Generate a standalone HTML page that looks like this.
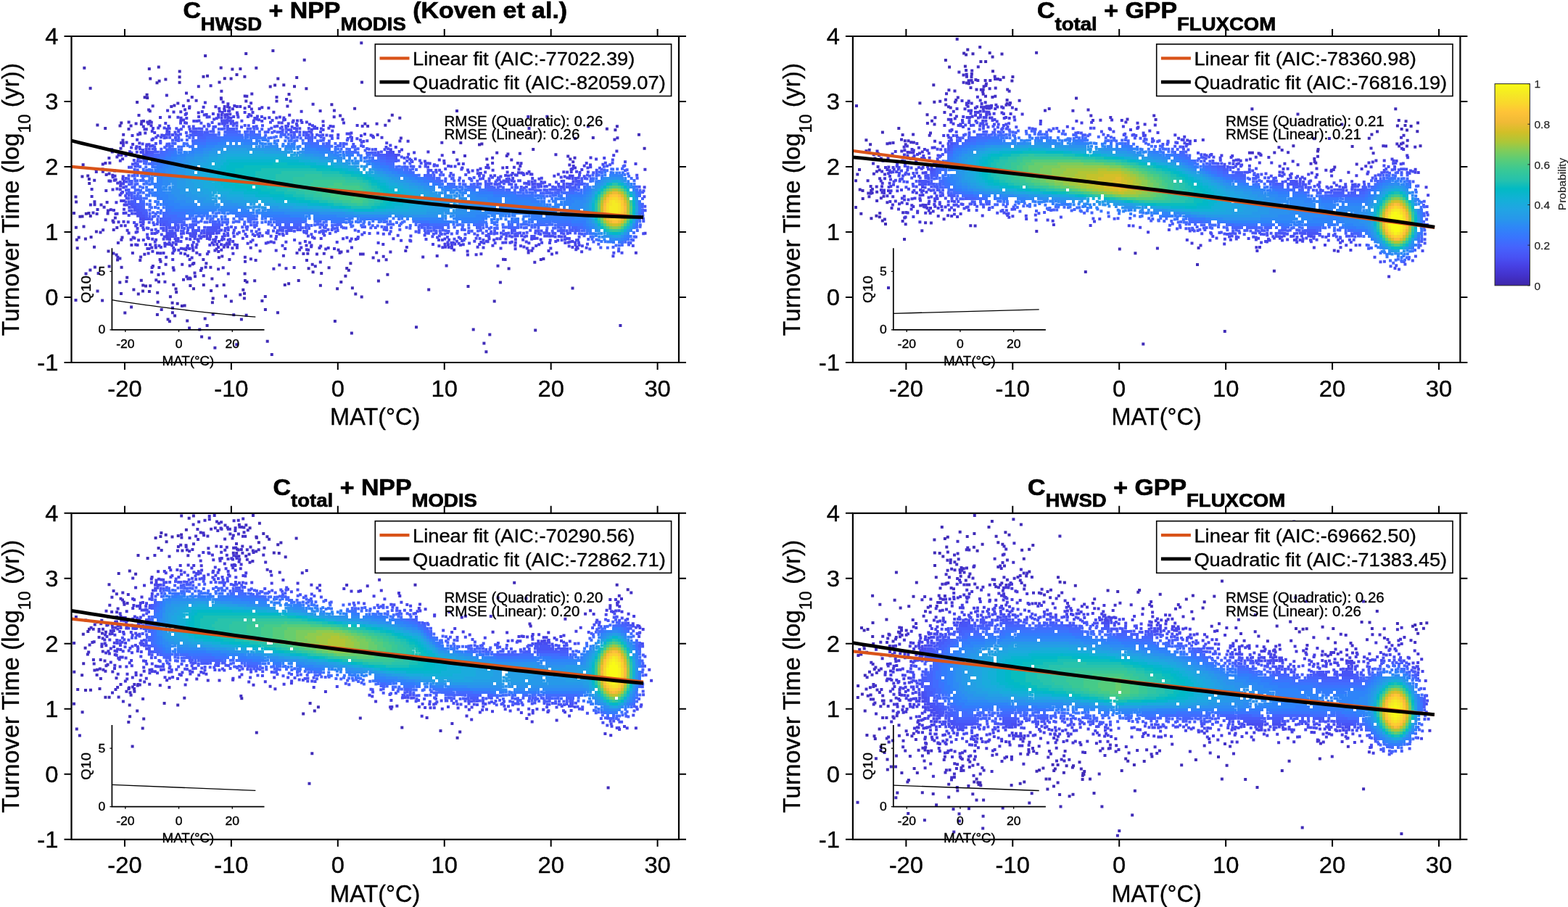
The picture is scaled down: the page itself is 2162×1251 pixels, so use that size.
<!DOCTYPE html>
<html><head><meta charset="utf-8"><title>Turnover time vs MAT</title><style>
*{margin:0;padding:0}
html,body{width:2162px;height:1251px;background:#fff;overflow:hidden}
svg{display:block}
text{font-family:'Liberation Sans', Arial, Helvetica, sans-serif;fill:#000;stroke:#000;stroke-width:0.35px}
.tk{font-size:31.5px}
.al{font-size:33px}
.als{font-size:23px}
.ti{font-size:32px;font-weight:bold;stroke-width:0.7px}
.ts{font-size:26px}
.lg{font-size:25.8px}
.rm{font-size:19.3px}
.itk{font-size:16px}
.il{font-size:18.8px}
.cbt{font-size:15.5px;fill:#262626;stroke:#262626;stroke-width:0.25px}
.cbl{font-size:15.5px;fill:#262626;stroke:#262626;stroke-width:0.2px}
</style></head><body>
<svg width="2162" height="1251" viewBox="0 0 2162 1251">
<g stroke-width="4" fill="none" shape-rendering="crispEdges"><path stroke="#4745e9" d="M288 326h4M232 330h4"/>
<path stroke="#484df0" d="M200 210h4M536 210h8M544 214h4M192 302h8M232 322h8M284 322h12M232 326h8"/>
<path stroke="#4854f6" d="M268 182h4M240 190h4M204 210h8M532 210h4M196 214h8M532 214h12M196 218h4M544 218h4M796 250h4M780 258h4M180 282h4M184 286h4M184 290h8M188 294h8M192 298h8M200 302h4M224 310h4M232 314h4M288 314h16M264 318h12M284 318h16M704 318h4"/>
<path stroke="#475cfa" d="M312 178h12M272 182h4M268 186h12M424 190h8M204 214h8M520 214h12M200 218h8M532 218h12M544 222h4M668 254h8M796 254h8M784 258h4M184 274h4M180 278h8M184 282h8M188 286h8M192 290h8M196 294h8M200 298h4M220 302h4M220 306h12M228 310h8M240 310h4M264 310h8M292 310h12M264 314h4M272 314h4M384 314h28M792 318h4"/>
<path stroke="#4564fd" d="M312 182h16M344 182h8M280 186h16M272 190h12M424 194h8M212 214h8M516 214h4M208 218h8M524 218h8M200 222h4M532 222h12M584 242h12M596 246h4M668 258h12M796 258h4M784 262h8M752 266h8M764 266h8M188 274h8M884 274h4M192 278h4M192 282h8M196 286h4M884 290h4M884 294h4M224 298h4M224 302h12M232 306h20M292 306h4M380 310h8M392 310h8M404 310h12M580 310h12M588 314h4M600 314h12M656 314h4M700 314h16M788 314h8M796 318h4"/>
<path stroke="#416cfe" d="M312 186h20M344 186h16M284 190h20M268 194h16M428 198h12M448 202h4M232 206h8M480 206h4M224 210h8M484 210h8M220 214h8M216 218h4M512 218h4M520 218h4M208 222h8M524 222h8M204 226h8M532 226h12M564 238h4M588 246h8M600 250h4M616 254h12M644 258h16M804 258h4M672 262h20M708 266h4M732 266h4M776 266h16M880 266h4M880 270h4M196 278h4M224 294h8M228 298h16M236 302h24M344 302h8M880 302h4M380 306h40M592 310h28M652 310h12M700 310h8M712 310h4M736 310h16M768 310h20M796 314h8"/>
<path stroke="#3a74fe" d="M304 190h32M344 190h16M284 194h20M268 198h16M420 198h8M428 202h20M452 206h4M232 210h8M476 210h8M228 214h8M220 218h8M216 222h8M512 222h12M212 226h8M524 226h8M536 230h8M544 234h8M556 238h8M568 242h8M580 246h8M592 250h8M604 254h8M620 258h8M652 262h4M660 262h12M804 262h4M876 262h4M680 266h28M792 266h4M712 270h24M780 270h4M880 278h4M880 282h4M228 290h8M232 294h24M880 294h4M244 298h12M260 298h4M324 298h28M880 298h4M376 302h40M456 306h16M572 306h20M660 306h8M704 306h12M732 306h4M740 306h20M764 306h24M788 310h16M876 310h4M804 314h4M808 318h4M812 322h4M864 330h4M856 334h4"/>
<path stroke="#327cfc" d="M304 194h8M316 194h32M352 194h4M284 198h16M272 202h12M420 202h8M264 206h4M436 206h16M240 210h4M456 210h4M236 214h8M480 214h8M228 218h8M224 222h8M508 222h4M220 226h8M516 226h8M216 230h8M524 230h12M216 234h4M536 234h8M216 238h4M548 238h8M212 242h4M560 242h8M208 246h4M572 246h8M584 250h8M212 254h4M596 254h8M212 258h4M612 258h8M872 258h4M208 262h4M640 262h12M808 262h4M212 266h4M660 266h20M804 266h4M876 266h4M216 270h4M680 270h32M784 270h20M216 274h8M704 274h32M780 274h8M224 278h4M732 278h12M224 282h8M228 286h12M880 286h4M236 290h32M880 290h4M256 294h32M320 294h24M748 294h16M360 298h40M732 298h16M752 298h20M416 302h4M432 302h44M496 302h36M560 302h4M664 302h4M732 302h60M592 306h28M628 306h4M636 306h24M788 306h20M876 306h4M804 310h4M808 314h4M812 318h4M864 326h4M860 330h4M844 334h4M852 334h4"/>
<path stroke="#2e84f9" d="M300 198h12M336 198h20M284 202h12M268 206h12M420 206h16M260 210h8M440 210h16M252 214h4M460 214h4M236 218h8M480 218h4M232 222h8M228 226h8M512 226h4M224 230h8M516 230h8M220 234h8M528 234h8M220 238h8M540 238h8M216 242h8M552 242h8M840 242h12M216 246h8M564 246h8M828 246h4M216 250h8M576 250h8M824 250h4M216 254h8M588 254h4M216 258h4M604 258h4M216 262h8M616 262h8M812 262h4M872 262h4M216 266h12M640 266h4M648 266h12M808 266h4M220 270h12M656 270h24M804 270h4M876 270h4M224 274h8M672 274h20M696 274h8M788 274h16M228 278h12M680 278h12M696 278h36M780 278h12M232 282h16M684 282h64M780 282h8M240 286h32M688 286h68M776 286h4M268 290h28M304 290h24M332 290h8M684 290h100M360 294h32M672 294h32M712 294h36M764 294h4M772 294h16M400 298h20M432 298h32M656 298h16M772 298h28M568 302h44M628 302h36M792 302h16M808 310h4M812 314h4M872 314h4M868 318h4M860 326h4M856 330h4"/>
<path stroke="#2d8bf4" d="M316 198h4M324 198h4M332 198h4M296 202h12M372 202h12M280 206h12M268 210h12M420 210h20M256 214h12M444 214h4M452 214h8M244 218h12M464 218h8M240 222h12M236 226h8M232 230h8M228 234h8M520 234h8M228 238h8M532 238h8M224 242h12M544 242h8M224 246h12M556 246h8M832 246h4M856 246h4M224 250h8M568 250h8M224 254h8M580 254h8M820 254h4M592 258h8M868 258h4M228 266h8M612 266h4M812 266h4M232 270h8M644 270h12M808 270h4M232 274h12M648 274h24M804 274h4M240 278h16M656 278h24M792 278h16M248 282h24M660 282h24M788 282h16M272 286h28M304 286h32M660 286h24M784 286h20M368 290h8M656 290h8M668 290h16M784 290h16M392 294h48M644 294h28M788 294h16M464 298h76M544 298h12M628 298h28M800 298h8M808 302h4M876 302h4M808 306h4M812 310h4M872 310h4M816 314h4M820 318h4M864 322h4M840 330h16"/>
<path stroke="#2b92ee" d="M308 202h40M292 206h12M380 206h8M392 206h4M280 210h8M416 210h4M268 214h12M432 214h12M256 218h12M452 218h12M252 222h8M476 222h4M244 226h12M240 230h12M236 234h12M516 234h4M236 238h8M528 238h4M236 242h8M536 242h8M236 246h8M548 246h4M836 246h20M232 250h12M560 250h8M828 250h4M240 254h4M572 254h8M824 254h4M864 254h4M240 258h4M584 258h8M820 258h4M236 262h12M592 262h8M816 262h4M236 266h12M240 270h16M612 270h8M812 270h4M244 274h20M636 274h8M808 274h4M876 274h4M256 278h12M272 278h8M632 278h24M808 278h4M276 282h20M308 282h20M632 282h28M804 282h4M336 286h4M632 286h28M804 286h4M376 290h24M628 290h16M648 290h8M804 290h4M440 294h36M628 294h16M804 294h4M556 298h48M808 298h4M876 298h4M812 306h4M816 310h4M836 326h4M856 326h4"/>
<path stroke="#2699e9" d="M304 206h4M312 206h4M340 206h40M288 210h12M396 210h4M280 214h8M420 214h12M268 218h12M440 218h12M260 222h12M464 222h8M256 226h8M252 230h8M248 234h8M244 238h12M520 238h8M244 242h12M532 242h4M244 246h12M540 246h8M244 250h12M552 250h8M832 250h4M244 254h12M564 254h8M828 254h4M244 258h12M576 258h8M824 258h4M248 262h8M584 262h8M820 262h4M248 266h16M592 266h4M816 266h4M872 266h4M256 270h16M600 270h8M264 274h20M608 274h16M812 274h4M280 278h16M304 278h16M608 278h16M876 278h4M328 282h12M612 282h8M808 282h4M876 282h4M372 286h12M608 286h16M808 286h4M400 290h32M604 290h16M808 290h4M476 294h12M536 294h4M588 294h24M808 294h4M876 294h4M812 302h4M820 314h4M868 314h4M864 318h4M860 322h4M840 326h4"/>
<path stroke="#249fe5" d="M316 206h24M304 210h8M364 210h32M288 214h12M412 214h8M280 218h8M428 218h12M272 222h12M452 222h8M264 226h12M472 226h8M260 230h12M488 230h4M256 234h12M256 238h12M516 238h4M256 242h8M524 242h8M256 246h8M536 246h4M256 250h8M544 250h8M836 250h4M856 250h4M256 254h12M556 254h8M256 258h12M564 258h12M260 262h12M576 262h8M264 266h16M584 266h8M272 270h16M588 270h12M816 270h4M284 274h8M304 274h8M596 274h12M320 278h20M596 278h12M812 278h4M364 282h8M596 282h16M384 286h20M596 286h12M876 286h4M432 290h24M588 290h16M876 290h4M488 294h48M540 294h48M812 294h4M812 298h4M816 306h4M872 306h4M820 310h4M844 326h4M852 326h4"/>
<path stroke="#1fa5e2" d="M312 210h32M348 210h16M300 214h8M392 214h4M400 214h4M288 218h12M416 218h12M284 222h8M440 222h12M276 226h12M464 226h8M276 230h4M480 230h8M268 234h12M272 238h4M264 242h12M520 242h4M264 246h12M528 246h8M264 250h12M536 250h8M840 250h4M268 254h12M548 254h8M832 254h4M860 254h4M268 258h12M556 258h8M864 258h4M276 262h12M564 262h12M280 266h12M572 266h12M288 270h4M304 270h8M584 270h4M872 270h4M312 274h24M584 274h12M340 278h16M584 278h12M372 282h16M584 282h12M812 282h4M404 286h20M580 286h16M812 286h4M456 290h16M564 290h24M812 290h4M816 302h4M824 314h4M848 326h4"/>
<path stroke="#1aabdd" d="M308 214h84M300 218h12M400 218h16M292 222h12M428 222h12M288 226h4M456 226h8M280 230h12M472 230h8M280 234h8M488 234h8M276 238h12M276 242h12M512 242h8M276 246h12M524 246h4M276 250h12M532 250h4M852 250h4M280 254h12M536 254h12M280 258h16M548 258h8M828 258h4M288 262h12M556 262h8M824 262h4M300 266h16M560 266h12M820 266h4M312 270h24M568 270h12M336 274h20M572 274h12M816 274h4M360 278h20M572 278h12M388 282h20M572 282h12M424 286h20M564 286h16M472 290h8M532 290h32M872 302h4M868 310h4M836 322h4M856 322h4"/>
<path stroke="#13b0d7" d="M312 218h88M304 222h8M412 222h16M296 226h12M436 226h16M292 230h12M460 230h12M288 234h12M480 234h8M288 238h12M496 238h4M288 242h12M508 242h4M288 246h12M516 246h8M288 250h4M296 250h4M524 250h8M844 250h8M292 254h12M532 254h4M296 258h12M536 258h12M300 262h20M548 262h8M316 266h20M552 266h8M868 266h4M336 270h16M556 270h12M356 274h20M556 274h16M872 274h4M380 278h12M396 278h4M560 278h12M816 278h4M408 282h16M556 282h16M444 286h12M544 286h20M480 290h8M516 290h16M816 294h4M816 298h4M820 306h4M864 314h4M860 318h4"/>
<path stroke="#07b5cf" d="M312 222h68M384 222h28M308 226h8M420 226h16M304 230h8M448 230h12M300 234h12M472 234h8M300 238h8M488 238h8M300 242h8M500 242h8M300 246h12M512 246h4M300 250h12M520 250h4M304 254h12M524 254h8M836 254h4M856 254h4M308 258h16M532 258h4M320 262h20M536 262h8M336 266h20M540 266h12M352 270h20M544 270h12M820 270h4M376 274h16M544 274h12M400 278h12M544 278h16M872 278h4M424 282h16M540 282h16M816 282h4M456 286h12M532 286h12M816 286h4M488 290h28M816 290h4M872 298h4M824 310h4M832 318h4M840 322h4M852 322h4"/>
<path stroke="#01b9c7" d="M316 226h60M396 226h24M312 230h24M428 230h20M312 234h12M456 234h16M308 238h16M476 238h12M308 242h16M496 242h4M312 246h16M504 246h8M312 250h20M512 250h8M316 254h20M520 254h4M324 258h24M524 258h8M832 258h4M860 258h4M340 262h20M528 262h8M864 262h4M356 266h16M532 266h8M824 266h4M372 270h20M536 270h8M392 274h16M536 274h8M412 278h16M536 278h8M440 282h12M532 282h8M872 282h4M468 286h8M520 286h12M872 290h4M872 294h4M820 302h4M868 306h4M828 314h4M844 322h8"/>
<path stroke="#09bdbe" d="M376 226h20M336 230h92M324 234h36M436 234h20M324 238h28M468 238h8M324 242h28M484 242h12M328 246h24M500 246h4M332 250h24M508 250h4M336 254h24M512 254h8M840 254h4M852 254h4M352 258h16M520 258h4M360 262h20M524 262h4M828 262h4M372 266h20M528 266h4M392 270h12M528 270h8M868 270h4M408 274h12M528 274h8M820 274h4M428 278h12M528 278h8M452 282h8M524 282h8M476 286h8M512 286h8M872 286h4"/>
<path stroke="#1bc0b4" d="M360 234h76M352 238h36M444 238h24M352 242h28M472 242h12M352 246h28M492 246h8M356 250h24M500 250h8M360 254h24M508 254h4M368 258h20M512 258h8M380 262h16M516 262h8M392 266h16M520 266h8M404 270h16M520 270h8M420 274h12M524 274h4M440 278h12M524 278h4M820 278h4M460 282h12M516 282h8M484 286h28M820 298h4M824 306h4M864 310h4M860 314h4M836 318h4M856 318h4"/>
<path stroke="#28c3ab" d="M388 238h56M380 242h40M444 242h28M380 246h24M476 246h16M380 250h24M496 250h4M384 254h20M504 254h4M844 254h8M388 258h20M508 258h4M836 258h4M856 258h4M396 262h16M512 262h4M408 266h12M516 266h4M864 266h4M420 270h12M516 270h4M824 270h4M432 274h12M516 274h8M452 278h8M516 278h8M472 282h8M508 282h8M820 282h4M820 286h4M820 290h4M820 294h4M868 302h4M828 310h4M832 314h4"/>
<path stroke="#31c5a1" d="M420 242h24M404 246h72M404 250h28M476 250h20M404 254h24M496 254h8M408 258h20M500 258h8M412 262h16M504 262h8M860 262h4M420 266h16M508 266h8M828 266h4M432 270h12M508 270h8M444 274h12M508 274h8M460 278h12M508 278h8M480 282h12M500 282h8M840 318h4M852 318h4"/>
<path stroke="#39c895" d="M432 250h44M428 254h32M472 254h24M428 258h24M496 258h4M428 262h20M500 262h4M832 262h4M436 266h16M500 266h8M444 270h12M504 270h4M456 274h12M504 274h4M824 274h4M472 278h12M500 278h8M868 278h4M492 282h8M868 298h4M824 302h4M864 306h4M844 318h8"/>
<path stroke="#45cb89" d="M460 254h12M452 258h44M840 258h4M852 258h4M448 262h52M452 266h48M456 270h28M496 270h8M864 270h4M468 274h20M496 274h8M484 278h16M868 282h4M868 294h4M824 298h4M860 310h4M836 314h4M856 314h4"/>
<path stroke="#55cc7b" d="M844 258h8M484 270h12M828 270h4M488 274h8M824 278h4M868 286h4M868 290h4M828 306h4M832 310h4"/>
<path stroke="#67cd6d" d="M836 262h4M856 262h4M832 266h4M860 266h4M824 282h4M824 286h4M824 290h4M824 294h4M864 302h4"/>
<path stroke="#7acc5e" d="M864 274h4M828 302h4M840 314h4M852 314h4"/>
<path stroke="#8ecb4f" d="M840 262h4M852 262h4M828 274h4M864 298h4M860 306h4M856 310h4M844 314h8"/>
<path stroke="#a1c840" d="M860 270h4M864 278h4M828 298h4M832 306h4M836 310h4"/>
<path stroke="#b3c534" d="M844 262h8M836 266h4M856 266h4M832 270h4M828 278h4M864 282h4M864 286h4M864 290h4M864 294h4"/>
<path stroke="#c4c22b" d="M860 274h4M828 282h4M828 294h4M860 302h4M840 310h4M852 310h4"/>
<path stroke="#d4bf28" d="M840 266h4M852 266h4M832 274h4M828 286h4M828 290h4M832 302h4M836 306h4M856 306h4M844 310h8"/>
<path stroke="#e2bc2b" d="M836 270h4M856 270h4M860 278h4M860 298h4"/>
<path stroke="#efba35" d="M844 266h8M832 278h4M860 282h4M860 294h4M832 298h4M856 302h4M840 306h4M852 306h4"/>
<path stroke="#fabb3d" d="M852 270h4M856 274h4M832 282h4M860 286h4M860 290h4M832 294h4M836 302h4"/>
<path stroke="#fec13a" d="M840 270h4M836 274h4M832 286h4M832 290h4M856 298h4M844 306h8"/>
<path stroke="#fec934" d="M844 270h8M852 274h4M836 278h4M856 278h4M856 282h4M856 294h4M836 298h4M840 302h4M852 302h4"/>
<path stroke="#fbd12f" d="M840 274h4M856 286h4M856 290h4M836 294h4M852 298h4M844 302h8"/>
<path stroke="#f8da2b" d="M844 274h8M852 278h4M836 282h4M836 286h4M836 290h4M852 294h4M840 298h4"/>
<path stroke="#f5e327" d="M840 278h4M848 278h4M840 282h4M852 282h4M852 286h4M852 290h4M840 294h4M844 298h8"/>
<path stroke="#f5eb23" d="M844 278h4M844 282h8M840 286h12M840 290h12M844 294h8"/></g>
<g stroke-width="4" fill="none"><path stroke="#402cb8" d="M496.3 59.2h4M374.4 70.0h4M337.2 74.0h4M281.1 77.1h4M417.7 82.7h4M571.3 85.6h4M114.3 93.7h4M203.8 94.9h4M216.8 92.6h4M302.7 93.6h4M318.4 95.6h4M329.4 95.1h4M351.3 93.8h4M245.7 98.4h4M324.5 103.1h4M827.4 100.4h4M245.6 106.2h4M278.5 105.7h4M284.0 104.8h4M335.4 105.7h4M407.2 107.1h4M205.2 108.5h4M217.6 111.7h4M226.4 109.5h4M307.8 108.3h4M316.6 108.5h4M381.3 108.6h4M214.5 114.2h4M245.6 113.8h4M300.5 113.4h4M497.0 113.6h4M370.7 119.6h4M377.1 117.4h4M389.3 117.2h4M404.0 119.2h4M122.6 121.8h4M420.4 122.3h4M200.6 130.8h4M396.5 130.0h4M197.6 134.2h4M201.2 134.9h4M187.1 141.0h4M455.4 144.3h4M487.1 149.7h4M628.0 152.9h4M538.8 158.7h4M549.3 162.7h4M726.3 161.1h4M752.3 160.7h4M534.5 166.4h4M165.3 169.4h4M132.4 172.4h4M163.5 173.5h4M808.9 174.2h4M848.9 174.3h4M143.2 177.0h4M727.5 177.1h4M834.9 177.8h4M846.4 179.3h4M879.0 185.7h4M790.9 190.9h4M815.8 189.9h4M633.3 197.1h4M659.0 199.5h4M662.4 198.6h4M733.2 206.1h4M886.6 204.7h4M112.6 227.3h4M111.4 243.4h4M119.2 242.4h4M120.9 246.9h4M121.2 253.1h4M102.5 271.5h4M103.1 278.6h4M100.0 294.0h4M116.8 294.7h4M120.5 293.9h4M108.4 298.8h4M111.5 298.6h4M122.8 298.0h4M102.9 313.8h4M113.5 312.4h4M130.9 319.6h4M106.7 327.4h4M123.6 327.1h4M103.9 330.8h4M115.9 329.5h4M104.7 342.2h4M128.0 340.8h4M147.5 346.5h4M160.1 358.6h4M481.4 363.3h4M148.6 367.5h4M128.9 368.4h4M165.6 368.8h4M423.6 370.3h4M451.6 369.3h4M476.2 369.9h4M699.6 370.6h4M122.4 372.4h4M429.6 375.2h4M478.9 372.8h4M116.5 377.6h4M133.6 377.0h4M335.6 377.6h4M441.2 376.9h4M532.4 378.7h4M173.2 382.7h4M474.4 380.7h4M192.8 386.7h4M290.4 384.4h4M336.0 387.1h4M349.2 387.3h4M409.7 387.0h4M519.9 387.6h4M163.3 389.5h4M172.4 388.3h4M217.0 388.7h4M338.5 388.9h4M396.1 391.2h4M468.3 389.0h4M687.9 389.4h4M195.2 393.4h4M199.1 394.6h4M205.2 394.2h4M237.3 392.7h4M260.4 393.9h4M278.8 393.1h4M297.2 394.2h4M306.7 393.0h4M390.8 393.0h4M439.9 393.8h4M643.5 395.1h4M182.4 399.6h4M240.5 398.6h4M265.0 398.3h4M333.3 399.7h4M463.1 398.2h4M483.9 397.3h4M589.2 399.5h4M787.5 397.6h4M132.5 401.4h4M195.0 401.5h4M203.9 402.1h4M215.2 403.7h4M241.2 403.0h4M289.1 400.9h4M165.0 404.9h4M188.8 405.4h4M329.3 406.4h4M335.0 404.7h4M488.3 405.4h4M232.9 409.2h4M291.7 411.4h4M309.1 408.5h4M334.9 411.6h4M363.8 409.0h4M496.7 409.4h4M102.5 414.1h4M139.1 414.5h4M316.9 415.4h4M359.4 415.0h4M679.7 415.5h4M215.6 416.8h4M235.6 417.7h4M242.7 418.7h4M290.9 417.2h4M531.4 416.8h4M179.1 423.4h4M248.9 422.1h4M252.6 421.4h4M220.7 427.1h4M236.0 424.7h4M363.9 426.9h4M170.3 431.6h4M235.9 431.3h4M381.0 431.3h4M214.9 434.0h4M239.1 435.4h4M291.7 433.6h4M320.3 434.2h4M337.6 434.7h4M280.7 439.5h4M229.6 440.5h4M231.9 443.2h4M256.2 442.5h4M330.9 440.5h4M459.9 442.9h4M283.6 449.1h4M572.0 451.2h4M853.4 449.0h4M259.1 452.4h4M273.3 454.5h4M650.7 454.5h4M736.2 455.4h4M482.9 459.6h4M673.3 461.5h4M276.1 464.5h4M286.7 466.2h4M366.7 470.7h4M324.3 475.2h4M665.4 473.6h4M294.4 479.7h4M668.4 485.3h4M372.8 489.0h4"/>
<path stroke="#4331c7" d="M271.8 119.2h4M288.6 118.3h4M303.4 125.8h4M227.9 131.5h4M255.0 128.5h4M345.3 129.5h4M262.8 134.0h4M302.9 135.2h4M335.7 132.4h4M338.3 132.7h4M379.5 134.0h4M257.6 138.7h4M268.6 138.8h4M303.0 136.6h4M337.3 139.5h4M379.5 139.4h4M393.1 137.0h4M398.6 139.5h4M243.3 142.5h4M429.6 143.7h4M208.7 146.2h4M234.3 147.0h4M238.4 145.5h4M394.4 146.5h4M203.1 151.4h4M204.8 153.2h4M439.6 153.0h4M458.9 152.6h4M189.5 158.9h4M467.1 159.6h4M458.7 161.2h4M193.3 167.5h4M196.0 167.0h4M204.7 167.3h4M470.6 164.7h4M175.6 168.6h4M185.6 170.6h4M192.9 171.2h4M501.3 170.8h4M517.6 170.7h4M178.6 173.5h4M505.1 173.9h4M529.3 172.8h4M175.5 177.9h4M168.2 185.7h4M550.9 190.4h4M849.4 190.3h4M167.4 193.4h4M845.4 192.5h4M165.1 197.1h4M167.8 197.2h4M607.3 196.8h4M152.0 206.2h4M164.5 204.7h4M152.8 209.5h4M623.5 210.1h4M683.2 210.8h4M714.9 211.7h4M161.4 214.1h4M639.0 214.9h4M696.8 214.9h4M698.4 212.5h4M764.4 213.3h4M781.2 215.5h4M148.4 217.9h4M159.4 216.5h4M669.3 219.5h4M677.1 217.8h4M784.3 219.5h4M790.5 217.8h4M703.3 220.6h4M788.2 223.3h4M139.8 226.5h4M143.4 225.0h4M149.4 224.8h4M130.3 233.2h4M139.5 233.6h4M130.8 237.1h4M139.9 236.7h4M148.6 239.6h4M144.6 241.1h4M153.3 241.8h4M128.2 248.8h4M148.4 249.6h4M124.6 261.0h4M144.3 263.1h4M124.6 271.1h4M128.4 278.3h4M145.6 279.1h4M122.9 282.6h4M128.5 282.3h4M137.5 282.6h4M141.6 285.7h4M132.5 288.9h4M146.9 290.6h4M150.9 289.2h4M126.5 293.6h4M131.6 295.0h4M146.6 294.5h4M143.6 303.3h4M156.9 300.6h4M153.6 304.4h4M154.6 306.4h4M159.3 314.1h4M140.1 317.3h4M154.7 316.9h4M136.5 320.6h4M166.5 327.4h4M165.4 330.7h4M160.9 335.0h4M179.4 338.0h4M464.5 344.7h4M468.5 347.4h4M477.4 346.4h4M536.4 347.6h4M557.3 345.9h4M154.4 349.5h4M158.6 351.5h4M180.9 349.0h4M197.3 350.7h4M407.5 348.9h4M416.4 350.1h4M422.3 349.7h4M435.0 350.5h4M444.8 349.7h4M466.5 348.8h4M495.0 350.5h4M498.7 350.4h4M517.2 348.6h4M160.4 354.8h4M192.1 354.5h4M299.9 355.3h4M304.3 353.6h4M335.9 354.7h4M388.9 352.7h4M455.4 354.7h4M512.6 355.6h4M526.7 353.8h4M581.2 354.5h4M600.7 352.9h4M163.4 356.6h4M191.2 359.0h4M218.6 358.1h4M278.4 358.0h4M314.4 357.9h4M343.9 357.3h4M350.6 358.9h4M421.0 358.9h4M520.1 359.4h4M530.6 358.3h4M692.0 357.7h4M694.6 357.9h4M743.8 358.1h4M747.4 356.9h4M219.5 360.8h4M265.3 363.1h4M282.4 363.3h4M336.0 360.8h4M439.8 361.4h4M735.3 361.7h4M208.9 367.0h4M226.6 364.7h4M249.2 364.8h4M259.7 366.4h4M263.8 364.3h4M383.3 365.5h4M428.7 364.7h4M432.8 367.2h4M613.6 366.4h4M684.5 366.7h4M207.6 369.1h4M217.4 369.0h4M236.8 369.2h4M276.1 370.3h4M281.6 368.4h4M288.4 368.7h4M299.1 371.3h4M305.7 369.2h4M375.4 370.8h4M392.5 370.2h4M403.6 368.9h4M207.2 375.3h4M237.7 372.6h4M274.9 373.1h4M216.5 379.1h4M223.0 377.6h4M266.5 376.5h4M312.8 377.6h4M255.4 381.6h4M259.6 383.5h4M267.0 381.3h4M278.7 380.3h4M213.3 386.2h4M251.0 385.7h4M257.2 384.6h4M260.6 384.6h4M225.4 388.8h4"/>
<path stroke="#4537d5" d="M280.9 141.5h4M305.6 140.8h4M312.4 143.3h4M344.1 142.3h4M250.9 146.0h4M259.4 147.2h4M278.6 147.7h4M295.4 147.3h4M307.7 147.0h4M312.1 147.3h4M321.3 146.0h4M324.8 147.1h4M329.3 147.0h4M341.6 146.9h4M253.1 151.3h4M259.1 148.9h4M300.2 149.7h4M307.2 150.6h4M314.3 148.5h4M318.9 150.2h4M335.6 149.3h4M344.9 150.4h4M355.7 150.0h4M359.3 148.3h4M368.4 149.1h4M229.1 152.4h4M237.5 154.5h4M247.3 154.3h4M271.7 155.4h4M375.4 154.8h4M413.6 153.7h4M397.2 158.7h4M219.0 162.1h4M231.8 161.3h4M443.5 167.6h4M201.4 168.4h4M202.8 170.7h4M206.8 168.7h4M472.0 169.5h4M195.8 174.4h4M206.5 173.2h4M490.6 172.9h4M497.7 173.9h4M197.5 178.3h4M199.8 178.3h4M190.9 183.6h4M198.3 183.5h4M180.5 187.0h4M188.3 185.4h4M191.2 184.7h4M511.8 187.7h4M518.6 186.1h4M524.5 189.8h4M549.4 194.4h4M560.6 194.7h4M172.5 196.6h4M181.1 198.9h4M167.9 200.8h4M167.8 211.4h4M588.4 209.4h4M848.4 208.4h4M165.4 214.0h4M171.6 214.4h4M607.7 214.2h4M167.1 219.2h4M812.5 217.5h4M163.8 221.8h4M628.3 220.6h4M670.4 227.7h4M677.1 225.1h4M711.9 225.0h4M716.5 225.3h4M783.3 227.4h4M691.3 231.6h4M697.0 231.1h4M706.9 230.7h4M715.3 228.9h4M788.7 228.9h4M791.0 231.4h4M156.0 235.4h4M887.4 233.8h4M156.5 242.8h4M153.6 244.3h4M157.6 247.7h4M150.4 249.7h4M155.8 248.8h4M160.2 252.5h4M153.5 261.6h4M158.4 279.3h4M155.0 289.9h4M157.5 294.9h4M159.5 294.8h4M161.5 306.2h4M168.5 305.8h4M165.2 311.3h4M170.7 311.3h4M173.6 317.8h4M175.6 321.6h4M181.6 327.4h4M178.7 330.6h4M183.4 328.5h4M189.1 331.3h4M185.2 337.6h4M187.5 337.9h4M199.0 337.2h4M205.0 337.6h4M420.5 338.6h4M427.5 338.4h4M440.2 339.5h4M526.3 336.9h4M201.4 343.1h4M203.4 343.1h4M207.4 341.6h4M212.9 341.4h4M296.6 343.6h4M299.0 341.0h4M306.8 340.7h4M312.1 340.5h4M318.4 342.2h4M324.9 341.8h4M343.7 341.7h4M391.2 342.9h4M413.3 341.6h4M427.1 340.3h4M438.5 342.0h4M447.2 343.5h4M450.7 342.1h4M459.0 343.0h4M483.0 341.6h4M558.9 341.0h4M208.4 346.7h4M254.3 344.6h4M264.4 345.6h4M285.6 347.3h4M294.4 345.6h4M299.2 346.9h4M303.3 344.8h4M356.6 346.3h4M378.7 345.5h4M411.1 344.6h4M420.9 344.3h4M423.1 344.7h4M624.0 344.7h4M642.6 346.5h4M726.7 345.9h4M731.2 345.7h4M754.5 346.0h4M202.6 349.5h4M215.1 348.9h4M219.2 349.3h4M223.5 349.0h4M236.2 349.2h4M247.3 349.3h4M253.0 350.2h4M269.3 348.7h4M273.6 351.3h4M283.9 350.3h4M319.4 349.8h4M642.9 351.4h4M654.6 351.3h4M661.4 350.3h4M726.6 348.4h4M759.0 350.6h4M765.5 348.8h4M874.9 348.8h4M227.1 354.7h4M257.0 352.7h4M262.6 355.4h4M236.2 357.9h4M259.6 358.0h4"/>
<path stroke="#463ee1" d="M276.8 154.1h4M300.7 153.5h4M304.6 155.0h4M308.0 152.8h4M312.9 153.3h4M314.4 152.8h4M324.9 155.6h4M335.6 154.9h4M346.5 154.9h4M253.7 157.9h4M255.1 156.6h4M279.7 158.4h4M282.7 157.9h4M291.9 157.0h4M299.1 158.3h4M303.7 158.4h4M308.3 158.2h4M311.2 158.0h4M315.3 157.5h4M325.6 158.3h4M341.5 157.9h4M344.3 159.6h4M243.4 161.8h4M247.6 162.7h4M255.3 163.1h4M272.1 161.1h4M363.2 163.3h4M369.3 162.3h4M379.3 162.6h4M383.9 161.6h4M389.4 162.5h4M247.3 166.8h4M251.1 165.4h4M390.9 165.1h4M402.6 166.4h4M408.0 166.5h4M413.2 166.2h4M226.3 169.9h4M414.4 168.9h4M420.9 168.4h4M425.0 171.4h4M218.3 173.5h4M443.8 173.2h4M453.5 173.9h4M457.6 174.5h4M209.0 177.1h4M216.3 176.5h4M451.4 176.7h4M207.8 181.0h4M211.2 183.1h4M482.4 183.4h4M496.0 187.3h4M501.0 185.0h4M509.6 186.6h4M513.0 189.5h4M187.1 192.7h4M190.3 197.5h4M531.2 197.3h4M179.1 203.4h4M186.4 202.3h4M543.8 203.1h4M185.7 204.8h4M552.0 206.4h4M177.1 209.2h4M179.4 210.9h4M569.1 210.5h4M844.2 214.3h4M820.1 219.4h4M603.8 220.5h4M610.3 221.9h4M610.6 225.3h4M630.5 225.9h4M636.8 225.9h4M806.7 225.0h4M812.0 227.5h4M874.5 226.1h4M635.4 231.6h4M668.4 230.9h4M671.7 231.5h4M803.7 228.8h4M660.5 232.7h4M677.6 234.8h4M713.5 233.5h4M785.5 233.6h4M787.1 233.0h4M800.3 234.0h4M697.6 237.6h4M704.8 239.1h4M713.0 238.3h4M717.1 238.4h4M719.3 239.2h4M724.8 239.2h4M727.5 237.1h4M775.3 237.2h4M780.1 237.5h4M785.7 237.0h4M167.7 243.4h4M729.7 240.3h4M731.4 240.4h4M762.3 242.7h4M767.8 240.6h4M167.4 246.8h4M163.9 251.3h4M164.6 253.4h4M164.1 256.4h4M159.4 260.6h4M163.8 261.3h4M165.3 266.4h4M163.6 269.0h4M165.2 276.9h4M168.8 277.0h4M169.5 282.5h4M169.0 288.7h4M168.6 294.1h4M171.5 293.8h4M174.7 306.3h4M185.2 311.6h4M187.5 315.1h4M187.4 319.5h4M185.6 320.5h4M887.5 321.8h4M201.4 327.5h4M195.8 331.1h4M202.8 328.9h4M208.2 329.7h4M213.1 330.8h4M332.9 328.7h4M431.5 328.6h4M440.7 329.0h4M471.1 329.2h4M482.7 329.4h4M488.7 330.1h4M491.3 329.0h4M540.4 329.2h4M551.1 331.7h4M211.8 333.5h4M225.3 335.6h4M290.6 335.0h4M294.8 332.9h4M300.0 333.0h4M311.2 335.4h4M314.5 332.8h4M319.2 332.9h4M339.6 335.7h4M343.9 333.6h4M364.8 335.4h4M367.6 334.5h4M371.7 333.4h4M375.8 334.5h4M392.4 333.8h4M411.6 335.5h4M418.9 333.0h4M425.1 334.5h4M462.7 333.9h4M480.9 332.4h4M519.6 335.1h4M564.3 332.4h4M212.4 338.3h4M217.5 339.0h4M225.5 339.6h4M228.9 336.7h4M232.3 337.0h4M235.2 338.5h4M240.8 337.1h4M256.9 338.7h4M263.2 338.2h4M269.5 337.2h4M287.3 337.9h4M292.6 337.4h4M297.3 336.9h4M303.0 337.3h4M307.5 338.3h4M310.5 336.8h4M314.4 336.8h4M321.7 337.6h4M325.0 338.1h4M351.3 338.1h4M387.5 338.8h4M595.0 337.1h4M603.4 339.2h4M611.5 336.8h4M616.0 337.7h4M620.9 338.6h4M625.2 336.7h4M632.9 337.9h4M636.8 337.3h4M659.2 337.1h4M677.4 338.7h4M708.3 338.5h4M716.0 339.2h4M737.2 338.9h4M741.2 337.3h4M219.9 341.1h4M237.2 342.0h4M247.8 342.8h4M251.5 343.2h4M255.8 341.9h4M259.2 343.1h4M263.6 341.9h4M268.5 341.3h4M608.3 341.3h4M612.1 340.7h4M616.8 341.0h4M621.0 341.9h4M656.6 340.8h4M664.5 341.6h4M688.5 342.5h4M708.6 343.2h4M720.4 340.5h4M724.8 342.5h4M732.8 342.5h4M757.3 342.5h4M787.4 340.9h4M793.2 340.7h4M794.6 342.5h4M237.6 346.3h4M238.9 344.6h4M244.3 344.9h4M792.2 344.3h4M800.1 347.3h4"/>
<path stroke="#4745e9" d="M283.6 161.5h4M286.6 161.2h4M296.7 163.2h4M299.1 161.8h4M303.5 162.4h4M308.5 161.7h4M312.7 162.1h4M316.4 162.8h4M320.2 161.1h4M326.4 161.6h4M339.9 161.0h4M349.3 163.0h4M352.9 160.6h4M358.9 161.0h4M265.3 167.0h4M269.4 166.9h4M272.5 166.4h4M293.1 164.4h4M347.9 166.8h4M352.3 164.6h4M355.1 165.3h4M359.2 166.9h4M373.6 166.0h4M389.1 165.5h4M247.1 169.7h4M253.0 169.3h4M255.0 169.8h4M382.5 169.2h4M386.7 169.5h4M395.7 170.5h4M401.6 168.4h4M406.9 171.1h4M230.4 174.1h4M407.7 173.4h4M429.0 173.2h4M432.0 175.1h4M224.6 176.6h4M228.5 177.9h4M231.7 177.3h4M427.9 178.7h4M431.4 177.1h4M435.1 177.0h4M440.9 177.6h4M443.6 178.9h4M228.4 181.7h4M456.3 180.4h4M215.7 187.3h4M221.2 186.6h4M464.2 185.9h4M476.6 184.5h4M480.4 184.6h4M209.0 191.4h4M213.3 189.6h4M483.0 189.9h4M490.4 191.2h4M207.5 192.9h4M499.3 194.9h4M504.3 194.2h4M194.6 198.4h4M200.4 199.4h4M203.5 199.3h4M190.5 203.1h4M200.0 201.7h4M530.5 203.1h4M536.3 200.4h4M191.0 205.2h4M536.8 206.2h4M186.8 209.7h4M548.7 209.0h4M561.2 212.7h4M570.7 219.3h4M831.2 218.0h4M584.0 222.6h4M860.0 223.3h4M590.7 225.4h4M596.9 227.2h4M616.2 229.1h4M620.0 229.4h4M625.5 229.4h4M808.4 231.6h4M812.3 230.3h4M634.4 233.6h4M643.0 234.5h4M649.6 235.6h4M656.7 234.7h4M644.3 237.5h4M656.8 239.3h4M660.8 238.9h4M667.1 237.6h4M793.0 236.7h4M797.5 238.0h4M674.7 242.4h4M680.1 242.2h4M688.4 243.5h4M695.1 242.0h4M699.0 242.6h4M703.2 241.6h4M708.6 241.2h4M710.7 241.7h4M720.2 240.9h4M776.6 243.6h4M783.9 242.4h4M787.6 242.8h4M705.1 245.9h4M732.2 246.0h4M741.4 246.8h4M744.8 245.7h4M771.7 244.6h4M780.3 245.2h4M783.3 245.7h4M169.0 249.7h4M749.1 251.4h4M168.1 253.6h4M168.2 258.4h4M886.6 258.2h4M167.1 265.1h4M172.7 282.5h4M175.7 297.0h4M183.1 307.1h4M186.5 309.7h4M192.6 311.1h4M195.3 309.2h4M195.2 313.7h4M200.7 314.6h4M196.1 316.7h4M207.2 317.3h4M201.1 323.5h4M207.5 321.9h4M211.7 322.0h4M214.4 320.7h4M224.8 326.5h4M228.0 325.7h4M279.3 326.1h4M283.5 325.6h4M296.2 326.9h4M304.8 326.8h4M307.8 324.9h4M312.3 324.8h4M320.7 325.9h4M338.3 326.0h4M349.1 325.1h4M355.1 326.1h4M359.7 325.3h4M371.6 325.7h4M379.1 325.9h4M388.7 324.4h4M422.9 325.5h4M429.0 327.2h4M445.3 324.6h4M476.4 327.7h4M491.8 327.1h4M546.7 324.7h4M564.4 325.6h4M223.6 329.7h4M228.4 329.6h4M239.5 329.3h4M243.6 329.1h4M255.3 329.2h4M260.2 329.9h4M266.5 329.1h4M270.7 330.3h4M274.8 328.5h4M283.8 329.1h4M287.2 330.0h4M292.2 330.8h4M295.2 330.2h4M303.9 330.7h4M306.8 329.7h4M312.6 331.0h4M315.1 330.3h4M346.5 331.2h4M378.3 329.6h4M404.1 330.9h4M563.3 331.5h4M585.5 330.0h4M603.0 330.9h4M607.9 330.9h4M611.4 329.6h4M617.1 330.7h4M672.5 329.3h4M679.1 330.9h4M683.3 329.3h4M687.6 329.3h4M695.5 329.6h4M708.9 330.2h4M719.1 330.7h4M731.1 329.8h4M734.7 329.1h4M738.6 328.8h4M743.6 330.5h4M756.7 331.2h4M767.2 331.4h4M231.5 334.6h4M236.7 334.7h4M240.9 332.7h4M243.3 332.8h4M247.5 332.9h4M264.8 334.3h4M271.6 332.8h4M615.4 334.5h4M620.4 334.9h4M623.2 334.8h4M627.9 332.8h4M630.7 335.7h4M635.2 332.3h4M645.1 335.4h4M652.3 332.8h4M661.3 334.0h4M665.3 335.2h4M668.9 332.7h4M670.6 333.3h4M680.7 335.2h4M691.3 334.8h4M695.4 334.5h4M701.4 334.7h4M703.8 333.8h4M708.8 334.7h4M723.7 333.5h4M727.4 335.2h4M745.1 334.8h4M756.0 334.9h4M764.3 333.0h4M777.3 335.0h4M781.6 334.4h4M783.6 333.6h4M787.3 333.1h4M791.2 334.6h4M782.7 339.6h4M791.4 337.7h4M796.6 338.0h4M800.9 339.3h4M806.6 341.7h4M843.4 353.2h4"/>
<path stroke="#484df0" d="M304.1 166.6h4M307.9 166.3h4M311.7 166.1h4M315.0 166.6h4M318.9 167.3h4M331.4 166.7h4M275.4 169.8h4M285.2 171.6h4M290.6 169.0h4M300.2 171.0h4M304.5 170.6h4M307.9 170.2h4M311.5 169.5h4M316.5 170.6h4M320.7 170.6h4M324.5 169.6h4M347.7 168.9h4M371.0 168.8h4M250.9 174.4h4M258.8 174.7h4M264.7 174.5h4M279.5 174.3h4M285.5 173.8h4M376.8 174.4h4M380.3 173.9h4M386.8 175.3h4M392.2 173.9h4M394.8 173.9h4M400.6 175.1h4M241.4 177.2h4M244.4 179.4h4M247.9 178.3h4M259.7 178.0h4M399.3 179.3h4M404.0 176.9h4M407.0 177.7h4M411.3 177.2h4M423.8 177.1h4M231.2 181.9h4M239.5 182.4h4M244.1 181.6h4M424.3 181.4h4M427.4 182.6h4M440.1 182.0h4M224.2 186.9h4M227.7 185.6h4M231.6 185.8h4M236.0 186.0h4M443.1 186.3h4M448.4 186.5h4M453.6 187.2h4M455.6 187.2h4M220.1 189.2h4M224.7 190.2h4M227.7 189.7h4M464.0 190.3h4M477.7 191.0h4M481.5 188.7h4M219.2 194.7h4M482.9 193.9h4M494.9 193.3h4M212.9 198.1h4M496.6 196.5h4M204.7 201.6h4M208.7 201.1h4M195.0 206.9h4M199.5 205.9h4M203.7 205.7h4M528.5 206.3h4M533.1 205.3h4M192.4 210.1h4M195.6 210.0h4M547.8 213.8h4M188.5 218.5h4M555.6 217.9h4M560.1 217.0h4M563.0 219.4h4M182.8 220.9h4M566.4 222.9h4M576.9 221.4h4M842.8 220.4h4M180.9 226.4h4M578.7 225.1h4M584.9 226.2h4M587.4 225.3h4M829.4 226.8h4M832.8 224.7h4M176.0 230.7h4M588.0 230.6h4M596.6 228.7h4M601.0 228.6h4M599.2 234.7h4M604.1 234.8h4M612.2 232.9h4M619.7 239.1h4M808.9 237.2h4M640.2 241.1h4M659.0 242.4h4M664.8 242.3h4M797.0 241.4h4M803.7 243.3h4M876.2 241.7h4M171.7 246.0h4M664.0 246.3h4M672.6 246.4h4M677.0 244.7h4M685.0 245.3h4M686.6 247.5h4M696.6 246.9h4M699.9 247.0h4M787.6 246.1h4M791.9 246.0h4M795.8 245.5h4M172.0 250.5h4M688.9 251.2h4M692.5 249.5h4M696.3 250.6h4M699.3 250.6h4M703.8 249.3h4M706.9 250.2h4M713.2 249.2h4M714.9 249.3h4M726.9 250.5h4M731.5 250.4h4M735.7 249.6h4M744.4 250.7h4M765.0 251.3h4M772.6 250.0h4M775.2 249.7h4M788.4 250.2h4M721.2 252.8h4M724.8 252.9h4M727.5 254.2h4M732.3 254.3h4M735.6 253.8h4M739.8 254.2h4M743.2 254.4h4M746.6 252.6h4M756.0 254.7h4M768.1 254.1h4M775.4 254.1h4M171.2 270.1h4M886.4 271.2h4M172.6 273.6h4M171.5 278.6h4M176.3 286.1h4M176.4 290.4h4M180.0 294.5h4M184.2 294.4h4M188.1 297.8h4M191.7 306.2h4M195.7 306.0h4M202.4 314.9h4M212.7 316.6h4M215.9 319.0h4M223.3 317.7h4M227.6 318.1h4M303.3 317.6h4M308.2 318.6h4M312.7 317.1h4M320.8 317.5h4M333.7 318.8h4M220.8 323.4h4M228.5 322.0h4M239.5 321.5h4M248.0 322.6h4M251.1 321.8h4M256.2 321.1h4M260.2 322.3h4M264.3 321.9h4M267.9 321.9h4M275.6 321.8h4M279.8 321.4h4M296.6 321.7h4M299.7 321.2h4M307.1 322.9h4M312.0 321.8h4M319.9 321.5h4M325.3 322.5h4M327.8 320.7h4M336.4 323.1h4M346.7 323.2h4M353.3 323.3h4M356.2 321.8h4M365.5 321.1h4M367.6 321.8h4M379.9 321.0h4M383.3 322.7h4M387.8 322.6h4M393.4 322.1h4M417.6 320.5h4M420.8 321.6h4M427.4 323.3h4M438.5 320.5h4M443.9 321.9h4M452.9 322.0h4M497.3 323.6h4M500.4 321.0h4M507.5 322.0h4M519.0 321.5h4M526.8 322.8h4M535.1 322.5h4M885.2 322.2h4M240.2 325.6h4M248.4 326.9h4M260.7 325.5h4M263.6 326.0h4M267.3 325.7h4M272.7 325.4h4M276.0 326.5h4M583.6 324.4h4M594.4 326.2h4M601.1 327.4h4M603.8 325.6h4M614.9 326.9h4M630.8 327.4h4M656.5 324.4h4M668.6 325.1h4M672.2 326.6h4M689.3 326.4h4M696.3 325.4h4M700.7 325.5h4M703.9 326.6h4M708.2 325.6h4M711.6 325.2h4M717.1 325.2h4M721.3 326.6h4M724.1 325.4h4M731.2 325.9h4M734.6 326.1h4M749.2 325.5h4M752.1 325.5h4M756.2 325.8h4M760.0 325.5h4M763.6 326.5h4M768.6 325.9h4M772.4 326.5h4M776.8 326.3h4M624.5 329.7h4M633.1 328.9h4M637.7 331.2h4M639.3 328.8h4M654.6 328.7h4M659.6 329.1h4M664.4 331.1h4M772.6 331.2h4M777.0 330.6h4M780.0 328.9h4M782.9 328.9h4M793.0 331.2h4M795.0 331.1h4M796.0 334.7h4M808.0 336.8h4M870.8 338.9h4M811.3 343.6h4M844.3 348.8h4M855.5 348.8h4"/>
<path stroke="#4854f6" d="M286.5 173.0h4M292.5 174.9h4M295.0 174.8h4M307.5 173.5h4M311.9 174.0h4M319.7 173.3h4M324.5 173.6h4M331.0 175.2h4M335.7 173.1h4M340.8 173.3h4M347.6 174.9h4M351.7 174.3h4M360.0 173.3h4M264.6 177.7h4M268.3 177.8h4M272.4 177.5h4M276.3 177.7h4M283.2 178.6h4M368.7 178.6h4M372.3 176.8h4M384.7 176.9h4M387.7 179.2h4M392.5 177.8h4M395.9 179.0h4M254.9 182.9h4M260.7 181.3h4M264.3 181.9h4M399.4 182.3h4M403.5 182.8h4M407.0 181.4h4M411.4 182.2h4M417.0 182.4h4M420.7 182.7h4M240.4 185.8h4M243.7 186.6h4M246.9 185.3h4M420.6 186.5h4M423.7 186.3h4M428.3 186.1h4M435.0 186.1h4M439.0 186.9h4M232.2 189.7h4M444.5 190.8h4M455.9 191.0h4M476.8 193.2h4M219.3 197.3h4M485.3 199.1h4M211.2 202.6h4M496.2 201.0h4M498.9 202.0h4M208.5 205.6h4M212.0 206.0h4M506.8 205.7h4M511.6 206.3h4M515.9 206.0h4M519.7 210.3h4M523.9 209.6h4M191.8 217.7h4M551.8 216.6h4M187.8 222.2h4M191.9 222.4h4M559.2 222.1h4M565.0 221.1h4M184.4 225.3h4M187.8 226.6h4M839.1 227.2h4M842.5 224.8h4M179.2 230.7h4M184.5 229.6h4M576.9 229.7h4M584.6 229.6h4M825.0 231.7h4M859.3 228.5h4M588.5 234.7h4M592.3 234.9h4M820.7 234.7h4M599.6 237.6h4M606.5 237.7h4M816.2 238.3h4M175.6 242.2h4M618.4 242.8h4M623.1 241.6h4M808.0 241.6h4M175.3 246.5h4M632.0 245.6h4M645.3 246.1h4M647.1 246.9h4M651.6 245.1h4M660.1 246.8h4M800.3 246.3h4M804.9 245.9h4M876.6 245.7h4M656.3 249.7h4M667.7 250.2h4M672.5 249.7h4M681.5 250.8h4M683.4 248.8h4M792.3 250.1h4M675.5 253.6h4M680.5 254.1h4M683.5 254.3h4M686.8 253.5h4M692.9 253.2h4M700.3 254.0h4M703.4 254.2h4M709.1 254.9h4M779.9 253.7h4M783.9 254.0h4M787.7 253.8h4M792.1 254.3h4M172.0 257.5h4M716.8 257.9h4M721.0 259.3h4M723.9 257.7h4M732.4 258.3h4M735.7 257.9h4M740.2 257.7h4M744.2 257.3h4M749.0 257.3h4M751.8 257.0h4M760.1 257.8h4M764.0 258.4h4M768.6 257.4h4M771.8 257.9h4M775.6 257.9h4M172.0 262.2h4M885.5 263.2h4M173.0 266.7h4M175.8 269.5h4M175.5 273.7h4M175.9 278.3h4M176.1 281.6h4M180.2 285.8h4M887.3 284.8h4M179.7 290.4h4M887.6 290.2h4M203.6 302.1h4M203.7 306.7h4M209.4 307.2h4M210.5 310.1h4M214.9 309.1h4M219.9 310.0h4M220.3 314.7h4M223.5 314.5h4M227.8 313.9h4M236.1 314.3h4M239.6 314.1h4M244.0 313.7h4M280.1 313.8h4M284.3 314.1h4M308.8 314.9h4M312.6 314.1h4M317.0 313.1h4M322.7 314.1h4M332.2 313.2h4M337.6 313.2h4M339.2 312.8h4M349.2 313.3h4M232.2 318.4h4M235.7 318.4h4M240.6 317.4h4M243.2 317.7h4M248.1 318.5h4M250.6 319.0h4M257.0 317.0h4M276.6 318.6h4M279.7 318.1h4M300.2 318.2h4M338.5 316.5h4M344.9 318.7h4M351.5 319.4h4M355.1 316.6h4M367.8 318.3h4M375.0 318.4h4M380.7 318.2h4M384.0 317.8h4M387.9 318.1h4M392.6 318.4h4M395.9 318.0h4M399.7 318.1h4M403.9 318.7h4M408.4 317.1h4M412.1 316.9h4M417.0 319.0h4M421.1 318.2h4M432.9 319.3h4M440.8 319.3h4M443.2 318.3h4M446.9 318.8h4M450.5 316.8h4M455.7 317.0h4M460.8 319.6h4M463.6 317.9h4M487.7 317.5h4M492.3 319.1h4M527.7 316.5h4M531.3 317.1h4M536.7 319.3h4M549.3 316.8h4M571.5 319.4h4M575.9 317.3h4M675.2 319.4h4M680.1 318.5h4M692.2 318.5h4M707.8 318.0h4M729.2 317.8h4M736.7 318.5h4M740.3 318.3h4M744.5 318.4h4M751.8 317.8h4M575.7 320.6h4M584.8 321.4h4M588.9 321.7h4M595.8 322.8h4M599.4 321.6h4M605.2 321.5h4M606.8 323.1h4M611.4 322.7h4M615.4 321.2h4M620.8 322.6h4M628.3 321.8h4M639.5 323.3h4M644.3 321.0h4M652.3 322.6h4M663.6 321.6h4M671.6 323.1h4M674.9 322.1h4M679.3 322.4h4M683.3 321.8h4M689.0 321.4h4M692.3 323.0h4M696.1 322.1h4M699.4 321.6h4M704.0 321.5h4M708.2 322.2h4M711.9 321.7h4M715.2 321.2h4M720.0 321.8h4M724.6 320.8h4M736.3 321.4h4M740.9 322.2h4M743.3 323.0h4M748.2 321.3h4M751.8 321.6h4M755.3 322.2h4M760.4 321.4h4M763.4 322.1h4M772.1 321.5h4M775.4 322.2h4M780.6 321.9h4M784.0 321.2h4M796.6 326.7h4M851.0 346.2h4"/>
<path stroke="#475cfa" d="M292.1 178.3h4M299.8 178.0h4M303.9 178.1h4M307.6 177.4h4M324.2 177.8h4M339.6 177.8h4M343.4 177.7h4M348.4 177.8h4M352.7 177.5h4M359.2 178.2h4M276.0 182.1h4M280.2 182.4h4M284.2 182.2h4M288.4 181.6h4M292.4 181.7h4M363.7 182.2h4M367.6 182.1h4M373.3 182.7h4M376.4 181.3h4M380.7 182.3h4M384.7 182.0h4M387.5 182.9h4M392.7 181.9h4M255.9 187.4h4M260.5 186.3h4M264.3 185.9h4M399.7 186.4h4M404.0 186.0h4M411.3 186.3h4M416.7 186.3h4M244.3 190.0h4M420.0 190.2h4M432.4 189.7h4M440.7 189.2h4M236.0 193.5h4M240.4 193.6h4M244.3 193.9h4M443.8 193.6h4M451.9 194.4h4M228.5 198.7h4M231.5 198.4h4M467.5 197.9h4M471.9 198.1h4M475.7 198.5h4M225.2 203.2h4M227.8 201.6h4M483.9 202.7h4M487.4 202.2h4M220.3 205.7h4M501.6 207.4h4M504.0 204.9h4M211.9 209.8h4M215.8 209.8h4M507.6 210.9h4M511.6 210.8h4M515.7 210.4h4M196.3 221.7h4M547.5 221.4h4M555.7 225.2h4M563.3 225.3h4M188.2 229.3h4M564.7 229.6h4M568.3 229.7h4M830.8 229.8h4M835.1 229.1h4M857.6 229.6h4M183.5 234.1h4M187.7 234.5h4M827.4 233.7h4M860.0 235.2h4M862.6 234.3h4M184.2 238.0h4M588.4 237.9h4M595.3 238.1h4M820.6 237.9h4M180.5 242.4h4M183.5 242.1h4M596.3 241.9h4M604.9 241.4h4M609.2 241.2h4M811.1 242.7h4M612.4 246.6h4M621.0 246.4h4M622.7 245.7h4M807.4 246.6h4M176.3 249.9h4M179.7 250.1h4M624.1 249.4h4M631.0 248.7h4M637.0 249.8h4M648.4 249.3h4M800.2 249.9h4M176.1 254.3h4M179.6 253.7h4M656.4 254.1h4M660.4 253.7h4M180.4 258.2h4M684.6 258.2h4M688.1 257.2h4M691.9 258.5h4M703.9 258.4h4M708.8 258.7h4M711.3 258.5h4M787.8 258.4h4M791.5 258.0h4M879.6 257.8h4M175.5 262.1h4M728.4 261.6h4M732.2 261.6h4M736.0 262.3h4M739.5 262.4h4M743.5 262.6h4M748.4 262.1h4M752.0 262.2h4M756.3 261.8h4M760.0 261.6h4M764.0 261.7h4M767.7 261.9h4M771.7 262.1h4M776.1 261.7h4M176.0 266.0h4M179.7 266.2h4M884.1 265.2h4M179.7 269.6h4M179.9 273.6h4M204.3 298.2h4M208.9 298.8h4M207.1 302.6h4M215.4 302.4h4M885.1 301.7h4M215.7 306.3h4M885.3 305.0h4M243.7 310.2h4M248.5 310.2h4M251.9 309.9h4M255.3 310.7h4M260.3 310.3h4M304.1 310.2h4M311.1 309.6h4M335.0 309.6h4M344.1 310.3h4M348.5 310.5h4M351.7 311.1h4M248.8 314.0h4M252.2 314.9h4M257.1 314.7h4M260.2 313.5h4M376.8 314.1h4M412.3 313.9h4M415.5 314.2h4M419.8 314.1h4M424.1 315.1h4M439.4 313.7h4M444.9 313.5h4M446.7 313.9h4M456.5 313.2h4M459.2 315.2h4M463.0 314.3h4M468.8 312.8h4M471.4 314.3h4M475.1 314.5h4M482.6 312.6h4M497.5 313.1h4M500.9 313.1h4M509.3 314.2h4M515.8 313.9h4M524.5 312.7h4M528.9 313.6h4M531.0 313.5h4M537.3 314.1h4M558.6 313.8h4M563.4 314.7h4M575.6 313.6h4M579.9 313.7h4M880.5 312.8h4M583.8 318.1h4M588.1 318.3h4M592.2 318.4h4M596.4 317.7h4M599.5 318.4h4M604.6 318.3h4M608.7 317.6h4M612.6 318.2h4M616.5 318.9h4M628.7 319.1h4M635.0 316.8h4M638.7 317.0h4M644.4 319.0h4M648.6 318.7h4M657.0 318.6h4M660.8 317.7h4M668.8 318.7h4M759.7 318.7h4M767.7 318.2h4M771.6 318.0h4M775.5 318.0h4M779.7 318.2h4M784.2 317.4h4M787.8 318.1h4M791.2 321.4h4M796.7 322.3h4M800.7 322.7h4M803.5 325.2h4M874.9 326.7h4M809.2 329.9h4M871.1 331.2h4M816.4 333.5h4M867.4 334.9h4M823.3 336.7h4M865.0 337.6h4M826.3 341.4h4"/>
<path stroke="#4564fd" d="M299.8 182.7h4M308.4 182.1h4M328.1 181.8h4M336.1 181.9h4M339.7 181.7h4M355.9 181.8h4M295.7 186.2h4M364.2 186.5h4M385.6 185.3h4M387.9 185.8h4M390.8 186.0h4M395.6 185.6h4M259.4 189.8h4M264.4 190.1h4M400.3 190.0h4M403.8 189.7h4M408.1 189.4h4M412.6 190.4h4M248.5 193.3h4M255.9 192.9h4M264.0 194.2h4M435.9 194.4h4M440.1 194.0h4M236.1 197.5h4M239.5 197.9h4M443.9 198.3h4M448.4 197.9h4M451.7 197.9h4M460.4 198.0h4M232.0 201.9h4M235.8 201.8h4M463.9 201.3h4M467.2 201.1h4M471.7 202.1h4M228.1 206.2h4M487.7 206.2h4M491.7 205.2h4M220.1 210.0h4M504.1 210.9h4M512.5 213.8h4M196.9 225.2h4M199.7 225.8h4M191.2 230.1h4M556.1 229.9h4M559.7 230.4h4M563.9 234.3h4M567.2 233.2h4M572.0 233.9h4M831.1 234.6h4M856.0 232.7h4M188.6 237.6h4M192.7 238.2h4M824.5 237.3h4M863.8 239.6h4M187.6 241.9h4M815.4 241.6h4M820.5 242.1h4M183.8 246.3h4M600.4 245.9h4M603.6 246.1h4M812.7 246.5h4M184.5 249.7h4M187.1 249.2h4M607.5 249.7h4M612.2 250.1h4M184.4 254.3h4M187.4 253.8h4M631.9 253.8h4M636.8 254.3h4M639.5 254.5h4M647.7 254.4h4M651.8 253.9h4M803.9 253.7h4M183.5 258.2h4M679.7 258.4h4M184.7 262.3h4M188.3 261.9h4M696.3 262.0h4M700.3 262.0h4M707.8 262.5h4M715.9 262.0h4M719.2 262.0h4M723.6 262.6h4M791.9 261.8h4M795.7 262.2h4M880.4 262.5h4M183.5 265.9h4M188.5 266.5h4M744.0 266.5h4M747.9 266.3h4M759.8 266.2h4M183.6 270.5h4M187.8 270.1h4M883.9 281.7h4M883.6 285.8h4M199.7 290.3h4M204.3 289.8h4M204.6 294.6h4M209.1 293.2h4M212.9 294.9h4M211.4 298.3h4M216.3 298.6h4M884.4 297.6h4M251.8 306.3h4M264.3 305.8h4M267.9 305.7h4M271.5 306.4h4M275.5 305.0h4M280.5 306.5h4M283.3 306.6h4M287.8 306.1h4M295.8 306.1h4M300.0 306.2h4M304.6 306.6h4M308.6 306.6h4M312.1 306.4h4M319.8 306.5h4M323.5 305.4h4M327.5 305.8h4M335.4 306.2h4M340.6 305.6h4M343.6 306.0h4M348.2 306.6h4M352.4 306.9h4M368.5 309.3h4M372.9 310.4h4M420.4 310.0h4M423.2 310.9h4M427.4 310.9h4M432.1 310.2h4M436.1 309.6h4M440.2 309.7h4M443.3 310.2h4M448.0 310.5h4M456.1 310.4h4M460.2 310.2h4M463.7 309.9h4M467.5 309.7h4M481.6 308.9h4M507.2 309.2h4M511.8 311.3h4M518.7 311.4h4M532.6 309.5h4M536.5 309.2h4M540.2 309.6h4M549.0 311.3h4M550.8 308.7h4M563.8 311.0h4M571.6 310.0h4M576.4 310.4h4M880.8 310.3h4M583.7 314.3h4M591.8 314.3h4M596.1 314.0h4M616.3 314.0h4M624.6 313.5h4M635.8 313.3h4M644.4 314.4h4M659.9 314.1h4M664.3 314.3h4M669.1 312.7h4M672.8 315.3h4M675.2 313.8h4M680.1 314.8h4M683.7 315.0h4M691.9 313.4h4M695.9 313.6h4M716.4 313.4h4M720.8 314.2h4M723.8 313.9h4M731.3 313.5h4M735.6 313.5h4M740.4 313.9h4M752.4 314.4h4M761.1 314.7h4M763.5 314.4h4M767.8 313.8h4M771.8 314.2h4M776.2 313.8h4M783.6 313.9h4M800.3 318.2h4M876.8 317.9h4M804.7 322.6h4M872.6 326.6h4M814.5 329.7h4M868.5 330.5h4M864.6 334.4h4M835.8 341.7h4M843.5 341.0h4M851.2 343.2h4"/>
<path stroke="#416cfe" d="M299.9 185.8h4M308.1 186.3h4M331.7 186.4h4M336.5 186.0h4M339.9 186.1h4M368.3 190.5h4M371.8 190.1h4M376.1 189.5h4M378.9 188.4h4M385.3 188.4h4M392.5 189.3h4M395.6 190.5h4M404.2 194.4h4M407.4 193.8h4M415.6 193.7h4M251.7 197.9h4M255.8 198.2h4M264.4 198.1h4M244.2 202.6h4M248.3 202.7h4M451.9 202.1h4M455.4 201.8h4M460.7 202.9h4M468.5 205.4h4M476.3 205.8h4M491.5 210.6h4M504.7 214.0h4M507.8 213.6h4M199.3 230.5h4M544.4 230.3h4M548.4 229.8h4M552.5 230.5h4M195.7 233.6h4M200.2 234.9h4M556.3 234.1h4M559.7 234.0h4M835.1 235.2h4M841.3 233.3h4M843.1 233.5h4M849.2 233.3h4M196.2 237.2h4M200.4 238.7h4M567.8 238.0h4M827.9 237.9h4M193.1 242.6h4M196.7 242.9h4M575.7 241.8h4M823.8 241.5h4M865.1 243.1h4M195.1 245.5h4M815.9 246.2h4M868.6 246.1h4M191.8 248.9h4M195.8 248.9h4M604.0 250.1h4M812.3 249.9h4M872.5 249.0h4M196.4 253.7h4M807.9 254.2h4M191.1 257.5h4M195.1 258.8h4M659.5 258.3h4M875.9 257.7h4M192.0 262.7h4M692.0 261.9h4M799.7 262.3h4M191.4 265.4h4M195.8 265.8h4M712.2 265.7h4M715.7 265.8h4M719.8 266.3h4M724.1 265.7h4M728.3 265.8h4M736.2 265.7h4M772.3 265.8h4M191.8 270.5h4M747.7 270.3h4M752.1 270.4h4M756.5 270.2h4M760.6 269.8h4M764.1 269.5h4M196.2 273.7h4M199.9 273.4h4M200.6 281.7h4M204.9 281.8h4M204.5 285.1h4M207.0 286.3h4M212.0 286.1h4M220.1 290.4h4M215.4 293.1h4M219.6 294.1h4M259.9 301.6h4M264.3 301.8h4M268.0 301.9h4M276.8 301.3h4M283.8 301.4h4M288.3 302.2h4M291.5 301.8h4M299.0 302.9h4M304.0 302.4h4M308.4 302.2h4M311.9 302.7h4M320.4 301.7h4M328.5 301.8h4M331.9 302.3h4M340.3 301.9h4M351.6 302.3h4M359.4 306.8h4M364.3 306.1h4M369.0 306.3h4M371.1 306.3h4M375.9 306.3h4M419.2 305.7h4M432.5 305.6h4M436.0 305.9h4M439.6 305.5h4M444.4 306.5h4M447.8 305.7h4M527.8 306.0h4M531.2 305.7h4M536.1 305.6h4M545.0 307.1h4M552.7 306.8h4M555.5 305.5h4M568.4 305.6h4M880.2 305.6h4M484.3 311.5h4M496.2 310.7h4M499.4 308.7h4M623.5 309.5h4M628.5 310.2h4M632.3 309.7h4M636.4 310.3h4M644.2 310.2h4M663.8 310.1h4M668.7 309.2h4M679.9 309.3h4M683.4 310.7h4M691.5 309.7h4M716.4 309.8h4M720.0 309.5h4M723.6 309.4h4M727.5 310.2h4M731.8 310.4h4M751.8 310.2h4M755.8 309.8h4M759.5 309.7h4M763.9 310.5h4M875.9 313.7h4M803.7 318.0h4M807.8 322.0h4M871.9 321.1h4M812.6 326.4h4M820.4 330.5h4M860.1 333.8h4M847.4 338.5h4M851.7 338.4h4M855.8 338.1h4"/>
<path stroke="#3a74fe" d="M336.3 190.1h4M339.7 189.8h4M359.9 190.6h4M363.3 189.4h4M376.9 194.6h4M381.1 194.0h4M391.3 194.3h4M396.6 194.5h4M399.8 194.0h4M415.9 197.8h4M251.6 201.1h4M256.8 200.7h4M259.9 202.2h4M263.9 201.9h4M239.8 206.0h4M244.5 206.4h4M248.0 206.5h4M460.4 206.5h4M464.0 205.6h4M471.5 210.1h4M491.9 213.8h4M495.8 214.7h4M500.7 218.1h4M503.5 217.4h4M507.8 217.8h4M208.3 230.1h4M212.1 230.3h4M203.7 234.1h4M207.6 234.5h4M552.0 234.0h4M204.1 237.3h4M832.2 237.5h4M840.6 238.1h4M852.3 238.6h4M856.9 238.2h4M199.8 242.5h4M203.5 242.4h4M828.2 242.2h4M859.3 241.1h4M204.3 246.2h4M820.3 246.2h4M199.5 250.3h4M203.7 249.7h4M815.5 249.6h4M200.2 253.3h4M204.3 254.2h4M872.5 253.7h4M200.1 258.3h4M627.6 258.0h4M631.9 258.0h4M635.6 258.3h4M640.2 257.8h4M808.1 257.9h4M200.1 262.4h4M203.7 262.1h4M204.3 265.7h4M795.7 266.4h4M799.7 266.0h4M200.1 269.3h4M203.3 269.7h4M736.1 269.9h4M740.0 269.8h4M744.0 270.3h4M768.4 270.1h4M772.1 269.9h4M748.4 273.8h4M759.2 274.0h4M204.8 277.1h4M212.3 278.0h4M215.3 282.1h4M216.2 286.9h4M223.8 286.3h4M291.7 293.5h4M296.1 294.2h4M300.1 293.4h4M263.8 297.7h4M268.4 298.5h4M272.2 297.8h4M275.9 298.3h4M279.7 297.5h4M284.0 298.1h4M288.1 298.3h4M292.7 298.3h4M296.2 298.6h4M303.6 298.9h4M308.4 298.5h4M352.1 297.9h4M359.7 301.7h4M364.1 301.6h4M371.9 302.2h4M540.5 301.3h4M548.1 302.0h4M471.6 306.1h4M475.5 306.7h4M479.7 305.9h4M483.4 306.2h4M489.0 305.7h4M492.1 306.3h4M495.5 305.6h4M500.3 305.7h4M507.3 307.0h4M512.3 304.9h4M520.7 305.9h4M523.7 305.5h4M668.0 306.6h4M676.3 307.0h4M680.2 306.7h4M683.3 306.3h4M699.6 306.1h4M720.5 306.3h4M723.5 305.7h4M727.8 306.2h4M760.1 305.8h4M815.8 326.4h4M867.6 326.1h4M823.7 331.3h4M827.4 332.9h4M832.7 333.3h4"/>
<path stroke="#327cfc" d="M312.0 193.7h4M355.7 194.2h4M360.4 193.0h4M364.2 193.0h4M367.7 194.5h4M379.5 198.4h4M388.5 198.9h4M395.9 198.4h4M400.3 198.5h4M403.7 198.0h4M411.4 202.0h4M244.3 210.3h4M247.7 210.2h4M460.2 209.9h4M463.6 210.4h4M467.2 209.2h4M476.3 214.1h4M495.7 217.7h4M504.4 222.2h4M212.3 234.3h4M207.9 237.4h4M212.1 238.1h4M843.4 238.5h4M848.3 238.4h4M207.8 241.7h4M832.3 241.6h4M855.3 242.0h4M207.8 250.1h4M820.2 250.3h4M208.0 253.5h4M607.8 258.3h4M811.7 258.3h4M631.8 262.5h4M635.7 261.7h4M208.0 266.2h4M208.5 269.5h4M212.1 269.8h4M735.9 274.3h4M740.0 273.6h4M744.2 273.8h4M764.1 274.0h4M767.9 274.3h4M771.7 274.1h4M775.7 274.0h4M216.1 278.4h4M744.2 278.0h4M748.1 278.1h4M755.2 277.4h4M760.6 277.8h4M764.2 277.9h4M219.8 282.1h4M752.2 282.6h4M756.4 282.6h4M304.4 293.4h4M307.6 294.1h4M312.2 294.4h4M316.2 293.7h4M343.7 294.0h4M347.5 293.8h4M352.2 293.8h4M695.5 298.1h4M700.0 297.9h4M704.4 297.6h4M707.5 297.7h4M720.4 298.4h4M723.6 298.3h4M727.7 297.9h4M419.4 302.1h4M424.6 301.3h4M476.0 302.2h4M480.0 302.0h4M483.7 301.6h4M491.8 302.0h4M531.5 301.6h4M552.2 301.6h4M668.1 301.6h4M675.9 302.9h4M679.7 301.9h4M684.2 302.7h4M688.7 301.4h4M695.5 302.5h4M704.1 302.1h4M708.3 302.2h4M712.1 302.0h4M719.4 302.5h4M728.1 302.4h4M619.6 306.1h4M623.7 306.2h4M816.0 322.3h4M819.8 324.9h4M836.5 333.6h4M840.0 333.6h4"/>
<path stroke="#2e84f9" d="M356.8 197.7h4M359.8 198.1h4M363.9 198.4h4M368.3 198.8h4M371.5 198.5h4M376.6 197.5h4M388.0 201.6h4M392.4 202.1h4M396.3 202.1h4M400.3 201.9h4M403.5 201.5h4M408.3 202.5h4M415.9 205.8h4M252.4 210.0h4M255.7 210.3h4M244.0 214.3h4M248.0 213.9h4M463.9 214.3h4M467.7 213.8h4M472.0 214.1h4M487.8 218.4h4M495.9 221.2h4M500.8 222.4h4M507.8 226.0h4M852.0 242.2h4M860.2 246.0h4M864.2 250.2h4M868.2 254.1h4M219.8 258.1h4M612.1 262.1h4M624.1 262.4h4M628.1 261.8h4M636.1 265.9h4M772.1 278.4h4M776.4 278.3h4M748.1 282.0h4M764.1 282.1h4M768.1 282.5h4M772.1 282.0h4M776.3 282.1h4M755.8 286.2h4M760.2 285.8h4M763.8 285.8h4M767.8 285.6h4M295.7 289.8h4M300.1 289.6h4M340.0 290.2h4M355.9 293.7h4M704.4 294.0h4M708.1 293.9h4M420.2 298.2h4M424.3 297.8h4M671.8 298.5h4M676.4 297.5h4M679.9 298.0h4M687.9 297.8h4M691.6 297.5h4M612.3 301.8h4M624.1 301.5h4M819.8 322.6h4M824.2 326.8h4M831.4 330.2h4"/>
<path stroke="#2d8bf4" d="M355.7 202.1h4M360.3 202.0h4M364.5 202.6h4M368.0 202.5h4M399.3 205.7h4M403.6 205.0h4M408.9 205.6h4M472.3 217.9h4M483.7 221.9h4M488.4 222.4h4M491.7 222.6h4M504.6 226.2h4M512.3 229.9h4M231.7 253.8h4M223.8 258.2h4M227.5 257.6h4M232.0 258.6h4M816.2 257.8h4M223.7 261.8h4M227.7 261.7h4M232.0 261.7h4M608.2 261.7h4M619.8 265.8h4M623.5 265.5h4M628.0 266.4h4M632.5 265.8h4M631.4 269.9h4M635.8 269.7h4M299.7 285.7h4M347.5 289.7h4M352.2 290.4h4M355.5 289.8h4M360.4 290.3h4M363.8 289.7h4M619.9 298.4h4M623.7 297.5h4M823.7 322.3h4M828.5 326.8h4"/>
<path stroke="#2b92ee" d="M351.7 202.3h4M395.9 205.7h4M408.9 210.8h4M412.3 209.7h4M479.6 221.7h4M487.6 225.8h4M491.5 225.3h4M503.4 229.6h4M859.9 249.8h4M236.3 253.7h4M236.4 258.1h4M603.9 266.2h4M607.7 265.9h4M620.0 270.2h4M624.4 269.7h4M627.3 270.5h4M624.3 274.2h4M632.2 273.7h4M296.2 282.3h4M299.7 282.3h4M339.9 286.1h4M343.9 286.2h4M348.1 285.8h4M351.8 285.6h4M355.6 285.5h4M612.3 293.8h4M616.2 294.0h4M620.3 294.4h4M624.1 293.8h4M608.2 298.0h4M612.3 297.9h4M827.3 321.9h4M832.0 326.1h4"/>
<path stroke="#2699e9" d="M400.1 209.5h4M404.5 210.9h4M479.7 225.8h4M484.5 225.5h4M496.5 229.4h4M500.7 230.1h4M508.4 234.1h4M512.5 233.8h4M595.8 266.3h4M599.6 266.0h4M296.0 277.9h4M624.2 277.7h4M628.3 277.9h4M344.2 281.8h4M624.4 281.7h4M627.7 282.5h4M359.6 286.2h4M363.6 286.4h4M624.4 285.6h4M628.4 285.7h4M623.8 290.2h4M823.8 318.1h4"/>
<path stroke="#249fe5" d="M407.5 213.9h4M491.4 229.4h4M291.8 273.6h4M295.6 274.2h4M300.2 273.6h4M348.3 281.8h4M356.0 282.4h4M831.7 321.8h4"/>
<path stroke="#1fa5e2" d="M403.7 213.8h4M500.2 233.8h4M507.8 238.1h4M511.8 237.7h4M292.4 266.0h4M291.8 269.6h4M296.3 270.5h4"/>
<path stroke="#1aabdd" d="M503.8 238.2h4M295.7 265.8h4"/>
<path stroke="#13b0d7" d="M292.0 249.9h4"/></g>
<g stroke-width="4" fill="none" shape-rendering="crispEdges"><path stroke="#484df0" d="M1266 250h4"/>
<path stroke="#4854f6" d="M1310 198h4M1306 202h4M1306 206h4M1686 230h4M1286 234h4M1270 250h8M1782 250h4M1270 254h8M1778 254h12M1802 322h12"/>
<path stroke="#475cfa" d="M1318 194h8M1314 198h4M1310 202h4M1290 230h4M1678 230h8M1686 234h8M1286 238h4M1706 238h8M1286 242h4M1710 242h8M1758 254h12M1774 254h4M1782 258h8M1874 262h8M1842 266h8M1862 266h8M1330 274h4M1798 318h16"/>
<path stroke="#4564fd" d="M1346 186h8M1334 190h12M1330 194h8M1318 198h4M1310 206h4M1306 210h4M1626 210h4M1294 230h4M1670 230h8M1290 234h4M1678 234h8M1290 238h4M1686 238h8M1290 242h4M1698 242h12M1710 246h8M1754 254h4M1766 258h4M1774 258h4M1790 262h8M1882 262h4M1874 266h8M1834 270h40M1334 274h12M1350 278h4M1358 278h4M1698 314h16M1718 314h16M1746 314h8M1814 318h4M1866 322h8"/>
<path stroke="#416cfe" d="M1346 190h20M1338 194h8M1326 198h8M1314 202h8M1310 210h4M1618 210h4M1306 214h4M1626 214h8M1634 218h8M1298 230h4M1662 230h8M1294 234h8M1670 234h8M1294 238h4M1678 238h8M1686 242h12M1698 246h12M1902 250h4M1302 258h4M1754 258h12M1890 258h4M1310 262h4M1774 262h12M1886 262h4M1314 266h8M1798 266h4M1882 266h4M1326 270h16M1826 270h8M1874 270h8M1346 274h12M1362 278h4M1642 306h16M1690 310h12M1758 314h4M1802 314h20M1858 318h8M1874 322h4"/>
<path stroke="#3a74fe" d="M1366 190h12M1434 190h12M1346 194h16M1490 194h4M1334 198h12M1530 198h4M1322 202h8M1314 206h4M1310 214h4M1618 214h8M1306 218h4M1626 218h8M1306 222h4M1638 222h8M1658 230h4M1302 234h4M1662 234h8M1670 238h8M1678 242h8M1302 246h4M1690 246h8M1302 250h4M1706 250h12M1906 250h4M1302 254h8M1898 254h4M1942 254h4M1306 258h4M1894 258h4M1314 262h4M1758 262h16M1890 262h4M1322 266h8M1782 266h16M1886 266h4M1342 270h8M1882 270h4M1358 274h4M1370 274h4M1822 274h24M1854 274h28M1958 290h4M1638 302h8M1658 306h12M1702 310h32M1738 310h20M1762 310h8M1866 318h12M1954 330h4"/>
<path stroke="#327cfc" d="M1362 194h20M1482 194h8M1346 198h12M1330 202h8M1546 202h12M1318 206h8M1314 210h4M1590 210h8M1610 214h8M1310 218h4M1618 218h8M1630 222h8M1306 226h4M1638 226h8M1646 230h4M1658 234h4M1666 238h4M1674 242h4M1306 246h4M1686 246h4M1306 250h4M1910 250h8M1310 254h4M1714 254h8M1902 254h4M1938 254h4M1314 258h4M1730 258h8M1898 258h4M1942 258h4M1318 262h8M1754 262h4M1894 262h4M1330 266h12M1762 266h16M1354 270h8M1782 270h20M1886 270h4M1382 274h8M1818 274h4M1882 274h4M1822 278h16M1854 278h28M1470 282h4M1958 294h4M1602 298h16M1958 298h4M1646 302h16M1958 302h4M1678 306h12M1958 306h4M1770 310h4M1798 310h28M1830 310h12M1854 314h16M1878 318h8M1882 322h4M1886 326h4M1954 326h4M1890 330h4M1950 338h4M1946 342h4"/>
<path stroke="#2e84f9" d="M1430 194h8M1442 194h8M1358 198h24M1482 198h16M1338 202h8M1526 202h8M1538 202h4M1326 206h8M1554 206h8M1318 210h8M1586 210h4M1314 214h8M1598 214h4M1314 218h4M1610 218h4M1310 222h4M1622 222h8M1310 226h4M1634 226h4M1310 230h4M1642 230h4M1654 234h4M1662 238h4M1310 242h4M1670 242h4M1310 246h4M1682 246h4M1310 250h8M1690 250h8M1314 254h4M1706 254h8M1906 254h8M1318 258h8M1722 258h8M1902 258h4M1938 258h4M1326 262h8M1738 262h4M1898 262h4M1342 266h8M1750 266h12M1894 266h4M1362 270h4M1370 270h4M1378 270h4M1762 270h16M1890 270h4M1402 274h12M1778 274h24M1886 274h4M1798 278h8M1814 278h8M1882 278h4M1818 282h20M1858 282h20M1882 282h4M1826 286h12M1846 286h8M1830 290h8M1590 294h8M1602 294h8M1834 294h4M1634 298h8M1830 298h12M1662 302h8M1810 302h36M1690 306h64M1758 306h24M1790 306h8M1802 306h36M1842 306h12M1854 310h12M1870 314h12M1886 322h4M1954 322h4"/>
<path stroke="#2d8bf4" d="M1382 198h16M1402 198h12M1446 198h16M1478 198h4M1346 202h12M1334 206h8M1538 206h16M1326 210h8M1322 214h4M1586 214h12M1318 218h4M1602 218h8M1314 222h8M1618 222h4M1314 226h4M1630 226h4M1314 230h4M1638 230h4M1314 234h4M1646 234h4M1658 238h4M1314 242h4M1666 242h4M1314 246h8M1674 246h8M1318 250h4M1686 250h4M1318 254h8M1694 254h4M1914 254h8M1326 258h8M1710 258h12M1906 258h4M1334 262h8M1726 262h12M1902 262h4M1350 266h8M1738 266h4M1382 270h16M1750 270h12M1894 270h4M1414 274h12M1430 274h8M1758 274h16M1890 274h4M1462 278h8M1762 278h4M1778 278h20M1886 278h4M1778 282h36M1778 286h36M1818 286h8M1854 286h20M1782 290h48M1842 290h32M1954 290h4M1610 294h4M1618 294h8M1778 294h56M1838 294h20M1870 294h4M1954 294h4M1642 298h8M1762 298h24M1790 298h40M1842 298h28M1670 302h16M1738 302h48M1794 302h16M1846 302h24M1854 306h20M1866 310h16M1882 314h4M1886 318h4M1890 326h4M1894 330h4M1950 330h4M1946 338h4M1942 342h4"/>
<path stroke="#2b92ee" d="M1414 198h8M1426 198h20M1358 202h8M1474 202h24M1342 206h8M1522 206h16M1334 210h4M1554 210h12M1326 214h4M1582 214h4M1322 218h4M1590 218h12M1322 222h4M1614 222h4M1318 226h4M1626 226h4M1318 230h4M1634 230h4M1318 234h4M1642 234h4M1318 238h4M1654 238h4M1318 242h8M1662 242h4M1322 246h4M1670 246h4M1322 250h4M1678 250h8M1326 254h8M1686 254h8M1922 254h4M1334 258h4M1702 258h8M1910 258h4M1934 258h4M1342 262h8M1714 262h12M1938 262h4M1358 266h12M1726 266h12M1398 270h20M1734 270h12M1438 274h8M1450 274h12M1742 274h16M1478 278h4M1750 278h12M1890 278h4M1750 282h16M1886 282h4M1950 282h4M1550 286h12M1750 286h28M1590 290h16M1750 290h32M1626 294h8M1750 294h28M1874 294h12M1650 298h12M1738 298h24M1870 298h16M1954 298h4M1686 302h52M1870 302h16M1874 306h12M1882 310h4M1886 314h4M1890 322h4M1898 334h4M1946 334h4M1902 338h4M1906 342h4M1914 346h4"/>
<path stroke="#2699e9" d="M1366 202h28M1438 202h12M1454 202h20M1350 206h8M1514 206h8M1338 210h4M1538 210h16M1330 214h8M1562 214h12M1326 218h8M1582 218h8M1326 222h4M1602 222h8M1322 226h8M1326 230h4M1630 230h4M1322 234h8M1638 234h4M1322 238h8M1326 242h4M1658 242h4M1326 246h4M1666 246h4M1326 250h8M1674 250h4M1334 254h4M1682 254h4M1338 258h8M1690 258h12M1914 258h8M1930 258h4M1350 262h8M1702 262h12M1906 262h4M1934 262h4M1370 266h16M1714 266h12M1902 266h4M1418 270h16M1722 270h12M1898 270h4M1462 274h16M1730 274h12M1894 274h4M1734 278h16M1734 282h16M1890 282h4M1562 286h4M1578 286h4M1734 286h16M1606 290h4M1734 290h16M1634 294h8M1726 294h24M1886 294h4M1662 298h76M1886 298h4M1886 302h4M1954 302h4M1886 306h4M1954 306h4M1886 310h4M1954 310h4M1890 318h4M1894 326h4M1950 326h4M1898 330h4M1942 338h4M1910 342h4M1938 342h4M1918 346h4"/>
<path stroke="#249fe5" d="M1398 202h20M1422 202h16M1358 206h4M1474 206h24M1346 210h4M1518 210h16M1338 214h4M1550 214h12M1334 218h4M1574 218h8M1330 222h4M1594 222h8M1330 226h4M1614 226h8M1330 230h4M1626 230h4M1330 234h4M1634 234h4M1330 238h4M1642 238h8M1330 242h4M1654 242h4M1330 246h8M1662 246h4M1334 250h4M1670 250h4M1338 254h8M1678 254h4M1346 258h8M1686 258h4M1922 258h8M1358 262h8M1690 262h12M1910 262h4M1386 266h12M1702 266h12M1906 266h4M1938 266h4M1434 270h16M1710 270h12M1902 270h4M1478 274h16M1714 274h16M1898 274h4M1718 278h16M1542 282h20M1718 282h16M1586 286h4M1718 286h16M1610 290h8M1714 290h20M1642 294h12M1698 294h28M1890 314h4M1894 322h4M1902 334h4M1906 338h4"/>
<path stroke="#1fa5e2" d="M1418 202h4M1362 206h20M1462 206h12M1350 210h8M1510 210h8M1342 214h8M1538 214h12M1338 218h4M1562 218h8M1334 222h8M1586 222h8M1334 226h4M1606 226h8M1334 230h4M1622 230h4M1334 234h4M1630 234h4M1334 238h4M1638 238h4M1334 242h8M1646 242h8M1338 246h4M1658 246h4M1338 250h8M1666 250h4M1346 254h4M1670 254h8M1354 258h4M1678 258h8M1366 262h12M1686 262h4M1914 262h4M1930 262h4M1398 266h16M1690 266h12M1450 270h12M1694 270h16M1698 274h16M1526 278h12M1702 278h16M1898 278h4M1946 278h4M1562 282h4M1698 282h20M1894 282h4M1590 286h4M1698 286h20M1618 290h12M1690 290h12M1706 290h8M1950 290h4M1654 294h44M1890 294h4M1890 298h4M1890 302h4M1890 306h4M1890 310h4M1950 322h4M1898 326h4M1946 330h4M1922 346h8"/>
<path stroke="#1aabdd" d="M1382 206h20M1442 206h20M1358 210h8M1490 210h8M1350 214h4M1526 214h12M1342 218h8M1558 218h4M1342 222h4M1578 222h8M1338 226h8M1598 226h8M1338 230h4M1618 230h4M1338 234h8M1626 234h4M1338 238h8M1634 238h4M1342 242h4M1642 242h4M1342 246h4M1650 246h8M1346 250h4M1658 250h8M1350 254h8M1666 254h4M1358 258h8M1674 258h4M1378 262h4M1386 262h4M1678 262h8M1918 262h4M1414 266h12M1682 266h8M1910 266h4M1462 270h12M1686 270h8M1906 270h4M1690 274h8M1902 274h4M1538 278h8M1686 278h12M1566 282h4M1686 282h12M1594 286h8M1682 286h16M1894 286h4M1630 290h12M1674 290h16M1894 290h4M1894 318h4M1902 330h4M1914 342h4M1934 342h4"/>
<path stroke="#13b0d7" d="M1402 206h16M1422 206h20M1366 210h12M1478 210h12M1354 214h8M1518 214h8M1350 218h4M1550 218h8M1346 222h4M1574 222h4M1346 226h4M1594 226h4M1342 230h8M1610 230h8M1346 234h4M1622 234h4M1346 238h4M1630 238h4M1346 242h4M1638 242h4M1346 246h8M1646 246h4M1350 250h8M1654 250h4M1358 254h4M1658 254h8M1366 258h12M1666 258h8M1390 262h12M1670 262h8M1922 262h8M1426 266h12M1674 266h8M1934 266h4M1474 270h8M1674 270h12M1938 270h4M1678 274h8M1546 278h4M1678 278h8M1570 282h8M1674 282h12M1898 282h4M1946 282h4M1602 286h12M1670 286h12M1642 290h32M1894 294h4M1950 294h4M1894 314h4M1950 318h4M1906 334h4M1942 334h4M1910 338h4"/>
<path stroke="#07b5cf" d="M1418 206h4M1378 210h16M1466 210h12M1362 214h4M1506 214h12M1354 218h8M1542 218h8M1350 222h8M1566 222h8M1350 226h4M1586 226h8M1350 230h4M1602 230h8M1350 234h4M1614 234h8M1350 238h4M1626 238h4M1350 242h4M1634 242h4M1354 246h4M1638 246h8M1358 250h4M1646 250h8M1362 254h8M1654 254h4M1378 258h8M1658 258h8M1402 262h12M1662 262h8M1438 266h12M1666 266h8M1914 266h4M1482 270h4M1666 270h8M1666 274h12M1550 278h4M1666 278h12M1902 278h4M1578 282h4M1666 282h8M1614 286h20M1650 286h20M1898 286h4M1894 298h4M1950 298h4M1894 302h4M1894 306h4M1894 310h4M1950 314h4M1898 322h4M1938 338h4M1918 342h4"/>
<path stroke="#01b9c7" d="M1394 210h16M1442 210h24M1366 214h16M1494 214h4M1362 218h4M1534 218h8M1358 222h4M1558 222h8M1354 226h8M1578 226h4M1354 230h4M1594 230h8M1354 234h4M1610 234h4M1354 238h8M1618 238h8M1354 242h8M1626 242h8M1358 246h4M1634 246h4M1362 250h8M1642 250h4M1370 254h8M1650 254h4M1386 258h12M1650 258h8M1414 262h8M1654 262h8M1450 266h8M1658 266h8M1930 266h4M1486 270h8M1658 270h8M1910 270h4M1522 274h4M1658 274h8M1906 274h4M1554 278h4M1658 278h8M1942 278h4M1582 282h12M1650 282h16M1634 286h16M1946 286h4M1950 302h4M1950 306h4M1950 310h4M1946 326h4M1930 342h4"/>
<path stroke="#09bdbe" d="M1410 210h32M1382 214h12M1482 214h12M1366 218h12M1522 218h12M1362 222h8M1554 222h4M1362 226h4M1570 226h8M1358 230h8M1590 230h4M1358 234h8M1602 234h8M1362 238h4M1614 238h4M1362 242h4M1622 242h4M1362 246h8M1630 246h4M1370 250h8M1634 250h8M1378 254h12M1638 254h8M1398 258h8M1642 258h8M1422 262h12M1646 262h8M1458 266h12M1646 266h12M1918 266h4M1494 270h4M1650 270h8M1934 270h4M1526 274h4M1646 274h12M1938 274h4M1558 278h4M1646 278h12M1594 282h56M1902 282h4M1898 290h4M1902 326h4M1922 342h8"/>
<path stroke="#1bc0b4" d="M1394 214h12M1466 214h16M1378 218h12M1510 218h12M1370 222h8M1546 222h8M1366 226h8M1566 226h4M1366 230h8M1582 230h8M1366 234h8M1594 234h8M1366 238h8M1606 238h8M1366 242h8M1614 242h8M1370 246h8M1622 246h8M1378 250h8M1630 250h4M1390 254h8M1634 254h4M1406 258h4M1414 258h4M1634 258h8M1434 262h8M1638 262h8M1470 266h4M1638 266h8M1922 266h8M1498 270h8M1638 270h12M1530 274h8M1638 274h8M1562 278h8M1634 278h12M1946 290h4M1898 294h4M1898 318h4M1946 322h4M1942 330h4M1914 338h4M1934 338h4"/>
<path stroke="#28c3ab" d="M1406 214h12M1426 214h40M1390 218h12M1494 218h16M1378 222h12M1538 222h8M1374 226h12M1558 226h8M1374 230h8M1574 230h8M1374 234h8M1590 234h4M1374 238h8M1602 238h4M1374 242h12M1610 242h4M1378 246h12M1614 246h8M1386 250h8M1622 250h4M1398 254h8M1626 254h8M1418 258h8M1626 258h8M1442 262h12M1630 262h8M1474 266h8M1630 266h8M1506 270h4M1630 270h8M1914 270h4M1538 274h4M1626 274h12M1910 274h4M1570 278h8M1614 278h20M1906 278h4M1942 282h4M1898 298h4M1898 314h4M1906 330h4M1910 334h4M1938 334h4"/>
<path stroke="#31c5a1" d="M1418 214h8M1402 218h8M1478 218h16M1390 222h12M1526 222h12M1386 226h8M1554 226h4M1382 230h12M1570 230h4M1382 234h8M1582 234h8M1382 238h12M1594 238h8M1386 242h8M1602 242h8M1390 246h8M1610 246h4M1394 250h12M1614 250h4M1406 254h12M1618 254h8M1426 258h12M1618 258h8M1454 262h8M1618 262h12M1482 266h8M1618 266h12M1510 270h8M1618 270h12M1930 270h4M1542 274h4M1614 274h12M1578 278h36M1902 286h4M1946 294h4M1898 302h4M1898 306h4M1898 310h4M1946 318h4"/>
<path stroke="#39c895" d="M1410 218h68M1402 222h8M1510 222h16M1394 226h12M1546 226h8M1394 230h8M1562 230h8M1390 234h12M1578 234h4M1394 238h8M1586 238h8M1394 242h8M1598 242h4M1398 246h8M1602 246h8M1406 250h8M1606 250h8M1418 254h8M1610 254h8M1438 258h8M1610 258h8M1462 262h8M1610 262h8M1490 266h4M1610 266h8M1610 270h8M1918 270h4M1546 274h8M1606 274h8M1934 274h4M1938 278h4M1946 298h4M1902 322h4M1918 338h4M1930 338h4"/>
<path stroke="#45cb89" d="M1410 222h12M1490 222h20M1406 226h8M1538 226h8M1402 230h8M1558 230h4M1402 234h8M1570 234h8M1402 238h8M1582 238h4M1402 242h8M1590 242h8M1406 246h8M1598 246h4M1414 250h8M1602 250h4M1426 254h8M1602 254h8M1446 258h8M1606 258h4M1474 262h4M1606 262h4M1494 266h8M1606 266h4M1522 270h4M1602 270h8M1922 270h8M1554 274h12M1590 274h16M1914 274h4M1906 282h4M1942 286h4M1902 290h4M1946 302h4M1946 314h4M1942 326h4"/>
<path stroke="#55cc7b" d="M1422 222h68M1414 226h12M1522 226h16M1410 230h8M1550 230h8M1410 234h8M1566 234h4M1410 238h8M1574 238h8M1410 242h8M1582 242h8M1414 246h12M1590 246h8M1422 250h12M1594 250h8M1434 254h12M1598 254h4M1454 258h8M1598 258h8M1478 262h8M1598 262h8M1502 266h4M1598 266h8M1526 270h8M1594 270h8M1566 274h24M1910 278h4M1902 294h4M1946 306h4M1946 310h4M1902 318h4M1906 326h4M1938 330h4M1914 334h4M1934 334h4M1922 338h8"/>
<path stroke="#67cd6d" d="M1426 226h32M1494 226h28M1418 230h20M1546 230h4M1418 234h16M1558 234h8M1418 238h16M1570 238h4M1418 242h16M1578 242h4M1426 246h12M1582 246h8M1434 250h8M1586 250h8M1446 254h8M1590 254h8M1462 258h12M1590 258h8M1486 262h4M1590 262h8M1506 266h8M1590 266h8M1534 270h4M1586 270h8M1930 274h4M1938 282h4M1906 286h4M1942 290h4M1910 330h4"/>
<path stroke="#7acc5e" d="M1458 226h36M1438 230h24M1530 230h16M1434 234h16M1554 234h4M1434 238h16M1562 238h8M1434 242h16M1570 242h8M1438 246h12M1578 246h4M1442 250h12M1582 250h4M1454 254h12M1582 254h8M1474 258h8M1582 258h8M1490 262h8M1582 262h8M1514 266h8M1582 266h8M1538 270h8M1570 270h16M1918 274h4M1934 278h4M1902 298h4M1902 302h4M1902 314h4M1942 322h4"/>
<path stroke="#8ecb4f" d="M1462 230h68M1450 234h20M1546 234h8M1450 238h16M1558 238h4M1450 242h12M1566 242h4M1450 246h12M1570 246h8M1454 250h12M1574 250h8M1466 254h8M1574 254h8M1482 258h8M1578 258h4M1498 262h8M1578 262h4M1522 266h4M1574 266h8M1546 270h24M1922 274h8M1914 278h4M1910 282h4M1942 294h4M1902 306h4M1902 310h4M1918 334h4M1930 334h4"/>
<path stroke="#a1c840" d="M1470 234h44M1526 234h20M1466 238h20M1550 238h8M1462 242h20M1558 242h8M1462 246h16M1566 246h4M1466 250h16M1566 250h8M1474 254h12M1570 254h4M1490 258h8M1570 258h8M1506 262h8M1570 262h8M1526 266h8M1566 266h8M1938 286h4M1906 290h4M1942 318h4M1906 322h4M1938 326h4"/>
<path stroke="#b3c534" d="M1514 234h12M1486 238h28M1546 238h4M1482 242h16M1554 242h4M1478 246h20M1558 246h8M1482 250h16M1562 250h4M1486 254h16M1562 254h8M1498 258h12M1562 258h8M1514 262h8M1562 262h8M1534 266h8M1550 266h16M1930 278h4M1934 282h4M1942 298h4M1942 314h4M1910 326h4M1914 330h4M1934 330h4M1922 334h8"/>
<path stroke="#c4c22b" d="M1514 238h32M1498 242h24M1546 242h8M1498 246h16M1550 246h8M1498 250h16M1554 250h8M1502 254h12M1554 254h8M1510 258h12M1554 258h8M1522 262h8M1554 262h8M1542 266h8M1918 278h4M1910 286h4M1906 294h4M1942 302h4M1942 306h4M1942 310h4M1906 318h4"/>
<path stroke="#d4bf28" d="M1522 242h24M1514 246h24M1546 246h4M1514 250h20M1546 250h8M1514 254h16M1546 254h8M1522 258h12M1546 258h8M1530 262h12M1546 262h8M1922 278h8M1914 282h4M1938 290h4M1906 298h4M1938 322h4"/>
<path stroke="#e2bc2b" d="M1538 246h8M1534 250h12M1530 254h16M1534 258h12M1542 262h4M1930 282h4M1934 286h4M1906 302h4M1906 314h4M1934 326h4M1918 330h4M1930 330h4"/>
<path stroke="#efba35" d="M1918 282h4M1910 290h4M1938 294h4M1906 306h4M1906 310h4M1938 318h4M1910 322h4M1914 326h4"/>
<path stroke="#fabb3d" d="M1926 282h4M1914 286h4M1938 298h4M1922 330h8"/>
<path stroke="#fec13a" d="M1922 282h4M1930 286h4M1934 290h4M1910 294h4M1938 302h4M1938 306h4M1938 310h4M1938 314h4M1910 318h4M1934 322h4"/>
<path stroke="#fec934" d="M1918 286h4M1914 290h4M1910 298h4M1918 326h4M1930 326h4"/>
<path stroke="#fbd12f" d="M1926 286h4M1934 294h4M1910 302h4M1910 314h4M1934 318h4M1914 322h4M1926 326h4"/>
<path stroke="#f8da2b" d="M1922 286h4M1930 290h4M1914 294h4M1934 298h4M1910 306h4M1910 310h4M1930 322h4M1922 326h4"/>
<path stroke="#f5e327" d="M1918 290h4M1930 294h4M1934 302h4M1934 306h4M1934 310h4M1934 314h4M1914 318h4M1918 322h4"/>
<path stroke="#f5eb23" d="M1922 290h8M1914 298h4M1914 302h4M1914 314h4M1930 318h4M1926 322h4"/>
<path stroke="#f7f31d" d="M1918 294h4M1926 294h4M1930 298h4M1930 302h4M1914 306h4M1930 306h4M1914 310h4M1930 310h4M1930 314h4M1918 318h4M1922 322h4"/>
<path stroke="#f9fb15" d="M1922 294h4M1918 298h12M1918 302h12M1918 306h12M1918 310h12M1918 314h12M1922 318h8"/></g>
<g stroke-width="4" fill="none"><path stroke="#402cb8" d="M1317.7 54.0h4M1349.2 65.1h4M1332.3 68.4h4M1327.1 73.5h4M1330.1 75.5h4M1339.5 74.3h4M1362.7 73.1h4M1379.5 74.4h4M1427.1 72.7h4M1366.6 78.4h4M1301.9 82.9h4M1350.4 84.9h4M1357.1 85.0h4M1328.9 91.4h4M1307.1 92.6h4M1367.0 98.3h4M1381.7 106.8h4M1394.4 106.0h4M1393.4 111.4h4M1285.3 117.2h4M1634.3 126.5h4M1919.0 126.7h4M1482.0 135.4h4M1266.4 142.3h4M1286.3 140.8h4M1179.0 146.1h4M1724.4 150.3h4M1922.3 150.3h4M1276.5 158.3h4M1787.5 157.6h4M1926.8 166.1h4M1936.6 167.2h4M1848.3 171.5h4M1953.0 169.6h4M1924.9 173.5h4M1935.5 173.0h4M1943.6 174.0h4M1237.3 176.9h4M1930.6 178.0h4M1938.0 179.4h4M1214.9 182.5h4M1897.0 181.4h4M1952.3 181.2h4M1889.4 185.4h4M1810.3 191.2h4M1830.9 191.1h4M1885.8 190.8h4M1192.4 193.2h4M1198.1 199.2h4M1781.4 201.3h4M1862.6 202.1h4M1956.5 201.2h4M1196.7 206.7h4M1815.6 205.9h4M1192.4 208.3h4M1815.0 208.5h4M1183.0 234.0h4M1180.3 240.6h4M1178.0 249.3h4M1183.7 261.6h4M1187.5 263.1h4M1187.7 274.1h4M1178.0 286.0h4M1185.3 294.8h4M1206.4 297.8h4M1210.8 299.3h4M1199.4 301.2h4M1214.8 304.5h4M1219.0 309.1h4M1245.0 330.0h4M1541.8 343.5h4M1563.4 349.2h4M1649.0 365.1h4M1494.8 375.1h4M1754.9 373.8h4M1223.0 397.1h4M1686.8 456.9h4M1574.3 474.6h4"/>
<path stroke="#4331c7" d="M1346.8 92.3h4M1320.4 99.5h4M1330.1 96.9h4M1338.2 97.6h4M1326.5 103.5h4M1330.7 102.6h4M1337.9 101.9h4M1331.0 105.8h4M1337.5 106.0h4M1369.7 105.4h4M1333.6 111.3h4M1337.5 110.7h4M1343.4 109.9h4M1346.3 111.1h4M1356.6 111.0h4M1363.3 111.1h4M1370.1 108.9h4M1373.9 109.0h4M1377.3 110.1h4M1326.6 113.7h4M1331.0 114.4h4M1333.9 115.3h4M1338.8 113.8h4M1357.9 115.5h4M1354.6 119.3h4M1357.4 118.0h4M1336.5 121.1h4M1344.5 123.6h4M1350.8 123.7h4M1353.7 123.5h4M1362.6 122.2h4M1370.7 121.5h4M1387.2 123.4h4M1306.4 124.3h4M1314.5 125.5h4M1353.1 126.4h4M1389.6 125.7h4M1303.0 129.3h4M1353.7 129.7h4M1318.8 134.5h4M1357.0 132.7h4M1366.4 133.9h4M1370.3 132.7h4M1294.2 139.7h4M1301.9 137.5h4M1316.3 138.0h4M1386.6 137.9h4M1403.6 138.8h4M1315.0 140.7h4M1386.7 142.7h4M1391.0 142.1h4M1302.2 144.5h4M1305.9 147.2h4M1385.5 144.8h4M1390.1 144.5h4M1308.7 148.5h4M1399.1 150.7h4M1444.7 150.1h4M1498.5 151.6h4M1300.4 155.0h4M1439.0 152.6h4M1477.4 152.8h4M1502.3 159.6h4M1589.2 159.5h4M1287.4 162.3h4M1529.3 162.1h4M1283.0 166.7h4M1552.5 164.5h4M1591.6 165.1h4M1276.9 170.0h4M1286.5 171.6h4M1281.0 183.5h4M1242.6 186.1h4M1257.1 185.4h4M1279.7 186.8h4M1933.5 186.8h4M1930.0 189.7h4M1241.0 192.5h4M1245.8 194.3h4M1250.5 194.2h4M1938.7 193.8h4M1221.4 198.2h4M1225.1 197.4h4M1229.5 196.9h4M1246.7 199.3h4M1254.2 196.3h4M1257.9 196.6h4M1924.3 198.4h4M1930.0 198.5h4M1932.5 197.3h4M1761.5 203.3h4M1905.3 201.2h4M1909.0 201.4h4M1927.1 201.5h4M1937.9 201.4h4M1949.2 202.7h4M1765.7 207.1h4M1888.5 204.5h4M1207.5 208.4h4M1208.7 211.7h4M1720.9 210.7h4M1724.9 210.7h4M1733.6 211.5h4M1755.3 210.6h4M1774.1 210.3h4M1891.6 211.2h4M1202.8 213.2h4M1210.0 214.2h4M1815.0 215.7h4M1204.5 218.6h4M1212.9 218.4h4M1222.5 218.3h4M1810.3 219.1h4M1215.4 221.8h4M1810.7 222.9h4M1202.0 225.4h4M1805.5 225.7h4M1812.3 224.8h4M1868.7 226.4h4M1208.6 230.1h4M1838.3 230.4h4M1210.6 234.6h4M1202.9 239.7h4M1207.0 236.5h4M1211.1 246.2h4M1194.6 249.2h4M1198.6 257.0h4M1206.7 257.5h4M1199.2 262.7h4M1200.9 261.0h4M1195.3 266.4h4M1198.6 266.7h4M1200.6 266.1h4M1207.1 264.7h4M1214.5 265.4h4M1196.4 271.2h4M1216.5 270.8h4M1212.9 273.2h4M1207.1 276.9h4M1221.4 279.2h4M1227.5 287.0h4M1211.2 293.9h4M1243.1 293.2h4M1217.9 302.5h4M1299.6 302.2h4M1242.6 304.9h4M1274.1 307.2h4M1281.9 307.4h4M1246.7 309.2h4M1336.3 311.3h4M1342.6 311.6h4M1269.3 318.2h4M1427.3 319.0h4M1593.9 342.5h4M1650.6 342.1h4"/>
<path stroke="#4537d5" d="M1345.9 133.7h4M1324.5 138.9h4M1333.8 139.4h4M1349.7 138.5h4M1330.8 142.4h4M1333.1 142.0h4M1337.7 142.4h4M1351.6 142.9h4M1356.7 141.2h4M1330.9 144.4h4M1332.7 146.7h4M1345.2 147.3h4M1351.1 147.5h4M1355.2 147.7h4M1358.5 146.6h4M1361.6 146.6h4M1365.1 145.7h4M1371.4 144.8h4M1373.3 147.4h4M1379.2 147.5h4M1317.5 150.0h4M1328.5 150.3h4M1342.9 149.0h4M1353.8 150.1h4M1358.5 149.3h4M1362.3 149.4h4M1364.7 148.5h4M1370.3 150.1h4M1381.3 148.7h4M1393.9 148.5h4M1312.8 153.7h4M1379.5 155.6h4M1308.8 158.3h4M1391.6 157.0h4M1407.6 157.5h4M1314.8 163.6h4M1316.9 160.4h4M1305.8 164.7h4M1309.4 164.9h4M1505.0 165.9h4M1515.4 165.7h4M1531.1 165.4h4M1544.8 166.1h4M1550.4 168.4h4M1566.5 169.7h4M1576.6 171.4h4M1300.4 172.9h4M1567.4 175.5h4M1590.8 172.6h4M1287.0 194.8h4M1656.8 193.1h4M1262.3 198.0h4M1244.6 202.7h4M1248.9 201.4h4M1264.9 203.7h4M1245.4 207.2h4M1255.5 206.0h4M1257.8 207.4h4M1272.9 206.1h4M1930.9 204.8h4M1933.2 206.1h4M1232.7 208.9h4M1241.3 208.5h4M1249.6 210.1h4M1253.6 210.3h4M1257.3 210.6h4M1265.9 211.5h4M1269.8 209.4h4M1228.5 212.4h4M1735.4 212.4h4M1736.6 214.0h4M1938.2 214.6h4M1721.9 219.6h4M1729.8 216.8h4M1747.4 217.0h4M1780.7 222.6h4M1890.8 223.4h4M1895.4 221.4h4M1769.4 225.8h4M1787.6 227.2h4M1885.5 224.5h4M1219.0 231.1h4M1223.3 230.4h4M1881.2 229.3h4M1221.4 233.9h4M1813.5 232.6h4M1826.3 234.7h4M1834.1 234.8h4M1836.8 234.1h4M1875.6 233.0h4M1214.1 236.5h4M1833.5 236.3h4M1857.4 237.7h4M1218.0 240.6h4M1218.0 246.3h4M1212.7 249.5h4M1214.7 252.7h4M1214.0 257.3h4M1212.9 262.1h4M1217.0 262.6h4M1222.9 262.9h4M1217.0 266.3h4M1225.3 265.9h4M1221.4 270.3h4M1229.2 271.2h4M1225.3 277.9h4M1232.8 277.5h4M1241.7 279.4h4M1228.9 282.5h4M1238.0 281.2h4M1248.8 281.0h4M1255.3 283.2h4M1267.2 283.4h4M1270.6 282.8h4M1274.6 282.9h4M1257.3 285.1h4M1271.7 284.8h4M1273.4 285.4h4M1276.5 286.9h4M1281.0 287.1h4M1287.3 284.7h4M1237.0 288.5h4M1254.6 288.4h4M1263.2 291.5h4M1278.8 290.6h4M1284.7 291.4h4M1247.4 293.0h4M1249.6 293.5h4M1263.1 293.2h4M1274.2 293.7h4M1280.7 293.9h4M1246.6 299.5h4M1291.7 298.0h4M1305.1 297.2h4M1310.1 297.9h4M1318.1 299.0h4M1245.2 300.5h4M1266.4 306.2h4M1450.9 310.1h4M1641.5 335.4h4M1653.5 338.6h4M1730.4 341.2h4M1735.0 341.1h4M1731.4 345.9h4M1837.8 345.5h4M1843.0 346.5h4M1913.1 381.4h4"/>
<path stroke="#463ee1" d="M1333.7 152.7h4M1337.1 152.6h4M1343.0 154.8h4M1346.7 155.1h4M1349.6 153.5h4M1354.2 153.6h4M1358.3 154.4h4M1361.4 154.8h4M1336.5 156.6h4M1343.0 159.0h4M1350.0 158.4h4M1358.2 158.3h4M1362.5 157.5h4M1368.6 156.8h4M1381.9 156.9h4M1326.2 161.0h4M1331.6 162.1h4M1334.8 162.1h4M1338.7 160.7h4M1346.9 162.6h4M1363.0 162.5h4M1365.5 162.4h4M1382.7 163.1h4M1385.0 161.9h4M1389.7 163.1h4M1396.5 161.6h4M1325.0 165.9h4M1432.9 166.9h4M1482.4 167.1h4M1309.4 168.6h4M1312.5 170.7h4M1322.3 171.5h4M1489.5 169.4h4M1503.1 168.7h4M1546.9 174.6h4M1310.5 179.1h4M1557.0 178.9h4M1566.3 176.9h4M1307.7 180.6h4M1583.3 180.4h4M1594.5 183.1h4M1299.2 187.1h4M1618.3 186.2h4M1623.1 190.7h4M1631.2 188.8h4M1635.2 193.6h4M1638.9 194.7h4M1646.0 193.9h4M1294.5 196.9h4M1283.6 203.7h4M1286.6 203.5h4M1276.8 207.4h4M1278.8 211.4h4M1244.9 213.5h4M1249.4 214.4h4M1258.6 215.1h4M1263.0 213.0h4M1271.3 215.0h4M1682.4 214.5h4M1697.2 215.1h4M1242.8 217.4h4M1249.8 218.2h4M1253.8 219.0h4M1257.1 217.5h4M1269.0 218.2h4M1272.7 218.7h4M1279.6 217.7h4M1695.6 217.1h4M1917.5 219.5h4M1939.1 217.2h4M1242.1 222.1h4M1261.2 222.5h4M1705.7 220.6h4M1708.6 221.7h4M1716.8 220.7h4M1906.7 221.4h4M1235.1 227.1h4M1734.8 224.5h4M1751.3 224.5h4M1229.5 231.1h4M1762.6 229.2h4M1888.6 230.3h4M1224.8 235.2h4M1230.7 233.4h4M1767.5 233.1h4M1773.6 232.8h4M1949.6 233.8h4M1222.8 239.2h4M1226.3 237.8h4M1806.8 238.4h4M1883.5 239.7h4M1953.7 238.0h4M1225.0 243.0h4M1814.0 241.0h4M1834.1 242.5h4M1868.4 242.3h4M1226.0 247.4h4M1224.6 252.7h4M1223.6 257.9h4M1226.3 256.9h4M1964.5 258.2h4M1226.6 263.3h4M1235.3 263.2h4M1261.8 266.1h4M1244.8 270.8h4M1266.6 269.6h4M1270.5 268.9h4M1241.9 273.6h4M1245.1 275.6h4M1250.5 275.4h4M1255.5 274.3h4M1259.5 273.5h4M1266.4 273.9h4M1278.5 272.6h4M1267.0 276.5h4M1279.2 277.8h4M1287.1 277.4h4M1278.6 281.1h4M1286.3 281.9h4M1293.8 281.8h4M1291.6 287.0h4M1296.3 285.0h4M1301.6 285.5h4M1296.9 289.8h4M1307.1 289.6h4M1314.0 289.8h4M1313.9 295.4h4M1322.6 295.1h4M1257.4 299.0h4M1352.7 297.5h4M1449.7 304.7h4M1501.6 311.0h4M1581.1 320.3h4M1634.8 331.0h4M1686.2 336.5h4M1825.0 337.9h4M1809.9 341.6h4M1846.5 341.3h4M1860.4 345.0h4"/>
<path stroke="#4745e9" d="M1349.8 161.6h4M1354.6 161.9h4M1357.7 162.1h4M1334.5 166.2h4M1343.6 167.1h4M1353.2 166.7h4M1357.4 166.8h4M1366.5 165.9h4M1369.5 164.9h4M1372.7 167.6h4M1397.2 165.5h4M1325.4 169.1h4M1334.4 169.0h4M1432.7 171.0h4M1319.6 173.1h4M1322.6 173.3h4M1326.0 175.1h4M1469.8 174.8h4M1527.7 177.3h4M1529.0 178.5h4M1309.1 180.4h4M1574.6 183.4h4M1305.1 186.8h4M1574.9 187.0h4M1576.9 186.7h4M1306.3 189.5h4M1627.6 192.8h4M1629.7 192.9h4M1631.4 197.3h4M1634.7 199.1h4M1638.8 198.3h4M1297.9 201.5h4M1290.6 205.8h4M1295.2 206.3h4M1291.5 214.4h4M1668.4 213.1h4M1680.6 217.7h4M1245.1 222.3h4M1698.8 221.7h4M1702.7 220.8h4M1919.4 221.7h4M1923.6 222.1h4M1246.0 225.6h4M1261.4 225.5h4M1277.5 227.5h4M1703.4 226.2h4M1705.9 225.5h4M1710.1 227.6h4M1929.7 226.3h4M1932.8 225.6h4M1234.7 229.2h4M1237.7 231.1h4M1264.9 231.1h4M1270.6 231.1h4M1277.1 229.9h4M1720.9 228.8h4M1236.7 233.4h4M1268.9 232.7h4M1278.0 233.4h4M1229.3 237.3h4M1234.1 237.0h4M1270.6 238.6h4M1274.6 237.9h4M1762.5 237.5h4M1766.8 237.8h4M1778.8 239.7h4M1884.5 237.2h4M1949.5 237.7h4M1265.2 243.0h4M1776.9 241.7h4M1787.1 243.2h4M1802.2 240.5h4M1793.6 244.4h4M1797.1 246.5h4M1812.5 244.4h4M1230.5 250.6h4M1232.9 248.7h4M1817.6 251.6h4M1846.5 249.3h4M1862.1 250.3h4M1230.0 254.7h4M1840.9 255.4h4M1235.6 257.8h4M1270.0 258.0h4M1241.0 261.9h4M1250.9 260.8h4M1258.4 262.8h4M1267.1 261.9h4M1270.9 263.1h4M1256.7 264.9h4M1269.0 264.7h4M1275.4 265.1h4M1282.2 271.4h4M1289.5 270.2h4M1967.1 269.3h4M1287.0 274.3h4M1290.5 274.1h4M1293.8 279.2h4M1305.6 282.7h4M1309.9 286.6h4M1319.3 284.6h4M1333.8 290.1h4M1387.3 297.0h4M1389.3 299.7h4M1394.4 298.2h4M1412.8 297.8h4M1413.2 301.9h4M1426.6 303.6h4M1442.6 303.4h4M1507.0 305.4h4M1554.8 311.2h4M1570.1 313.8h4M1609.9 317.1h4M1670.3 326.1h4M1666.4 331.4h4M1675.5 328.5h4M1686.9 329.8h4M1694.9 330.7h4M1702.8 329.6h4M1719.6 328.9h4M1729.9 330.5h4M1733.1 328.7h4M1747.0 329.8h4M1748.6 331.4h4M1754.9 328.4h4M1763.0 328.7h4M1766.0 331.6h4M1773.2 330.6h4M1782.9 331.0h4M1785.4 330.8h4M1790.6 331.1h4M1737.1 334.6h4M1743.1 333.0h4M1744.9 333.4h4M1786.2 334.1h4M1794.1 332.7h4M1805.9 333.3h4M1846.1 334.7h4M1849.0 332.6h4M1854.2 338.2h4M1867.6 338.3h4"/>
<path stroke="#484df0" d="M1345.2 169.3h4M1350.2 170.5h4M1353.3 169.3h4M1358.3 171.2h4M1369.0 171.5h4M1374.7 171.5h4M1385.3 171.6h4M1389.1 170.3h4M1329.2 172.5h4M1337.0 173.1h4M1340.3 172.8h4M1349.3 173.6h4M1354.1 173.3h4M1360.5 175.2h4M1381.9 172.9h4M1387.4 175.1h4M1399.3 175.3h4M1333.9 178.0h4M1477.6 177.3h4M1501.9 176.8h4M1506.4 176.8h4M1316.7 182.0h4M1516.9 181.5h4M1533.4 181.4h4M1312.7 186.9h4M1317.1 187.0h4M1547.7 185.9h4M1549.2 184.7h4M1559.5 186.4h4M1561.3 185.8h4M1564.3 187.1h4M1309.2 190.4h4M1576.5 191.5h4M1587.1 191.6h4M1306.8 194.7h4M1309.8 193.8h4M1608.5 194.8h4M1305.6 198.2h4M1619.3 196.4h4M1621.2 197.1h4M1629.2 202.8h4M1633.7 201.4h4M1650.0 211.1h4M1294.8 215.1h4M1658.9 213.5h4M1661.5 214.6h4M1666.8 213.9h4M1290.7 219.2h4M1671.4 216.7h4M1290.8 222.1h4M1680.8 220.9h4M1286.0 226.6h4M1686.5 226.8h4M1693.4 225.3h4M1698.5 225.9h4M1919.2 225.4h4M1922.4 224.9h4M1245.8 229.1h4M1249.8 230.4h4M1254.5 231.5h4M1282.5 230.8h4M1698.3 230.9h4M1701.8 229.4h4M1708.9 229.2h4M1906.4 228.5h4M1912.5 230.1h4M1921.1 230.0h4M1241.0 235.5h4M1249.3 234.5h4M1261.6 233.8h4M1282.1 234.4h4M1720.8 233.6h4M1725.2 235.6h4M1730.1 232.4h4M1906.7 235.0h4M1937.2 233.6h4M1942.9 235.4h4M1238.0 238.7h4M1247.3 238.6h4M1257.4 238.9h4M1262.1 238.4h4M1743.5 239.6h4M1941.5 238.9h4M1946.4 236.6h4M1237.5 242.3h4M1243.1 242.5h4M1246.2 240.6h4M1250.9 240.3h4M1259.0 242.9h4M1274.3 242.3h4M1750.8 242.7h4M1762.3 241.9h4M1766.0 242.8h4M1768.6 240.5h4M1239.2 247.2h4M1242.0 246.8h4M1255.2 245.5h4M1266.7 245.5h4M1774.1 247.1h4M1777.8 245.0h4M1785.3 245.2h4M1790.9 246.7h4M1238.6 249.7h4M1785.8 250.3h4M1790.6 250.5h4M1795.1 251.0h4M1803.3 250.6h4M1805.2 249.4h4M1878.8 251.0h4M1266.1 254.2h4M1815.1 255.2h4M1816.5 254.7h4M1837.5 252.3h4M1853.2 254.3h4M1863.1 255.1h4M1866.7 254.4h4M1871.5 255.1h4M1247.4 258.3h4M1257.3 256.8h4M1261.6 257.6h4M1273.6 258.4h4M1827.5 257.8h4M1829.5 259.4h4M1833.8 258.0h4M1845.3 257.5h4M1850.0 258.8h4M1853.6 257.9h4M1862.5 258.5h4M1278.6 261.5h4M1281.8 262.8h4M1287.0 266.2h4M1294.8 270.1h4M1297.9 269.5h4M1301.8 273.6h4M1305.7 277.9h4M1310.7 277.2h4M1314.1 278.0h4M1313.5 282.8h4M1316.9 282.4h4M1323.6 281.4h4M1325.5 282.0h4M1327.5 287.6h4M1330.7 286.1h4M1332.7 285.6h4M1344.6 289.9h4M1361.8 289.1h4M1373.2 293.8h4M1382.4 293.6h4M1386.3 295.0h4M1388.5 294.5h4M1425.8 296.4h4M1460.9 299.6h4M1505.4 301.6h4M1514.3 302.1h4M1560.5 311.5h4M1638.8 318.5h4M1655.2 322.2h4M1667.3 321.1h4M1668.4 322.4h4M1693.1 326.5h4M1696.8 325.4h4M1702.7 326.4h4M1705.4 327.2h4M1726.3 326.8h4M1729.8 327.4h4M1745.3 324.5h4M1753.3 326.2h4M1757.9 326.0h4M1762.0 326.3h4M1765.2 326.7h4M1768.7 325.2h4M1778.3 325.9h4M1781.4 325.8h4M1786.4 327.0h4M1792.9 325.6h4M1802.2 325.5h4M1805.9 325.9h4M1809.8 326.3h4M1817.5 324.4h4M1821.6 326.6h4M1826.4 327.1h4M1829.9 325.1h4M1836.7 324.8h4M1794.6 329.6h4M1799.3 328.6h4M1805.0 331.3h4M1809.3 328.7h4M1813.6 330.8h4M1829.7 331.5h4M1843.2 330.8h4M1846.1 328.4h4M1858.9 330.7h4M1860.9 334.1h4M1872.9 338.1h4M1959.5 345.9h4M1893.5 354.7h4M1901.5 361.2h4M1921.5 369.9h4M1927.0 371.6h4"/>
<path stroke="#4854f6" d="M1367.5 174.2h4M1373.9 175.5h4M1348.8 178.6h4M1353.9 176.9h4M1369.6 178.8h4M1379.1 178.5h4M1380.7 176.9h4M1385.7 177.4h4M1389.7 179.3h4M1417.3 176.8h4M1421.6 177.4h4M1425.6 178.3h4M1444.5 179.2h4M1450.5 177.5h4M1455.3 177.0h4M1334.5 183.1h4M1481.3 183.5h4M1484.6 182.9h4M1488.9 183.6h4M1327.0 186.4h4M1519.5 185.4h4M1525.8 187.0h4M1318.0 189.7h4M1321.8 190.5h4M1562.9 190.6h4M1570.5 190.7h4M1586.9 195.6h4M1588.6 194.3h4M1594.2 195.3h4M1596.5 194.3h4M1601.4 199.0h4M1607.6 199.1h4M1608.5 196.6h4M1618.2 201.8h4M1625.4 202.5h4M1301.6 206.2h4M1629.9 205.7h4M1636.4 206.6h4M1301.9 209.6h4M1297.8 212.9h4M1654.3 213.3h4M1293.4 216.6h4M1657.5 217.5h4M1660.7 218.5h4M1665.2 216.5h4M1293.4 223.3h4M1670.4 221.9h4M1289.5 226.4h4M1677.6 225.8h4M1682.3 225.6h4M1690.6 230.1h4M1694.4 230.7h4M1705.5 233.8h4M1909.2 232.9h4M1917.6 234.2h4M1921.1 233.6h4M1926.8 234.2h4M1930.2 233.2h4M1933.5 233.2h4M1282.3 238.1h4M1714.2 237.8h4M1717.8 237.7h4M1720.9 237.1h4M1727.6 239.2h4M1903.2 238.2h4M1906.8 237.6h4M1938.5 238.0h4M1277.7 241.9h4M1730.3 243.1h4M1732.4 241.1h4M1737.4 240.6h4M1894.4 242.6h4M1898.8 241.3h4M1274.4 245.6h4M1278.4 246.0h4M1747.1 245.3h4M1754.3 246.1h4M1756.9 245.5h4M1890.6 245.5h4M1895.1 246.8h4M1244.4 250.5h4M1248.9 250.9h4M1261.6 250.0h4M1278.0 250.2h4M1766.5 251.0h4M1770.7 250.2h4M1778.2 249.9h4M1256.8 254.1h4M1278.3 254.2h4M1790.2 254.1h4M1794.5 253.9h4M1798.3 254.7h4M1803.1 252.9h4M1879.3 254.9h4M1282.3 257.5h4M1798.5 258.4h4M1802.7 258.6h4M1804.8 258.4h4M1810.5 257.1h4M1817.0 257.8h4M1866.1 257.4h4M1870.2 257.2h4M1285.5 262.2h4M1290.6 262.1h4M1818.7 262.0h4M1821.7 263.0h4M1834.1 262.8h4M1838.2 261.7h4M1842.3 261.8h4M1846.1 261.8h4M1850.0 262.2h4M1854.5 262.4h4M1862.2 261.6h4M1866.4 262.1h4M1294.6 265.6h4M1297.6 266.4h4M1306.4 269.6h4M1310.5 273.4h4M1319.2 277.9h4M1335.5 281.6h4M1337.4 281.3h4M1342.1 282.0h4M1345.1 284.8h4M1354.1 285.4h4M1362.3 286.9h4M1965.6 285.1h4M1378.4 291.3h4M1380.5 289.9h4M1385.9 290.2h4M1393.5 288.7h4M1397.1 288.4h4M1430.4 294.2h4M1438.1 293.1h4M1965.5 293.3h4M1966.7 296.4h4M1534.6 301.8h4M1539.5 301.2h4M1965.1 302.6h4M1965.9 309.9h4M1621.0 315.4h4M1625.4 313.8h4M1633.4 315.3h4M1642.9 317.0h4M1644.7 318.5h4M1649.5 317.9h4M1652.4 316.7h4M1659.4 317.0h4M1679.4 320.9h4M1681.9 320.5h4M1686.4 322.5h4M1690.3 323.0h4M1694.2 322.4h4M1698.2 321.4h4M1701.4 322.2h4M1707.2 321.3h4M1713.7 323.3h4M1725.4 321.2h4M1729.3 321.4h4M1735.0 320.9h4M1736.9 323.1h4M1740.9 323.2h4M1745.1 321.7h4M1750.6 321.7h4M1757.6 321.9h4M1761.7 321.7h4M1765.7 321.8h4M1769.5 321.8h4M1773.0 322.7h4M1782.9 322.2h4M1786.3 321.8h4M1790.9 321.4h4M1794.6 322.1h4M1797.7 321.9h4M1813.8 322.1h4M1817.8 322.9h4M1830.1 323.2h4M1838.7 322.7h4M1840.9 326.5h4M1845.8 327.3h4M1854.9 325.7h4M1858.4 325.7h4M1862.6 325.5h4M1864.7 330.8h4M1962.5 330.3h4M1962.6 335.5h4M1949.9 353.4h4M1945.8 359.4h4M1906.9 360.8h4M1915.5 367.3h4M1923.2 366.2h4M1935.4 364.4h4"/>
<path stroke="#475cfa" d="M1341.2 181.6h4M1354.3 181.8h4M1358.3 181.8h4M1367.3 182.5h4M1369.0 182.8h4M1374.5 182.0h4M1441.2 182.2h4M1447.1 180.5h4M1458.0 181.3h4M1464.3 180.8h4M1329.3 185.5h4M1334.4 186.2h4M1491.2 186.2h4M1493.9 186.2h4M1498.2 187.3h4M1500.6 185.6h4M1325.5 190.2h4M1529.9 189.2h4M1534.0 190.7h4M1550.7 189.4h4M1575.3 194.8h4M1578.6 192.4h4M1621.6 206.1h4M1633.3 209.4h4M1650.8 219.1h4M1654.8 217.1h4M1658.6 221.9h4M1666.4 222.5h4M1294.1 226.4h4M1670.3 225.4h4M1674.0 225.5h4M1694.3 234.3h4M1698.2 237.6h4M1702.4 238.0h4M1910.7 237.5h4M1914.0 238.7h4M1925.1 238.1h4M1930.5 237.9h4M1282.2 241.8h4M1727.2 241.1h4M1901.2 241.7h4M1938.6 241.5h4M1282.5 245.5h4M1726.2 246.1h4M1729.5 246.4h4M1732.8 244.6h4M1742.1 245.3h4M1282.2 249.7h4M1745.9 250.0h4M1749.9 250.4h4M1753.9 250.0h4M1757.9 249.8h4M1889.0 249.3h4M1946.5 250.6h4M1282.0 253.4h4M1285.8 254.1h4M1885.3 254.1h4M1286.3 257.5h4M1290.0 257.9h4M1789.8 257.8h4M1793.8 257.9h4M1877.5 258.0h4M1881.4 258.6h4M1953.3 256.5h4M1293.4 262.2h4M1298.0 262.2h4M1802.3 261.7h4M1808.9 262.2h4M1813.4 262.6h4M1870.3 262.1h4M1826.0 265.7h4M1829.7 265.6h4M1833.6 265.8h4M1838.0 265.9h4M1849.7 265.9h4M1857.7 266.2h4M1309.9 270.0h4M1313.8 269.9h4M1317.3 274.3h4M1322.3 274.2h4M1325.9 274.2h4M1338.6 278.2h4M1341.7 278.5h4M1961.7 277.7h4M1350.5 281.6h4M1353.9 282.4h4M1358.4 281.6h4M1361.8 281.5h4M1960.9 283.0h4M1366.5 286.1h4M1385.2 285.1h4M1395.6 285.5h4M1404.4 291.6h4M1427.0 291.1h4M1443.7 288.9h4M1447.1 290.0h4M1450.9 289.4h4M1493.1 293.8h4M1526.8 298.5h4M1556.3 300.9h4M1585.2 304.5h4M1595.7 304.4h4M1611.1 310.7h4M1614.8 308.7h4M1624.8 310.7h4M1637.7 315.2h4M1642.1 314.7h4M1648.6 313.0h4M1657.9 314.5h4M1661.6 314.1h4M1666.7 313.8h4M1690.4 317.3h4M1698.1 318.3h4M1702.5 317.6h4M1706.4 318.6h4M1714.3 317.9h4M1717.5 317.8h4M1722.4 318.5h4M1729.8 317.8h4M1733.6 318.5h4M1738.1 317.9h4M1741.3 318.3h4M1745.6 317.5h4M1762.2 318.2h4M1765.9 317.7h4M1769.9 317.4h4M1773.7 318.2h4M1776.9 317.5h4M1786.2 317.2h4M1789.7 317.7h4M1794.4 318.5h4M1853.7 321.7h4M1862.0 322.3h4M1962.8 322.7h4M1866.3 326.5h4M1870.9 325.6h4M1958.2 333.1h4M1882.7 337.9h4M1956.6 338.6h4M1885.1 342.8h4M1940.4 357.2h4M1933.8 361.0h4"/>
<path stroke="#4564fd" d="M1377.1 182.6h4M1381.3 182.1h4M1390.4 181.8h4M1394.6 182.3h4M1398.7 183.1h4M1401.9 180.4h4M1412.9 181.1h4M1420.7 180.7h4M1424.8 181.1h4M1431.0 183.4h4M1432.5 181.5h4M1353.9 185.8h4M1357.4 186.0h4M1361.6 186.4h4M1365.6 185.8h4M1462.8 184.5h4M1466.9 185.2h4M1478.3 186.0h4M1481.6 186.5h4M1512.8 188.8h4M1522.8 190.3h4M1537.2 194.4h4M1545.2 193.4h4M1549.7 193.1h4M1553.7 194.3h4M1577.9 197.6h4M1581.7 199.2h4M1591.1 202.1h4M1597.9 201.5h4M1600.7 202.4h4M1609.2 205.7h4M1614.7 205.7h4M1629.8 210.0h4M1633.9 214.2h4M1638.3 214.4h4M1298.5 222.3h4M1649.4 221.5h4M1654.1 222.4h4M1662.0 225.7h4M1666.1 226.6h4M1922.6 238.5h4M1905.4 241.7h4M1910.0 241.8h4M1930.5 241.3h4M1286.1 246.6h4M1289.6 246.0h4M1718.7 245.7h4M1720.9 247.0h4M1901.6 246.2h4M1938.5 246.6h4M1726.2 250.2h4M1730.5 250.8h4M1734.4 248.9h4M1737.3 250.2h4M1894.3 249.2h4M1897.9 250.0h4M1941.7 250.3h4M1289.8 254.3h4M1294.0 254.0h4M1749.8 254.1h4M1294.2 258.0h4M1297.9 258.3h4M1885.8 257.6h4M1951.0 256.7h4M1305.8 266.1h4M1309.9 266.2h4M1814.8 266.1h4M1818.7 265.9h4M1318.3 270.2h4M1370.2 282.2h4M1373.0 282.3h4M1381.5 282.2h4M1387.0 281.3h4M1400.8 285.9h4M1409.3 284.3h4M1417.9 284.8h4M1961.9 285.3h4M1455.2 289.5h4M1475.6 290.6h4M1479.5 288.9h4M1503.5 293.5h4M1961.3 294.4h4M1961.8 297.5h4M1582.2 301.2h4M1587.3 301.9h4M1603.3 305.0h4M1613.3 304.9h4M1622.7 306.6h4M1961.1 305.7h4M1633.6 309.2h4M1638.0 309.3h4M1646.1 309.5h4M1654.6 310.3h4M1658.3 310.3h4M1962.4 309.9h4M1669.2 314.8h4M1678.0 313.1h4M1685.6 313.4h4M1689.8 314.2h4M1734.1 313.9h4M1737.6 314.3h4M1742.5 313.9h4M1961.4 313.4h4M1818.1 318.0h4M1837.9 318.0h4M1842.7 317.2h4M1845.3 317.6h4M1962.3 317.5h4M1874.1 325.4h4M1958.3 329.4h4M1884.8 338.6h4M1888.9 341.9h4M1954.2 341.6h4M1949.0 345.0h4M1940.9 354.9h4M1919.2 362.7h4M1930.8 360.8h4"/>
<path stroke="#416cfe" d="M1369.9 186.0h4M1374.3 186.5h4M1378.2 186.0h4M1382.0 186.5h4M1385.7 185.8h4M1390.1 185.9h4M1395.2 186.4h4M1397.0 187.5h4M1413.4 184.4h4M1417.7 186.7h4M1424.8 184.7h4M1430.0 185.6h4M1434.0 185.6h4M1438.2 185.5h4M1441.6 186.2h4M1473.7 191.5h4M1478.7 191.0h4M1482.4 189.3h4M1486.0 190.3h4M1490.6 189.9h4M1494.8 190.6h4M1522.5 194.6h4M1526.2 194.1h4M1530.4 194.3h4M1534.5 193.6h4M1549.5 197.9h4M1553.6 198.0h4M1561.1 198.7h4M1585.9 201.7h4M1597.5 205.9h4M1602.0 205.6h4M1605.0 205.7h4M1614.4 209.7h4M1302.3 222.4h4M1645.4 222.0h4M1297.8 225.7h4M1657.6 226.6h4M1913.5 242.5h4M1918.6 241.8h4M1922.0 242.5h4M1293.7 245.7h4M1906.0 245.9h4M1910.3 245.7h4M1933.6 246.2h4M1294.4 250.0h4M1298.0 249.9h4M1298.1 254.0h4M1733.3 254.2h4M1741.7 253.8h4M1894.4 254.3h4M1306.3 261.9h4M1950.0 262.1h4M1801.7 265.6h4M1818.1 270.3h4M1821.9 270.4h4M1374.2 277.6h4M1377.7 277.7h4M1957.9 279.0h4M1397.7 283.1h4M1402.7 280.6h4M1410.7 280.5h4M1414.7 283.7h4M1441.9 287.4h4M1445.6 287.1h4M1453.8 285.3h4M1457.3 285.4h4M1465.5 285.8h4M1487.6 290.5h4M1488.9 291.5h4M1497.2 290.7h4M1526.1 293.6h4M1562.3 297.4h4M1570.1 298.7h4M1595.4 303.6h4M1598.3 301.1h4M1606.3 301.6h4M1626.2 306.0h4M1630.5 306.6h4M1633.9 306.9h4M1638.5 306.0h4M1666.0 309.7h4M1669.7 310.4h4M1673.6 310.4h4M1678.3 309.5h4M1766.3 314.1h4M1770.0 314.0h4M1774.0 313.5h4M1778.7 314.7h4M1781.7 313.9h4M1789.7 313.6h4M1793.7 314.4h4M1822.3 313.9h4M1825.3 314.2h4M1830.8 313.2h4M1853.7 317.9h4M1878.4 325.9h4M1958.2 326.0h4M1954.2 333.8h4M1954.2 338.0h4M1901.6 349.1h4M1937.9 355.2h4M1915.0 359.5h4M1922.6 358.7h4M1925.8 357.4h4M1930.3 359.3h4M1935.0 358.6h4"/>
<path stroke="#3a74fe" d="M1378.3 190.0h4M1381.8 190.2h4M1386.0 190.0h4M1390.4 190.3h4M1397.8 191.0h4M1402.9 190.2h4M1417.9 189.3h4M1426.7 190.6h4M1429.6 190.3h4M1446.4 190.0h4M1456.9 189.9h4M1470.8 191.2h4M1493.6 193.8h4M1497.2 193.4h4M1538.2 198.4h4M1542.3 197.9h4M1545.8 198.0h4M1557.9 201.9h4M1566.0 203.1h4M1581.8 205.7h4M1589.5 206.4h4M1602.0 210.3h4M1609.3 209.3h4M1302.2 225.9h4M1646.0 225.8h4M1649.3 226.6h4M1653.8 229.7h4M1301.9 237.9h4M1298.2 242.2h4M1301.7 241.6h4M1298.4 246.0h4M1913.9 246.2h4M1917.7 246.1h4M1921.4 246.1h4M1926.2 246.6h4M1930.8 246.5h4M1938.2 249.8h4M1726.5 254.4h4M1729.8 254.3h4M1741.7 258.6h4M1745.5 258.0h4M1750.3 258.2h4M1950.7 265.1h4M1802.1 269.7h4M1806.5 270.2h4M1813.9 270.2h4M1846.1 273.8h4M1849.7 274.3h4M1952.9 275.0h4M1382.3 277.9h4M1386.8 277.9h4M1398.9 278.5h4M1418.0 282.0h4M1425.3 283.2h4M1431.3 281.1h4M1439.4 282.8h4M1470.9 286.3h4M1473.5 285.5h4M1483.2 286.4h4M1486.3 286.3h4M1957.6 286.0h4M1511.4 288.4h4M1516.4 291.2h4M1541.1 294.5h4M1572.6 298.0h4M1586.2 297.2h4M1617.8 302.5h4M1621.2 301.9h4M1629.7 302.9h4M1633.5 301.8h4M1838.0 314.5h4M1846.0 314.3h4M1849.9 313.7h4M1958.2 317.9h4M1958.0 322.1h4M1895.3 339.0h4M1945.6 346.2h4M1907.1 348.5h4M1910.5 354.2h4M1933.3 353.0h4"/>
<path stroke="#327cfc" d="M1421.2 190.8h4M1382.4 194.2h4M1462.4 194.3h4M1466.8 193.4h4M1469.2 192.7h4M1473.0 194.2h4M1478.6 194.1h4M1506.5 197.4h4M1509.3 198.0h4M1517.9 198.7h4M1521.6 197.5h4M1570.5 205.8h4M1572.7 206.2h4M1598.1 209.8h4M1606.3 213.9h4M1649.6 230.5h4M1306.4 234.3h4M1305.8 242.0h4M1697.7 249.8h4M1702.0 250.0h4M1929.7 250.1h4M1934.4 250.4h4M1745.8 262.4h4M1749.8 262.2h4M1950.2 270.2h4M1374.0 273.8h4M1377.9 273.8h4M1801.7 274.2h4M1805.5 274.4h4M1810.0 273.9h4M1402.0 278.2h4M1406.4 278.0h4M1409.9 278.0h4M1422.5 277.8h4M1425.6 278.3h4M1838.2 277.9h4M1841.8 277.6h4M1846.0 277.6h4M1849.9 278.5h4M1954.7 277.5h4M1449.9 281.1h4M1454.6 282.3h4M1458.0 282.6h4M1462.1 282.1h4M1466.0 281.7h4M1491.2 284.9h4M1494.1 284.5h4M1497.8 287.1h4M1502.0 286.0h4M1539.7 289.7h4M1557.1 294.9h4M1570.3 292.8h4M1574.1 293.4h4M1578.5 294.1h4M1598.1 298.2h4M1618.3 297.7h4M1621.7 298.2h4M1625.6 297.6h4M1774.0 310.0h4M1778.0 310.3h4M1782.6 309.8h4M1786.1 310.3h4M1790.0 309.7h4M1793.8 310.2h4M1842.2 309.8h4M1958.2 310.3h4M1957.8 314.1h4M1898.3 341.2h4M1903.5 346.9h4M1942.2 346.4h4M1910.2 350.7h4M1938.8 350.3h4M1925.9 353.6h4M1930.5 354.9h4"/>
<path stroke="#2e84f9" d="M1394.4 194.2h4M1397.5 194.4h4M1406.2 193.7h4M1410.3 194.2h4M1414.2 193.8h4M1417.9 193.6h4M1425.9 193.9h4M1450.1 194.1h4M1453.5 194.2h4M1458.6 193.5h4M1498.0 198.0h4M1501.9 197.3h4M1562.0 205.6h4M1566.1 205.9h4M1577.8 209.5h4M1582.5 209.9h4M1602.1 213.9h4M1310.0 234.0h4M1918.1 249.6h4M1922.3 250.2h4M1925.4 249.7h4M1933.8 254.3h4M1741.6 262.3h4M1945.8 265.6h4M1949.9 274.5h4M1430.2 278.5h4M1434.2 278.5h4M1437.7 278.1h4M1441.6 277.5h4M1446.2 277.5h4M1449.7 277.7h4M1453.9 277.6h4M1806.0 277.9h4M1809.9 277.8h4M1473.9 281.8h4M1478.6 282.3h4M1485.6 281.6h4M1838.0 282.3h4M1842.3 282.3h4M1849.9 282.1h4M1954.3 281.6h4M1510.3 286.6h4M1838.0 286.1h4M1541.5 291.1h4M1547.1 291.4h4M1549.8 290.2h4M1554.4 290.1h4M1557.7 289.8h4M1581.3 293.5h4M1585.8 293.6h4M1630.2 298.4h4M1782.0 306.2h4M1786.2 306.3h4M1850.2 310.3h4M1894.3 333.6h4M1902.1 341.7h4M1906.2 346.3h4M1914.0 349.8h4M1934.6 350.4h4"/>
<path stroke="#2d8bf4" d="M1397.8 198.1h4M1462.1 197.9h4M1470.7 197.5h4M1473.8 198.6h4M1503.0 201.7h4M1509.6 202.9h4M1518.4 201.7h4M1521.6 202.2h4M1566.4 210.4h4M1570.4 210.0h4M1574.7 210.1h4M1698.3 253.9h4M1926.0 254.1h4M1930.3 254.4h4M1742.2 266.2h4M1746.4 266.3h4M1945.7 269.7h4M1774.3 274.2h4M1457.9 278.0h4M1765.9 278.1h4M1769.8 277.9h4M1773.8 278.1h4M1949.8 277.7h4M1493.1 281.4h4M1497.1 281.2h4M1500.9 282.4h4M1506.6 281.9h4M1773.7 281.8h4M1527.4 284.6h4M1536.9 285.0h4M1873.9 285.9h4M1878.2 285.7h4M1562.7 289.9h4M1570.9 291.2h4M1573.2 289.7h4M1581.8 289.7h4M1873.7 290.1h4M1878.3 290.2h4M1861.8 293.8h4M1866.2 294.1h4M1785.7 302.0h4M1938.4 345.6h4M1917.6 350.6h4M1922.1 349.5h4M1926.1 350.3h4M1930.3 349.4h4"/>
<path stroke="#2b92ee" d="M1498.6 202.3h4M1573.7 214.4h4M1941.8 266.0h4M1746.1 269.8h4M1486.6 278.4h4M1489.7 277.6h4M1514.3 281.8h4M1519.2 282.2h4M1521.7 282.4h4M1765.8 282.2h4M1770.5 282.4h4M1546.0 286.5h4M1885.9 286.0h4M1882.3 290.3h4M1933.9 346.3h4"/>
<path stroke="#2699e9" d="M1498.4 206.2h4M1501.8 205.9h4M1509.8 205.8h4M1650.2 237.7h4M1945.9 274.1h4M1498.0 277.4h4M1525.9 281.1h4M1534.7 281.9h4M1538.1 281.4h4M1565.8 286.3h4M1569.5 286.4h4M1573.8 285.9h4M1886.1 290.0h4"/>
<path stroke="#249fe5" d="M1510.9 278.1h4M1514.1 279.1h4M1518.5 278.6h4M1521.8 277.6h4M1889.8 285.6h4"/>
<path stroke="#1fa5e2" d="M1501.3 209.5h4M1506.4 210.1h4M1493.9 273.7h4M1498.2 274.3h4"/>
<path stroke="#13b0d7" d="M1505.7 273.9h4"/>
<path stroke="#07b5cf" d="M1513.7 273.6h4"/>
<path stroke="#01b9c7" d="M1498.0 214.2h4M1502.3 214.4h4"/></g>
<g stroke-width="4" fill="none" shape-rendering="crispEdges"><path stroke="#4854f6" d="M200 855h4M200 859h4M744 891h12M204 895h4M740 895h24M772 895h12"/>
<path stroke="#475cfa" d="M324 811h8M212 831h4M208 835h4M208 839h4M572 851h4M204 855h4M200 863h4M200 867h4M204 891h4M880 891h4M208 899h4M724 899h8M740 899h44M280 915h4M648 963h12"/>
<path stroke="#4564fd" d="M324 815h12M212 835h4M568 855h8M204 859h4M576 859h4M204 863h4M856 863h8M204 867h4M864 867h4M204 871h4M204 883h4M208 891h4M212 895h4M648 895h4M880 895h4M212 899h8M684 903h32M772 903h12M228 907h8M256 907h8M276 911h28M344 919h12M560 951h4M644 959h20M672 959h8M756 963h4M780 963h12M840 991h4"/>
<path stroke="#416cfe" d="M320 819h4M328 819h12M352 823h12M216 831h4M216 835h4M212 839h4M212 843h4M208 851h4M208 855h4M560 855h8M208 859h4M572 859h4M208 863h4M576 863h8M852 863h4M208 867h4M584 867h4M860 867h4M208 871h4M588 871h4M864 871h4M208 875h4M592 875h4M208 879h4M208 883h4M208 887h4M212 891h4M876 891h4M216 895h4M220 899h4M224 903h12M248 903h12M680 903h4M716 903h20M744 903h28M272 907h24M304 911h4M340 915h16M432 927h4M524 943h8M880 947h4M564 951h4M608 955h16M632 955h20M680 959h4M708 959h4M720 959h4M752 959h44M872 971h4M836 987h4M844 987h4"/>
<path stroke="#3a74fe" d="M240 819h8M324 823h28M364 827h4M220 831h4M216 839h4M216 843h4M484 843h8M212 847h4M212 851h4M552 855h8M212 859h4M564 859h8M212 863h4M212 867h4M580 867h4M856 867h4M212 871h4M584 871h4M828 871h4M860 871h4M212 875h4M588 875h4M212 879h4M592 879h4M212 883h4M212 887h4M216 891h4M220 895h4M624 895h4M876 895h4M224 899h4M644 899h8M260 903h32M664 903h4M296 907h20M684 907h52M760 907h24M332 911h16M880 911h4M356 915h4M380 919h8M424 923h4M436 927h8M516 939h8M880 939h4M532 943h8M880 943h4M556 947h16M600 951h24M652 955h24M796 959h8M872 967h4M868 971h4M832 983h4"/>
<path stroke="#327cfc" d="M236 823h8M272 823h12M300 823h24M332 827h32M220 835h4M412 835h4M220 839h4M216 847h4M488 847h8M216 851h4M516 851h16M216 855h4M540 855h12M216 859h4M556 859h8M568 863h8M576 867h4M844 867h12M832 871h4M856 871h4M216 879h4M216 883h4M596 883h4M216 887h4M600 887h4M220 891h4M604 891h8M224 895h4M228 899h8M244 899h40M640 899h4M876 899h4M292 903h20M660 903h4M320 907h4M328 907h12M676 907h8M736 907h4M748 907h12M800 907h4M348 911h16M376 915h12M880 915h4M412 919h4M880 919h4M428 923h16M880 927h4M880 931h4M880 935h4M524 939h20M552 943h20M596 947h4M624 951h24M876 951h4M676 955h8M688 955h4M708 955h32M752 955h52M872 963h4M836 983h16"/>
<path stroke="#2e84f9" d="M244 823h8M228 827h8M296 827h36M224 831h4M344 831h8M356 831h12M224 835h4M404 835h8M220 843h4M220 847h4M484 847h4M220 851h4M500 851h16M528 855h4M536 855h4M544 859h12M216 863h4M560 863h8M216 867h4M216 871h4M580 871h4M836 871h8M852 871h4M216 875h4M584 875h4M828 875h4M860 875h4M220 879h4M588 879h4M220 883h4M592 883h4M220 887h4M596 887h4M224 891h4M600 891h4M872 891h4M228 895h8M244 895h8M608 895h8M284 899h20M628 899h8M808 899h4M312 903h24M648 903h4M804 903h4M876 903h4M340 907h20M668 907h8M876 907h4M372 911h8M684 911h56M752 911h52M416 919h16M444 923h4M480 927h4M516 935h16M548 939h12M572 943h8M600 947h12M876 947h4M648 951h28M804 955h4M872 959h4M868 967h4M864 971h4M832 979h8M852 979h4"/>
<path stroke="#2d8bf4" d="M236 827h28M276 827h12M228 831h8M320 831h24M356 835h16M224 839h4M404 839h16M224 843h4M484 851h12M220 855h4M512 855h16M220 859h4M532 859h8M552 863h8M568 867h8M220 871h4M844 871h8M220 875h4M832 875h4M856 875h4M828 879h4M860 879h4M224 883h4M224 887h8M228 891h8M252 895h32M604 895h4M872 895h4M304 899h12M624 899h4M336 903h4M348 903h4M640 903h8M808 903h4M360 907h4M656 907h4M664 907h4M804 907h4M380 911h16M676 911h8M804 911h4M876 911h4M408 915h12M740 915h4M752 915h44M800 915h4M876 915h4M432 919h16M484 927h12M516 931h8M532 935h16M560 939h12M876 939h4M876 943h4M620 947h24M676 951h16M708 951h16M728 951h16M748 951h60M872 955h4M868 963h4M820 967h4M824 971h4M832 975h4M856 975h4M840 979h12"/>
<path stroke="#2b92ee" d="M264 827h12M236 831h12M304 831h16M228 835h8M340 835h16M228 839h4M400 839h4M416 843h8M224 847h4M440 847h8M224 851h4M468 851h12M224 855h4M496 855h16M224 859h4M520 859h12M548 863h4M560 867h8M576 871h4M224 875h4M580 875h4M836 875h4M224 879h4M584 879h4M832 879h4M228 883h4M588 883h4M232 887h8M592 887h4M244 891h16M868 891h4M284 895h12M316 899h12M612 899h8M812 899h4M352 903h8M632 903h8M372 907h12M648 907h8M808 907h4M396 911h16M664 911h12M420 915h16M680 915h60M804 915h4M448 919h12M740 919h8M752 919h28M876 919h4M476 923h12M876 923h4M496 927h4M876 927h4M524 931h8M876 931h4M548 935h8M876 935h4M572 939h8M600 943h8M644 947h48M704 947h4M712 947h16M732 947h72M808 951h4M872 951h4M868 959h4M864 967h4M828 971h4M860 971h4M836 975h4"/>
<path stroke="#2699e9" d="M248 831h20M284 831h4M296 831h8M236 835h12M328 835h12M232 839h8M372 839h8M228 843h8M404 843h12M228 847h4M428 847h4M228 851h4M452 851h16M228 855h4M480 855h16M228 859h4M508 859h12M540 863h8M556 867h4M568 871h8M228 875h4M840 875h4M852 875h4M228 879h8M232 883h8M240 887h8M864 887h4M260 891h12M276 891h4M596 891h4M296 895h16M600 895h4M868 895h4M328 899h12M604 899h8M816 899h4M360 903h8M620 903h12M812 903h4M872 903h4M384 907h8M640 907h8M872 907h4M412 911h12M656 911h8M808 911h4M436 915h16M668 915h12M460 919h16M680 919h60M780 919h28M488 923h12M712 923h44M760 923h36M512 927h8M732 927h44M532 931h8M740 931h32M556 935h8M736 935h12M752 935h20M580 939h16M720 939h4M728 939h20M756 939h24M620 943h60M684 943h8M704 943h48M756 943h48M804 947h8M872 947h4M820 963h4M824 967h4M832 971h4M852 975h4"/>
<path stroke="#249fe5" d="M268 831h16M248 835h8M312 835h16M240 839h8M352 839h20M236 843h8M396 843h8M232 847h8M420 847h8M232 851h4M444 851h8M232 855h4M464 855h16M232 859h4M500 859h8M532 863h8M548 867h8M564 871h4M232 875h4M576 875h4M844 875h8M236 879h8M580 879h4M836 879h4M856 879h4M240 883h12M584 883h4M860 883h4M252 887h12M588 887h4M280 891h12M592 891h4M312 895h12M368 903h8M612 903h8M392 907h8M628 907h12M812 907h4M424 911h8M644 911h12M452 915h12M656 915h12M808 915h4M476 919h8M668 919h12M808 919h4M500 923h4M676 923h16M700 923h12M796 923h12M520 927h8M680 927h12M704 927h28M776 927h28M540 931h12M680 931h12M704 931h36M772 931h36M564 935h16M676 935h16M704 935h32M772 935h24M800 935h8M596 939h4M604 939h8M616 939h8M652 939h40M704 939h16M780 939h28M804 943h8M872 943h4M812 951h4M868 955h4M820 959h4M824 963h4M864 963h4M828 967h4M840 975h4"/>
<path stroke="#1fa5e2" d="M256 835h4M264 835h8M284 835h4M292 835h20M248 839h8M336 839h16M244 843h4M240 847h8M412 847h8M236 851h8M436 851h8M236 855h8M460 855h4M236 859h8M492 859h8M236 863h8M520 863h12M240 867h4M544 867h4M236 871h8M556 871h8M240 875h8M568 875h8M244 879h8M252 883h8M832 883h4M264 887h16M292 891h12M864 891h4M332 895h4M596 895h4M352 899h8M600 899h4M868 899h4M376 903h8M604 903h8M816 903h4M400 907h12M620 907h8M432 911h8M632 911h12M812 911h4M872 911h4M464 915h4M644 915h12M484 919h4M652 919h16M504 923h8M656 923h16M808 923h4M528 927h4M656 927h24M808 927h4M552 931h8M656 931h24M808 931h4M580 935h16M640 935h36M808 935h4M624 939h28M808 939h4M872 939h4M812 947h4M816 951h4M860 967h4M856 971h4M844 975h8"/>
<path stroke="#1aabdd" d="M272 835h12M256 839h8M316 839h20M248 843h8M368 843h16M248 847h4M408 847h4M244 851h8M432 851h4M244 855h4M452 855h8M244 859h4M480 859h12M244 863h4M512 863h8M244 867h4M536 867h8M244 871h8M552 871h4M248 875h4M564 875h4M252 879h8M576 879h4M840 879h4M852 879h4M260 883h8M580 883h4M280 887h12M584 887h4M304 891h16M588 891h4M336 895h4M592 895h4M360 899h4M596 899h4M820 899h4M384 903h8M412 907h8M608 907h12M816 907h4M440 911h8M620 911h12M468 915h4M628 915h16M812 915h4M872 915h4M488 919h8M636 919h16M812 919h4M872 919h4M512 923h4M636 923h20M532 927h12M636 927h20M560 931h24M624 931h32M600 935h40M872 935h4M812 939h4M812 943h4M820 955h4M836 971h4"/>
<path stroke="#13b0d7" d="M264 839h52M256 843h8M352 843h16M396 847h12M424 851h8M248 855h8M448 855h4M248 859h8M472 859h8M248 863h8M504 863h8M248 867h8M528 867h8M252 871h4M544 871h8M252 875h8M556 875h8M260 879h8M568 879h8M268 883h12M576 883h4M856 883h4M292 887h12M580 887h4M860 887h4M320 891h12M584 891h4M348 895h8M588 895h4M392 903h8M600 903h4M820 903h4M420 907h4M604 907h4M448 911h4M608 911h12M816 911h4M472 915h8M612 915h16M496 919h4M616 919h20M516 923h8M616 923h20M812 923h4M872 923h4M544 927h16M608 927h28M812 927h4M872 927h4M584 931h40M812 931h4M872 931h4M812 935h4M816 947h4M868 951h4M824 959h4M864 959h4M828 963h4M832 967h4M852 971h4"/>
<path stroke="#07b5cf" d="M264 843h8M320 843h28M260 847h8M384 847h4M392 847h4M260 851h4M416 851h8M256 855h8M440 855h8M256 859h4M464 859h8M256 863h4M496 863h8M256 867h8M520 867h8M256 871h8M540 871h4M260 875h8M552 875h4M268 879h8M560 879h8M844 879h8M280 883h16M572 883h4M836 883h4M304 887h12M576 887h4M832 887h4M332 891h12M580 891h4M584 895h4M864 895h4M376 899h8M588 899h8M400 903h8M592 903h8M424 907h8M596 907h8M452 911h8M600 911h8M480 915h4M600 915h12M816 915h4M500 919h8M600 919h16M524 923h12M596 923h20M560 927h48M816 943h4M860 963h4M840 971h4"/>
<path stroke="#01b9c7" d="M272 843h48M268 847h4M356 847h28M264 851h4M408 851h8M264 855h4M432 855h8M260 859h8M460 859h4M260 863h8M488 863h4M264 867h4M512 867h8M264 871h8M532 871h8M268 875h8M544 875h8M276 879h16M556 879h4M296 883h12M564 883h8M316 887h16M572 887h4M344 891h8M576 891h4M364 895h8M580 895h4M384 899h8M584 899h4M824 899h4M408 903h8M588 903h4M432 907h8M588 907h8M820 907h4M868 907h4M460 911h8M588 911h12M484 915h8M588 915h12M508 919h8M584 919h16M816 919h4M536 923h60M816 939h4M868 947h4M856 967h4M844 971h8"/>
<path stroke="#09bdbe" d="M272 847h84M268 851h12M396 851h12M268 855h8M424 855h8M268 859h8M452 859h8M268 863h8M484 863h4M268 867h8M504 867h8M272 871h8M524 871h8M276 875h16M540 875h4M292 879h12M548 879h8M308 883h16M560 883h4M840 883h4M852 883h4M332 887h12M564 887h8M856 887h4M352 891h8M572 891h4M860 891h4M372 895h8M576 895h4M392 899h8M580 899h4M416 903h8M580 903h8M440 907h8M580 907h8M468 911h4M580 911h8M492 915h8M576 915h12M516 919h16M564 919h20M816 923h4M816 927h4M816 931h4M816 935h4M868 943h4M820 947h4M824 955h4M864 955h4M836 967h4"/>
<path stroke="#1bc0b4" d="M280 851h116M276 855h24M416 855h8M276 859h20M444 859h8M276 863h16M472 863h8M276 867h20M496 867h8M280 871h20M516 871h8M292 875h16M532 875h8M304 879h16M544 879h4M324 883h12M552 883h8M848 883h4M344 887h12M560 887h4M364 891h4M564 891h8M380 895h8M828 895h4M400 899h8M864 899h4M424 903h4M448 907h4M568 907h12M472 911h8M568 911h12M820 911h4M868 911h4M500 915h8M564 915h12M532 919h32M828 959h4M832 963h4M852 967h4"/>
<path stroke="#28c3ab" d="M300 855h36M400 855h16M296 859h24M436 859h8M292 863h24M464 863h8M296 867h20M488 867h8M300 871h20M508 871h8M308 875h20M524 875h8M320 879h16M536 879h8M336 883h16M544 883h8M844 883h4M356 887h8M552 887h8M836 887h4M368 891h12M556 891h8M832 891h4M388 895h8M560 895h8M408 899h8M560 899h8M428 903h8M560 903h8M824 903h4M452 907h8M560 907h8M484 911h4M556 911h12M508 915h20M540 915h24M868 915h4M868 939h4M820 943h4M864 951h4M860 959h4M856 963h4M840 967h4"/>
<path stroke="#31c5a1" d="M340 855h8M352 855h48M320 859h28M424 859h12M316 863h24M456 863h8M316 867h24M480 867h8M320 871h20M500 871h8M328 875h16M516 875h8M336 879h16M528 879h8M352 883h8M536 883h8M364 887h4M544 887h8M852 887h4M380 891h8M548 891h8M396 895h4M548 895h12M860 895h4M416 899h8M552 899h8M436 903h8M552 903h8M864 903h4M460 907h8M548 907h12M488 911h12M544 911h12M528 915h12M820 915h4M868 919h4M868 923h4M868 927h4M868 931h4M868 935h4M820 939h4M824 951h4M848 967h4"/>
<path stroke="#39c895" d="M348 859h44M396 859h28M340 863h12M356 863h8M444 863h12M340 867h20M472 867h8M340 871h20M492 871h8M344 875h16M508 875h8M352 879h12M520 879h8M360 883h12M528 883h8M376 887h8M536 887h8M840 887h4M388 891h8M540 891h8M856 891h4M404 895h8M540 895h8M424 899h8M540 899h12M828 899h4M444 903h8M540 903h12M468 907h8M536 907h12M824 907h4M500 911h44M820 919h4M820 923h4M820 927h4M820 931h4M820 935h4M828 955h4M836 963h4M844 967h4"/>
<path stroke="#45cb89" d="M392 859h4M364 863h24M428 863h16M360 867h16M468 867h4M360 871h16M484 871h8M360 875h16M500 875h8M364 879h12M512 879h8M372 883h12M520 883h8M384 887h8M528 887h8M848 887h4M396 891h8M528 891h12M836 891h4M412 895h8M532 895h8M832 895h4M432 899h4M532 899h8M452 903h8M528 903h12M476 907h16M516 907h20M864 907h4M824 947h4M864 947h4M860 955h4M832 959h4M852 963h4"/>
<path stroke="#55cc7b" d="M388 863h40M376 867h20M456 867h12M376 871h16M480 871h4M376 875h16M492 875h8M376 879h16M504 879h8M384 883h12M512 883h8M392 887h12M516 887h12M844 887h4M404 891h12M520 891h8M420 895h8M520 895h12M436 899h8M520 899h12M860 899h4M460 903h4M512 903h16M492 907h24M824 911h4M856 959h4"/>
<path stroke="#67cd6d" d="M396 867h60M392 871h16M472 871h8M392 875h16M484 875h8M392 879h16M496 879h8M396 883h12M504 883h8M404 887h12M508 887h8M416 891h8M508 891h12M852 891h4M428 895h8M508 895h12M856 895h4M444 899h8M508 899h12M464 903h48M828 903h4M864 911h4M824 943h4M864 943h4M828 951h4M840 963h4"/>
<path stroke="#7acc5e" d="M408 871h28M460 871h12M408 875h16M476 875h8M408 879h12M488 879h8M408 883h16M492 883h12M416 887h12M496 887h12M424 891h12M496 891h12M840 891h4M436 895h12M496 895h12M452 899h8M488 899h20M824 915h4M864 915h4M824 939h4M864 939h4M860 951h4M836 959h4M844 963h4"/>
<path stroke="#8ecb4f" d="M436 871h24M424 875h20M468 875h8M420 879h16M480 879h8M424 883h12M484 883h8M428 887h12M488 887h8M436 891h8M488 891h8M848 891h4M448 895h8M484 895h12M836 895h4M460 899h28M832 899h4M860 903h4M824 919h4M864 919h4M824 935h4M864 935h4M832 955h4M852 959h4"/>
<path stroke="#a1c840" d="M444 875h24M436 879h20M468 879h12M436 883h16M476 883h8M440 887h12M476 887h12M444 891h12M476 891h12M844 891h4M456 895h28M856 899h4M828 907h4M824 923h4M864 923h4M824 927h4M864 927h4M824 931h4M864 931h4M828 947h4M860 947h4M856 955h4"/>
<path stroke="#b3c534" d="M456 879h12M452 883h24M452 887h24M456 891h20M852 895h4M860 907h4M840 959h4"/>
<path stroke="#c4c22b" d="M840 895h4M832 903h4M828 911h4M828 943h4M832 951h4M836 955h4M844 959h8"/>
<path stroke="#d4bf28" d="M844 895h8M836 899h4M856 903h4M860 911h4M828 915h4M860 943h4M856 951h4M852 955h4"/>
<path stroke="#e2bc2b" d="M852 899h4M832 907h4M860 915h4M828 939h4M860 939h4"/>
<path stroke="#efba35" d="M840 899h4M856 907h4M828 919h4M860 919h4M828 923h4M828 931h4M828 935h4M860 935h4M832 947h4M856 947h4M836 951h4M840 955h4M848 955h4"/>
<path stroke="#fabb3d" d="M848 899h4M836 903h4M860 923h4M828 927h4M860 927h4M860 931h4M852 951h4M844 955h4"/>
<path stroke="#fec13a" d="M844 899h4M852 903h4M832 911h4M856 911h4M832 943h4M856 943h4"/>
<path stroke="#fec934" d="M840 903h4M836 907h4M832 915h4M832 939h4M836 947h4M840 951h4M848 951h4"/>
<path stroke="#fbd12f" d="M844 903h8M852 907h4M856 915h4M832 919h4M856 919h4M832 935h4M856 935h4M856 939h4M852 947h4M844 951h4"/>
<path stroke="#f8da2b" d="M840 907h4M836 911h4M852 911h4M832 923h4M856 923h4M832 927h4M856 927h4M832 931h4M856 931h4M836 943h4M852 943h4M840 947h4"/>
<path stroke="#f5e327" d="M848 907h4M836 915h4M844 947h8"/>
<path stroke="#f5eb23" d="M844 907h4M840 911h4M848 911h4M852 915h4M836 919h4M852 919h4M852 935h4M836 939h4M852 939h4M840 943h4M848 943h4"/>
<path stroke="#f7f31d" d="M844 911h4M840 915h4M848 915h4M836 923h4M852 923h4M836 927h4M852 927h4M836 931h4M852 931h4M836 935h4M840 939h4M848 939h4M844 943h4"/>
<path stroke="#f9fb15" d="M844 915h4M840 919h12M840 923h12M840 927h12M840 931h12M840 935h12M844 939h4"/></g>
<g stroke-width="4" fill="none"><path stroke="#402cb8" d="M248.2 711.4h4M264.9 711.6h4M347.0 711.0h4M258.7 714.8h4M355.9 721.8h4M342.6 728.2h4M254.9 730.8h4M220.4 735.1h4M361.3 736.0h4M219.4 739.9h4M226.7 737.7h4M235.5 740.4h4M243.7 739.1h4M248.1 737.5h4M351.4 740.5h4M366.4 740.2h4M212.6 741.9h4M351.9 741.7h4M369.1 743.7h4M406.6 742.6h4M227.6 747.3h4M354.9 748.2h4M385.4 748.5h4M759.9 747.5h4M381.2 751.3h4M216.6 756.1h4M362.5 755.8h4M375.8 762.6h4M382.8 763.1h4M188.5 766.1h4M391.7 768.3h4M201.6 770.0h4M176.8 787.4h4M161.7 791.0h4M185.1 791.8h4M707.2 803.7h4M148.5 806.2h4M570.5 806.7h4M848.7 806.7h4M863.7 813.3h4M684.6 824.6h4M723.4 825.4h4M102.9 850.9h4M116.4 855.5h4M118.9 856.1h4M121.0 867.7h4M119.3 871.1h4M112.8 874.8h4M100.1 887.0h4M115.6 893.8h4M113.2 915.2h4M100.3 926.7h4M111.1 931.2h4M105.2 951.0h4M116.0 951.9h4M123.0 951.8h4M135.5 950.1h4M143.4 961.8h4M148.6 961.8h4M252.3 962.7h4M331.3 963.3h4M100.0 970.8h4M176.7 972.4h4M224.6 970.0h4M243.2 972.4h4M425.6 970.0h4M436.9 975.2h4M187.2 980.4h4M431.8 980.4h4M111.6 982.3h4M416.2 984.4h4M177.1 988.2h4M196.2 991.5h4M494.8 990.5h4M175.3 996.0h4M194.7 1004.4h4M552.3 1003.6h4M103.8 1005.6h4M605.5 1007.9h4M351.8 1010.6h4M632.2 1009.4h4M107.9 1014.5h4M628.6 1017.7h4M180.6 1029.4h4M428.3 1039.2h4M424.5 1080.7h4M836.6 1086.5h4"/>
<path stroke="#4331c7" d="M286.7 712.0h4M293.7 711.0h4M286.8 716.2h4M333.2 715.5h4M272.2 719.8h4M280.5 717.8h4M297.0 719.6h4M303.1 720.3h4M320.6 718.2h4M326.7 717.7h4M264.6 723.4h4M299.8 721.8h4M308.5 724.5h4M327.9 723.8h4M337.3 724.2h4M294.8 728.3h4M302.5 728.4h4M311.7 727.5h4M322.6 728.2h4M328.4 726.8h4M331.1 726.9h4M334.4 727.5h4M270.4 729.9h4M289.1 729.7h4M298.3 732.0h4M303.5 729.8h4M312.8 729.7h4M314.9 729.8h4M322.4 732.0h4M339.8 731.3h4M274.7 734.5h4M278.5 735.3h4M315.4 736.6h4M326.9 736.6h4M334.5 734.2h4M268.1 739.4h4M279.1 738.2h4M284.4 739.5h4M319.8 738.6h4M333.0 739.7h4M336.2 739.8h4M248.4 741.5h4M259.5 742.0h4M271.0 743.9h4M308.1 743.4h4M318.5 742.5h4M247.2 751.7h4M254.5 752.2h4M265.0 750.3h4M324.0 750.0h4M243.9 754.0h4M254.7 754.0h4M285.4 756.3h4M296.4 753.4h4M310.8 754.8h4M320.1 755.8h4M323.2 755.4h4M332.3 753.6h4M343.5 754.5h4M220.7 759.0h4M242.9 759.5h4M249.4 759.4h4M255.9 758.4h4M259.1 760.2h4M263.4 758.1h4M325.0 757.6h4M326.6 758.6h4M330.8 757.9h4M338.8 758.3h4M346.8 759.4h4M351.2 760.5h4M354.7 758.3h4M319.8 762.8h4M324.2 763.0h4M332.4 762.8h4M341.5 764.5h4M347.5 762.1h4M211.4 765.9h4M231.5 767.6h4M257.3 766.3h4M323.8 767.3h4M327.4 767.3h4M337.2 766.9h4M361.3 765.6h4M338.8 771.7h4M342.5 775.8h4M346.4 774.0h4M364.2 775.5h4M366.6 785.8h4M371.1 788.3h4M420.8 786.9h4M383.7 789.6h4M414.8 790.2h4M181.2 797.5h4M521.1 799.8h4M476.1 806.9h4M504.7 808.2h4M185.1 810.5h4M154.6 815.0h4M158.9 819.3h4M167.3 817.4h4M174.8 819.9h4M868.3 817.6h4M152.4 823.8h4M851.8 821.7h4M164.5 825.7h4M167.0 827.6h4M839.3 826.9h4M855.0 825.9h4M168.8 830.4h4M173.6 832.0h4M149.3 834.7h4M169.4 833.8h4M160.6 839.5h4M144.5 842.7h4M152.1 844.1h4M159.1 844.3h4M617.6 843.9h4M812.1 842.2h4M805.1 846.8h4M147.6 850.8h4M634.8 851.5h4M639.9 849.7h4M674.8 849.9h4M138.3 855.7h4M777.4 853.8h4M132.3 858.1h4M137.2 860.3h4M728.5 860.5h4M128.8 861.5h4M145.3 862.6h4M729.7 863.5h4M123.6 865.8h4M126.7 867.7h4M134.6 867.9h4M140.0 867.8h4M134.5 870.8h4M143.9 871.8h4M139.0 873.4h4M134.6 879.0h4M139.7 880.6h4M125.4 886.0h4M127.7 885.3h4M121.6 889.5h4M138.4 891.8h4M120.2 899.6h4M139.8 898.4h4M118.9 902.5h4M126.9 909.9h4M136.7 910.1h4M142.5 911.6h4M127.7 915.4h4M146.5 916.7h4M144.5 918.3h4M128.4 924.4h4M132.1 923.7h4M135.9 922.6h4M140.4 923.8h4M143.4 925.7h4M153.3 926.5h4M131.6 931.1h4M136.9 936.1h4M158.5 935.3h4M164.5 944.0h4M183.3 943.9h4M188.4 943.9h4M190.8 944.6h4M204.2 943.7h4M160.1 948.1h4M176.0 948.6h4M180.9 947.5h4M187.8 945.5h4M218.8 945.3h4M231.4 947.9h4M157.5 951.1h4M175.4 950.1h4M183.0 949.9h4M153.0 955.6h4M172.4 953.8h4M177.5 955.3h4M183.4 953.7h4M178.6 958.7h4M330.3 960.1h4M161.6 961.6h4M195.1 963.9h4M167.9 967.6h4M537.4 977.5h4M586.6 989.9h4M621.4 998.0h4"/>
<path stroke="#4537d5" d="M302.8 754.0h4M308.3 758.7h4M278.3 761.9h4M285.6 762.6h4M286.5 763.3h4M303.2 761.7h4M272.6 766.4h4M290.9 765.5h4M310.8 765.8h4M320.3 766.2h4M292.3 772.2h4M301.1 770.6h4M303.7 770.1h4M312.5 771.0h4M317.3 770.2h4M319.0 771.5h4M324.4 769.9h4M328.3 771.4h4M274.7 773.4h4M301.6 773.4h4M327.6 774.8h4M246.7 779.9h4M257.6 779.4h4M265.2 779.9h4M275.7 780.2h4M307.8 777.5h4M317.7 779.5h4M321.1 779.1h4M322.4 780.1h4M330.6 778.5h4M231.8 782.9h4M319.2 783.3h4M329.7 784.3h4M216.1 788.3h4M207.6 796.0h4M372.3 793.4h4M206.8 798.4h4M388.4 800.0h4M408.6 804.5h4M197.0 807.6h4M427.4 806.7h4M439.0 807.2h4M472.3 812.0h4M482.5 815.4h4M492.5 815.8h4M495.0 814.9h4M523.8 814.4h4M548.0 818.1h4M193.5 823.4h4M549.3 822.0h4M181.1 826.0h4M183.1 827.3h4M847.0 827.1h4M849.1 831.9h4M850.5 830.2h4M182.4 835.0h4M839.4 835.3h4M849.3 834.6h4M852.2 836.6h4M181.2 839.1h4M172.7 843.2h4M163.7 846.3h4M816.6 847.1h4M156.0 852.1h4M159.2 850.9h4M164.5 850.3h4M167.1 851.9h4M170.7 852.0h4M165.2 855.8h4M157.2 857.8h4M158.9 857.4h4M146.8 861.7h4M152.7 862.0h4M160.6 863.0h4M153.2 865.7h4M157.3 865.8h4M150.8 870.2h4M154.8 870.0h4M677.6 871.8h4M697.1 872.6h4M754.3 872.5h4M143.1 875.5h4M149.7 874.4h4M152.7 873.9h4M145.4 877.9h4M142.3 882.6h4M138.5 888.4h4M142.8 887.4h4M144.3 890.3h4M150.8 894.4h4M144.1 900.5h4M147.4 898.3h4M148.9 901.6h4M156.7 903.0h4M150.8 913.6h4M156.3 917.8h4M163.6 919.6h4M156.0 922.1h4M185.5 928.0h4M196.7 925.8h4M160.7 929.7h4M173.5 929.7h4M185.6 931.1h4M192.5 931.3h4M173.2 936.4h4M180.8 934.6h4M199.8 935.8h4M269.3 936.5h4M170.9 939.5h4M191.5 938.4h4M197.2 940.4h4M228.1 938.2h4M255.5 937.6h4M284.8 938.6h4M300.5 938.6h4M319.1 937.7h4M253.6 944.4h4M347.5 944.7h4M370.6 946.7h4M377.4 950.2h4M446.9 954.0h4M516.1 967.5h4M536.1 975.2h4M538.3 975.0h4M545.4 973.7h4M579.7 987.7h4M641.5 987.4h4M648.2 992.6h4M724.3 990.9h4M731.7 995.5h4M765.6 993.4h4M874.9 1004.3h4M832.4 1012.0h4M840.2 1014.2h4"/>
<path stroke="#463ee1" d="M262.4 783.6h4M294.8 782.4h4M309.6 784.2h4M224.8 788.1h4M233.3 786.3h4M242.4 786.0h4M247.5 787.3h4M271.8 788.3h4M276.1 786.6h4M292.1 787.7h4M300.0 786.1h4M312.6 788.1h4M322.6 786.5h4M226.8 790.3h4M313.1 792.4h4M337.2 790.2h4M333.4 794.1h4M336.3 794.6h4M213.5 800.4h4M217.0 798.8h4M206.9 803.4h4M213.5 803.7h4M372.7 804.6h4M435.5 810.9h4M438.9 814.4h4M513.6 822.3h4M191.8 831.7h4M195.0 831.1h4M187.0 836.1h4M191.0 835.8h4M577.0 833.6h4M191.1 839.0h4M575.8 839.1h4M584.6 840.3h4M839.3 839.0h4M834.6 841.7h4M855.5 843.7h4M597.2 848.2h4M864.6 846.7h4M183.9 850.5h4M597.1 849.5h4M872.1 850.0h4M169.1 856.3h4M173.3 856.0h4M177.4 854.7h4M181.3 853.6h4M172.0 858.2h4M163.8 862.0h4M172.9 863.5h4M180.1 862.4h4M879.3 863.8h4M160.3 867.6h4M164.5 866.1h4M172.3 866.5h4M625.2 867.1h4M798.7 865.8h4M884.7 868.1h4M163.2 871.0h4M168.1 871.9h4M636.7 871.5h4M792.4 870.8h4M156.4 875.8h4M732.8 874.9h4M741.1 875.3h4M775.5 876.4h4M713.5 878.0h4M717.7 877.5h4M719.8 878.0h4M725.1 878.5h4M731.9 877.7h4M747.7 879.3h4M751.6 879.3h4M762.6 880.1h4M771.3 877.9h4M149.3 882.6h4M155.8 886.7h4M155.1 892.1h4M163.9 890.1h4M160.1 895.6h4M164.3 895.9h4M156.5 897.8h4M158.9 898.4h4M158.7 903.7h4M161.3 907.8h4M164.3 906.4h4M166.7 906.5h4M171.6 907.6h4M162.7 909.5h4M179.1 910.9h4M176.8 914.2h4M172.4 919.5h4M179.8 918.2h4M196.2 920.4h4M204.5 923.9h4M207.4 923.5h4M204.4 928.2h4M207.8 926.1h4M211.9 926.2h4M215.0 928.2h4M245.6 930.2h4M247.8 931.3h4M260.4 929.5h4M272.2 931.2h4M282.4 929.8h4M225.5 934.2h4M231.9 935.5h4M236.1 934.0h4M243.0 936.1h4M319.4 935.8h4M328.4 933.8h4M341.2 940.4h4M363.8 940.3h4M896.1 938.7h4M389.6 943.7h4M399.9 942.2h4M430.7 948.0h4M537.4 966.1h4M575.9 974.9h4M584.1 976.1h4M591.5 976.2h4M607.8 977.8h4M644.9 978.8h4M659.9 982.4h4M677.0 981.3h4M716.9 983.1h4M732.7 983.5h4M753.4 981.9h4M777.0 982.3h4M727.6 985.5h4M783.1 987.5h4M859.0 1002.0h4M862.7 1004.2h4M852.1 1006.1h4"/>
<path stroke="#4745e9" d="M248.0 792.3h4M252.5 789.6h4M265.4 789.3h4M269.1 791.0h4M271.3 791.8h4M274.5 790.6h4M285.2 792.5h4M291.5 789.5h4M298.6 789.8h4M233.5 796.1h4M235.4 794.0h4M244.4 796.0h4M279.3 794.6h4M291.4 796.6h4M295.4 793.8h4M304.5 795.9h4M314.7 794.4h4M323.3 796.3h4M220.6 799.6h4M223.2 799.7h4M345.2 803.4h4M212.1 806.8h4M216.0 807.1h4M212.2 811.4h4M394.9 812.7h4M209.0 814.4h4M207.8 819.0h4M528.4 826.2h4M200.0 832.3h4M551.4 830.8h4M199.2 836.0h4M559.3 834.1h4M564.1 835.7h4M193.6 841.5h4M197.0 841.4h4M577.3 842.5h4M841.1 843.3h4M843.6 844.1h4M847.2 842.5h4M851.4 842.3h4M833.7 847.7h4M187.1 852.2h4M191.9 851.6h4M190.4 854.4h4M821.2 855.4h4M189.0 860.3h4M870.8 860.3h4M188.2 863.1h4M877.3 863.0h4M175.3 866.5h4M181.4 866.7h4M184.7 867.0h4M186.4 866.4h4M880.4 866.1h4M178.8 872.0h4M621.1 871.9h4M880.2 872.5h4M168.9 874.5h4M180.6 875.9h4M185.2 873.6h4M645.7 875.5h4M666.8 879.8h4M159.2 882.9h4M698.6 884.0h4M704.4 883.6h4M712.1 884.3h4M715.3 884.2h4M732.4 881.8h4M740.3 884.2h4M745.1 884.4h4M748.9 884.0h4M753.6 884.0h4M754.7 883.0h4M765.5 882.3h4M772.0 884.0h4M783.8 884.4h4M159.8 887.1h4M164.1 888.0h4M166.7 885.8h4M171.1 886.9h4M170.5 892.2h4M180.4 891.5h4M184.9 889.9h4M187.8 892.0h4M177.4 893.9h4M188.3 894.5h4M167.7 898.2h4M175.7 897.5h4M180.0 900.3h4M187.8 897.9h4M192.8 899.0h4M192.3 905.4h4M196.0 911.4h4M198.9 912.1h4M200.2 915.8h4M207.8 915.6h4M212.8 918.7h4M215.0 919.2h4M220.1 924.1h4M223.7 923.4h4M231.6 921.5h4M893.3 923.8h4M231.1 926.7h4M234.4 926.5h4M249.4 927.4h4M259.8 925.6h4M263.3 926.8h4M275.3 927.0h4M278.9 928.3h4M331.4 930.4h4M343.1 934.4h4M376.2 934.5h4M400.1 939.5h4M462.8 946.9h4M507.5 958.8h4M511.3 960.6h4M559.5 967.1h4M580.6 971.0h4M590.3 971.3h4M596.2 971.6h4M598.8 970.6h4M882.3 972.3h4M596.8 976.3h4M616.0 974.9h4M629.6 976.4h4M640.4 974.8h4M648.6 975.4h4M663.1 979.2h4M669.0 978.4h4M694.7 978.2h4M701.6 980.5h4M712.6 978.6h4M727.2 977.8h4M732.7 980.0h4M738.4 978.0h4M747.2 978.7h4M754.4 980.2h4M775.0 980.2h4M785.6 980.0h4M841.5 1001.8h4M848.7 1004.1h4M851.2 1003.7h4"/>
<path stroke="#484df0" d="M257.0 793.5h4M267.5 794.6h4M240.7 798.5h4M258.6 799.4h4M263.0 797.7h4M268.2 798.9h4M273.5 798.4h4M276.8 797.7h4M279.3 798.1h4M293.4 799.2h4M299.0 798.1h4M305.6 799.9h4M311.6 797.5h4M224.2 803.5h4M227.3 803.3h4M232.1 802.9h4M311.9 801.5h4M322.9 803.1h4M328.0 803.9h4M332.9 803.5h4M337.2 804.5h4M219.5 806.8h4M215.5 810.7h4M363.2 811.9h4M393.2 810.5h4M212.7 814.2h4M399.9 816.3h4M408.5 813.5h4M427.8 819.4h4M207.5 822.9h4M440.9 823.4h4M204.5 826.3h4M500.1 832.6h4M204.8 835.2h4M537.3 833.8h4M541.4 834.3h4M199.2 840.6h4M200.8 841.7h4M573.6 843.2h4M195.7 848.6h4M200.3 846.2h4M845.4 846.6h4M855.8 852.4h4M863.2 854.1h4M192.2 859.6h4M820.3 858.6h4M824.7 858.3h4M191.4 864.1h4M195.7 862.8h4M817.4 861.7h4M871.0 863.6h4M192.6 866.3h4M875.0 865.6h4M609.2 869.5h4M809.7 872.1h4M186.6 875.9h4M190.4 874.7h4M879.2 873.5h4M166.9 879.8h4M180.0 879.8h4M190.5 877.5h4M628.5 879.1h4M639.8 878.7h4M879.1 877.9h4M163.3 883.8h4M169.3 882.2h4M175.4 882.8h4M193.2 884.3h4M649.5 881.9h4M191.6 887.2h4M195.5 887.9h4M684.9 887.1h4M710.8 885.7h4M732.4 888.0h4M736.7 888.1h4M740.6 887.9h4M744.1 887.5h4M748.2 887.2h4M751.3 887.5h4M755.2 886.4h4M759.5 888.4h4M775.1 885.7h4M779.0 887.5h4M790.8 887.7h4M883.9 887.9h4M193.1 889.6h4M197.0 890.6h4M200.1 894.8h4M203.8 902.6h4M206.9 907.3h4M217.4 911.0h4M219.0 919.4h4M223.0 918.9h4M232.4 919.6h4M244.2 919.5h4M255.5 917.9h4M262.6 918.2h4M234.7 924.1h4M241.3 923.4h4M253.1 922.8h4M256.0 922.9h4M264.3 921.9h4M267.8 921.7h4M276.3 921.5h4M280.5 924.3h4M294.4 924.0h4M300.5 924.3h4M305.0 922.4h4M307.3 924.4h4M344.1 926.7h4M353.4 931.5h4M359.9 931.9h4M395.1 934.6h4M404.5 935.0h4M410.7 937.5h4M415.9 938.1h4M422.3 939.6h4M428.2 939.6h4M432.5 939.9h4M512.1 954.4h4M535.5 958.1h4M552.9 962.5h4M556.6 962.1h4M560.7 962.2h4M565.2 962.8h4M568.4 962.5h4M571.6 967.3h4M575.1 966.0h4M590.8 967.7h4M600.4 968.2h4M606.6 966.6h4M623.5 969.9h4M628.7 971.3h4M633.5 971.4h4M644.6 970.5h4M651.8 971.4h4M656.0 972.0h4M664.2 969.9h4M667.4 971.1h4M672.6 969.5h4M664.2 974.6h4M693.4 973.8h4M699.0 974.3h4M752.1 975.2h4M765.5 975.6h4M772.8 974.0h4M783.0 974.1h4M786.7 973.7h4M790.7 975.1h4M881.6 974.4h4M796.9 977.8h4M801.1 978.3h4M876.7 978.2h4M807.9 983.8h4M871.3 986.6h4M829.4 996.7h4M835.3 1000.6h4M840.7 998.5h4"/>
<path stroke="#4854f6" d="M240.0 802.1h4M244.1 802.9h4M247.6 803.1h4M252.1 802.6h4M255.9 803.1h4M260.6 803.9h4M263.8 802.6h4M278.7 801.8h4M288.9 803.3h4M295.4 803.0h4M300.7 803.5h4M304.3 803.5h4M307.9 803.8h4M223.6 807.1h4M306.9 807.4h4M316.7 806.0h4M320.6 807.0h4M324.4 806.6h4M331.2 807.3h4M219.8 811.5h4M335.3 809.9h4M344.8 812.2h4M369.0 816.4h4M373.2 814.5h4M385.3 813.6h4M387.1 815.7h4M392.5 813.7h4M215.5 819.7h4M412.0 820.3h4M212.6 822.6h4M419.6 822.3h4M431.4 822.1h4M207.7 826.9h4M447.1 828.0h4M485.7 831.8h4M492.3 831.4h4M518.7 834.7h4M523.5 836.4h4M526.4 834.7h4M204.5 838.6h4M539.4 837.8h4M545.4 838.8h4M203.0 843.9h4M555.9 841.8h4M564.3 841.8h4M568.5 846.5h4M571.0 846.0h4M844.7 851.5h4M848.7 850.8h4M833.1 854.6h4M836.6 855.9h4M852.1 855.8h4M860.6 855.6h4M587.3 859.7h4M864.1 859.5h4M824.1 861.9h4M867.6 862.7h4M196.8 867.1h4M815.1 866.0h4M194.7 873.9h4M876.6 873.9h4M185.2 879.8h4M618.9 878.8h4M196.8 882.9h4M628.5 883.3h4M199.7 887.0h4M652.9 885.5h4M664.7 887.5h4M795.5 887.5h4M200.3 890.6h4M662.9 890.3h4M681.1 889.3h4M683.8 890.1h4M687.1 892.4h4M696.9 889.9h4M725.5 891.8h4M727.2 890.3h4M730.9 890.3h4M736.6 890.7h4M739.8 891.0h4M755.7 891.0h4M760.2 891.5h4M764.7 890.1h4M768.6 890.8h4M776.1 890.8h4M779.6 890.3h4M884.1 891.6h4M691.5 896.0h4M696.4 894.3h4M702.9 895.0h4M715.8 896.3h4M720.9 895.1h4M727.7 895.0h4M735.9 894.6h4M764.5 895.5h4M768.1 894.6h4M204.0 899.1h4M207.6 903.2h4M212.3 907.1h4M887.4 905.5h4M218.8 912.3h4M223.1 916.2h4M228.7 914.3h4M231.3 915.7h4M248.5 916.1h4M261.3 913.7h4M264.2 915.0h4M267.5 914.2h4M271.6 917.7h4M280.6 919.9h4M287.7 920.2h4M293.3 920.4h4M295.1 917.7h4M299.1 917.9h4M309.4 917.8h4M313.2 918.1h4M887.0 918.8h4M315.6 921.9h4M325.3 921.3h4M328.3 924.3h4M332.5 922.4h4M339.4 923.0h4M343.8 923.3h4M351.1 925.5h4M360.2 926.2h4M372.7 927.0h4M380.4 930.1h4M388.5 932.3h4M400.0 929.9h4M888.5 931.1h4M418.5 936.0h4M422.4 935.4h4M430.6 934.7h4M474.8 942.7h4M479.3 944.2h4M509.5 950.7h4M511.6 951.3h4M523.2 951.3h4M526.7 955.7h4M537.0 956.5h4M543.9 956.0h4M884.7 953.6h4M553.5 959.0h4M555.4 959.2h4M559.7 959.3h4M563.8 958.6h4M568.2 958.3h4M885.1 958.2h4M572.6 964.3h4M583.1 963.9h4M597.1 962.4h4M599.0 963.8h4M612.8 966.5h4M614.3 966.4h4M620.7 966.3h4M627.3 967.2h4M639.5 966.8h4M644.2 967.1h4M647.8 967.2h4M651.7 966.7h4M655.8 967.0h4M659.8 966.5h4M664.0 966.4h4M675.9 968.0h4M681.5 967.0h4M687.1 965.7h4M693.0 967.5h4M679.6 970.0h4M682.7 972.3h4M689.5 971.2h4M691.7 969.9h4M705.0 972.2h4M708.8 970.4h4M712.8 970.7h4M717.4 969.6h4M718.7 972.2h4M731.7 970.4h4M735.5 969.6h4M748.5 970.0h4M753.0 971.4h4M755.4 971.6h4M759.9 970.1h4M764.0 970.1h4M768.5 971.4h4M771.3 971.7h4M776.0 972.1h4M779.7 970.9h4M785.0 970.8h4M787.6 970.0h4M792.0 969.8h4M794.5 974.8h4M801.2 975.2h4M875.7 975.2h4M872.5 980.4h4M826.8 991.0h4M839.6 994.7h4M844.2 994.5h4M852.4 995.7h4M855.1 995.7h4"/>
<path stroke="#475cfa" d="M239.1 807.4h4M247.8 807.4h4M251.7 807.1h4M256.0 806.6h4M259.8 806.6h4M264.2 807.5h4M272.6 806.2h4M280.2 805.7h4M223.8 811.7h4M228.0 810.2h4M311.0 811.4h4M319.7 811.6h4M332.5 810.6h4M219.5 814.8h4M341.1 813.8h4M342.5 813.9h4M348.9 814.3h4M351.9 814.9h4M357.4 816.1h4M359.5 816.2h4M377.7 817.6h4M388.0 819.9h4M391.3 818.2h4M408.7 821.7h4M416.8 824.2h4M212.2 827.6h4M424.5 828.0h4M426.9 826.0h4M452.7 831.8h4M454.7 830.6h4M479.8 833.6h4M486.7 834.7h4M514.3 838.2h4M520.3 838.0h4M526.5 838.2h4M531.8 837.7h4M538.7 842.0h4M545.1 842.3h4M549.3 843.0h4M559.6 846.3h4M563.4 847.8h4M203.7 851.0h4M847.1 854.7h4M580.3 859.0h4M583.3 860.0h4M856.4 859.4h4M860.5 859.5h4M588.5 861.4h4M826.7 864.2h4M863.9 862.7h4M592.0 866.8h4M821.2 868.3h4M867.7 866.8h4M199.4 870.4h4M871.3 870.3h4M200.2 875.2h4M813.6 873.8h4M200.9 879.0h4M608.6 877.6h4M613.0 878.3h4M199.7 883.3h4M616.1 881.4h4M624.5 883.1h4M880.1 887.1h4M644.4 891.2h4M647.5 890.8h4M652.6 890.2h4M656.2 891.8h4M660.8 890.7h4M664.0 894.6h4M668.2 895.9h4M673.4 896.0h4M674.3 893.5h4M684.0 893.4h4M784.5 894.8h4M688.3 898.5h4M691.5 898.6h4M699.5 899.1h4M704.4 899.5h4M708.4 898.7h4M716.2 898.7h4M720.3 899.2h4M735.7 899.3h4M215.8 902.7h4M884.8 903.4h4M227.6 911.3h4M232.3 910.5h4M240.0 911.2h4M242.8 911.8h4M249.2 911.6h4M251.7 911.4h4M259.7 911.1h4M263.1 910.7h4M271.8 915.4h4M276.2 914.9h4M284.0 915.1h4M288.1 914.7h4M296.2 914.8h4M299.7 914.7h4M304.7 914.6h4M307.6 914.2h4M321.2 919.5h4M324.8 920.1h4M327.9 919.0h4M330.7 919.5h4M335.8 918.3h4M340.1 919.0h4M348.3 922.5h4M352.6 922.3h4M356.4 923.3h4M360.0 921.4h4M365.3 923.2h4M376.2 927.3h4M379.0 926.8h4M408.3 931.2h4M412.8 930.6h4M421.7 930.9h4M434.9 936.2h4M441.3 933.5h4M446.7 933.9h4M451.7 933.7h4M477.2 938.5h4M496.6 941.7h4M883.8 947.2h4M526.6 950.3h4M540.1 951.0h4M546.7 953.4h4M556.3 955.2h4M559.6 954.6h4M563.8 954.9h4M572.3 959.5h4M575.5 959.2h4M584.7 959.0h4M586.7 959.0h4M591.3 958.8h4M599.6 959.0h4M612.6 962.9h4M616.7 962.6h4M619.9 962.7h4M624.0 963.3h4M632.6 963.9h4M637.0 963.4h4M640.3 963.8h4M643.8 962.9h4M663.9 962.9h4M668.3 963.6h4M672.5 962.3h4M675.8 963.0h4M683.7 962.1h4M691.9 964.0h4M704.4 963.0h4M708.5 963.7h4M712.0 963.2h4M719.4 962.7h4M728.0 963.0h4M732.3 962.6h4M736.4 962.2h4M739.4 963.9h4M744.6 962.8h4M747.4 963.2h4M879.1 963.9h4M701.2 967.2h4M705.2 968.3h4M711.9 967.0h4M715.7 966.1h4M727.1 967.0h4M731.5 966.6h4M736.0 965.8h4M741.1 966.9h4M748.5 966.4h4M751.9 967.6h4M755.7 967.0h4M764.1 967.6h4M769.0 967.3h4M775.4 967.6h4M779.8 967.0h4M784.3 967.0h4M787.4 966.9h4M872.5 974.2h4M819.8 983.3h4M861.5 987.7h4M864.3 988.4h4M832.9 990.2h4M836.1 990.8h4M850.7 992.5h4"/>
<path stroke="#4564fd" d="M230.9 811.5h4M243.5 811.1h4M248.0 810.8h4M252.1 811.1h4M256.1 811.4h4M260.2 811.3h4M263.5 811.7h4M268.4 810.5h4M278.8 811.9h4M292.1 812.0h4M296.1 809.9h4M299.7 811.7h4M303.8 811.2h4M223.9 814.7h4M315.4 815.2h4M319.9 815.1h4M220.8 818.3h4M343.9 819.1h4M347.1 819.9h4M352.6 819.3h4M355.8 818.5h4M363.5 818.5h4M367.1 818.3h4M220.9 822.8h4M380.7 823.6h4M384.0 822.4h4M387.3 823.2h4M391.4 823.0h4M395.3 824.2h4M407.6 827.7h4M420.7 826.5h4M433.4 830.2h4M444.4 829.4h4M471.4 834.6h4M483.8 838.9h4M488.0 839.3h4M492.2 839.4h4M497.1 838.7h4M501.3 838.0h4M508.6 839.9h4M518.8 843.8h4M532.7 843.7h4M545.1 847.2h4M547.3 847.0h4M551.1 846.8h4M564.5 850.8h4M843.3 857.7h4M848.7 858.7h4M851.7 858.9h4M583.8 863.4h4M832.0 864.2h4M587.7 866.9h4M823.8 866.5h4M592.1 871.1h4M819.9 871.8h4M596.3 874.5h4M816.0 875.3h4M204.4 878.9h4M811.4 880.4h4M606.8 883.6h4M613.1 884.2h4M875.9 883.4h4M615.4 886.3h4M623.5 887.8h4M628.9 891.7h4M630.7 892.0h4M636.0 891.7h4M640.9 892.1h4M644.2 894.8h4M652.4 895.4h4M656.1 894.6h4M659.8 894.8h4M664.1 898.7h4M668.2 899.0h4M671.7 899.6h4M676.2 899.7h4M684.5 899.5h4M788.1 898.7h4M792.7 898.1h4M220.0 903.1h4M784.6 903.1h4M224.4 906.8h4M239.4 906.4h4M243.6 907.2h4M248.6 907.4h4M252.1 907.3h4M267.4 911.0h4M271.9 911.1h4M883.5 911.5h4M316.2 915.6h4M319.9 914.5h4M331.7 914.8h4M884.4 915.3h4M356.6 919.2h4M883.7 919.0h4M376.7 922.7h4M380.1 923.1h4M383.8 923.4h4M884.4 923.5h4M396.7 928.5h4M408.0 926.9h4M411.0 925.8h4M883.7 927.1h4M432.5 931.2h4M436.0 931.5h4M439.4 930.0h4M884.5 931.4h4M461.4 936.0h4M468.2 936.6h4M484.9 938.6h4M489.2 937.4h4M492.1 940.0h4M499.9 943.5h4M884.2 943.4h4M523.5 945.9h4M527.5 947.0h4M531.7 946.6h4M547.7 950.4h4M551.9 950.6h4M556.4 951.1h4M568.3 955.4h4M592.7 954.1h4M596.4 955.5h4M600.0 955.3h4M612.6 958.6h4M616.3 958.5h4M620.3 958.6h4M624.2 959.1h4M628.3 958.3h4M631.8 958.3h4M635.7 958.6h4M639.6 958.9h4M880.3 958.6h4M752.0 963.1h4M759.8 963.2h4M763.9 963.3h4M767.7 962.9h4M772.0 963.6h4M795.4 966.7h4M876.1 967.4h4M817.0 979.7h4M823.5 982.2h4M862.6 981.7h4M828.9 986.4h4M856.4 986.3h4M843.8 990.7h4M848.1 990.9h4"/>
<path stroke="#416cfe" d="M227.7 814.0h4M231.5 814.9h4M236.1 814.0h4M239.6 814.5h4M248.1 815.5h4M251.6 815.3h4M255.9 815.2h4M259.2 815.7h4M267.2 815.2h4M271.8 815.3h4M274.9 816.2h4M285.2 815.0h4M295.5 816.1h4M299.2 814.1h4M304.3 814.5h4M308.1 814.5h4M225.2 818.9h4M316.5 819.0h4M340.4 818.6h4M363.7 823.2h4M368.6 823.5h4M371.2 823.2h4M376.9 823.7h4M393.1 826.8h4M397.1 828.1h4M400.1 828.1h4M415.9 830.6h4M420.6 831.7h4M423.2 830.4h4M427.8 830.1h4M453.3 834.6h4M477.2 840.4h4M496.6 842.7h4M503.4 842.1h4M508.0 842.6h4M528.6 846.6h4M532.6 847.5h4M540.8 848.2h4M547.4 850.6h4M551.2 851.3h4M835.7 864.1h4M839.4 862.2h4M844.2 863.2h4M848.2 862.9h4M828.2 867.4h4M831.9 866.8h4M824.2 871.0h4M868.4 874.1h4M600.1 880.1h4M816.4 878.6h4M871.4 877.6h4M604.6 883.8h4M813.4 882.9h4M807.0 887.2h4M876.0 887.0h4M619.9 891.2h4M624.5 891.1h4M651.9 899.0h4M655.7 898.7h4M659.9 898.9h4M796.0 899.1h4M880.1 898.7h4M235.5 902.6h4M239.8 903.0h4M243.8 903.0h4M675.9 902.6h4M739.8 903.1h4M788.6 903.1h4M791.5 902.9h4M879.9 902.4h4M264.1 907.0h4M268.1 906.9h4M308.1 911.1h4M315.8 910.7h4M319.5 910.6h4M324.5 910.9h4M335.7 914.7h4M365.1 920.1h4M372.2 919.7h4M375.6 919.1h4M393.0 923.1h4M400.3 924.0h4M404.3 922.2h4M418.8 926.1h4M423.5 927.2h4M427.6 926.7h4M451.0 931.8h4M454.8 932.1h4M472.1 934.7h4M479.1 935.5h4M483.9 935.4h4M498.8 938.0h4M508.2 939.8h4M516.4 943.5h4M519.8 942.9h4M539.9 947.5h4M543.5 947.4h4M548.4 947.5h4M568.1 951.2h4M571.8 951.4h4M580.7 952.3h4M582.7 951.3h4M591.5 951.2h4M604.0 954.8h4M623.7 955.3h4M628.3 954.8h4M683.8 959.2h4M687.9 959.4h4M691.8 958.9h4M695.9 958.7h4M700.1 958.2h4M704.5 958.9h4M724.0 959.1h4M728.2 959.4h4M732.4 959.0h4M735.6 958.5h4M740.4 958.4h4M743.4 959.1h4M747.5 958.6h4M795.7 962.5h4M875.9 962.6h4M802.9 966.8h4M813.2 971.1h4M868.6 974.9h4M819.6 980.2h4M828.0 982.4h4M860.6 984.2h4M848.4 987.4h4M852.1 987.4h4"/>
<path stroke="#3a74fe" d="M232.0 818.1h4M236.1 818.7h4M248.2 818.8h4M252.1 819.0h4M263.3 819.2h4M272.6 819.5h4M276.1 818.4h4M280.1 818.2h4M284.2 818.4h4M287.8 819.8h4M295.9 818.5h4M300.5 818.7h4M304.4 818.7h4M312.3 819.5h4M223.5 822.5h4M367.6 827.2h4M376.0 826.8h4M379.4 825.9h4M384.2 827.5h4M387.6 826.0h4M399.9 831.4h4M403.5 830.8h4M408.4 831.4h4M411.6 831.4h4M423.4 835.5h4M427.8 834.1h4M431.0 834.4h4M435.1 835.8h4M447.5 839.9h4M451.0 839.0h4M455.0 839.4h4M476.8 842.8h4M480.3 843.2h4M507.5 847.2h4M512.3 847.0h4M516.0 847.3h4M520.3 846.8h4M523.7 847.0h4M536.5 850.6h4M539.6 851.7h4M823.6 874.9h4M596.0 879.4h4M868.1 878.8h4M600.0 882.6h4M603.5 887.1h4M607.4 886.8h4M615.4 890.6h4M807.2 891.0h4M628.3 894.6h4M804.1 894.6h4M668.2 902.8h4M671.5 902.8h4M784.1 906.9h4M787.4 907.1h4M792.0 906.5h4M880.2 906.7h4M328.1 910.9h4M360.2 915.3h4M363.5 915.4h4M368.3 915.0h4M388.4 919.2h4M391.2 919.1h4M395.4 919.9h4M408.3 922.9h4M411.9 922.9h4M420.1 923.1h4M444.1 927.4h4M451.3 927.4h4M463.2 930.9h4M472.9 931.8h4M488.7 934.7h4M492.2 935.2h4M495.2 935.8h4M512.6 939.2h4M540.2 942.7h4M543.9 942.6h4M572.3 947.1h4M576.0 947.1h4M584.6 947.2h4M596.1 950.6h4M875.7 955.1h4M876.1 958.8h4M809.1 968.3h4M819.6 975.7h4M823.6 978.0h4M860.4 978.5h4M855.4 982.3h4"/>
<path stroke="#327cfc" d="M227.8 822.3h4M231.7 823.0h4M267.8 822.6h4M284.2 822.9h4M287.8 823.1h4M291.7 822.8h4M223.9 827.2h4M376.4 831.6h4M380.2 831.6h4M383.1 831.6h4M393.0 832.4h4M416.1 834.7h4M435.6 840.1h4M440.7 839.8h4M443.2 838.0h4M463.8 844.2h4M468.1 842.5h4M503.4 847.4h4M531.6 851.2h4M868.5 883.8h4M872.1 886.8h4M812.6 891.6h4M615.8 894.7h4M620.1 895.0h4M236.4 898.5h4M239.4 898.9h4M635.7 899.3h4M803.5 898.5h4M655.8 903.2h4M800.1 902.6h4M740.1 907.3h4M743.9 907.1h4M795.5 907.3h4M363.8 911.3h4M399.8 919.4h4M408.0 918.8h4M462.9 925.7h4M479.8 930.8h4M483.8 931.2h4M487.4 931.1h4M586.9 947.2h4M592.0 947.0h4M691.7 954.7h4M695.8 954.5h4M700.5 954.5h4M703.7 955.2h4M740.1 955.0h4M744.4 954.6h4M748.0 955.3h4M804.5 959.2h4M812.7 967.6h4M815.2 971.0h4M864.4 974.7h4M827.8 979.3h4"/>
<path stroke="#2e84f9" d="M252.0 822.7h4M256.3 823.5h4M260.5 822.8h4M264.0 823.2h4M372.2 830.6h4M391.7 834.2h4M395.7 834.7h4M399.7 835.3h4M420.3 838.9h4M424.5 839.2h4M427.9 839.5h4M432.6 838.6h4M444.4 843.9h4M455.9 844.2h4M471.8 846.4h4M475.6 847.1h4M824.2 879.3h4M864.2 878.7h4M239.6 895.7h4M812.2 895.2h4M367.3 910.8h4M739.8 910.5h4M744.1 911.6h4M747.9 910.6h4M388.2 914.9h4M396.5 915.2h4M399.9 915.1h4M451.8 922.9h4M456.0 922.9h4M467.8 926.7h4M476.3 926.9h4M491.6 931.5h4M496.6 931.0h4M499.9 932.2h4M503.1 931.4h4M544.0 938.7h4M612.4 946.7h4M616.2 947.2h4M807.8 958.5h4M811.0 963.4h4M820.0 970.6h4M827.9 975.3h4M860.4 974.9h4"/>
<path stroke="#2d8bf4" d="M287.7 826.7h4M292.1 826.8h4M376.2 834.4h4M384.7 834.8h4M428.5 842.8h4M431.7 843.4h4M435.8 842.5h4M440.6 843.7h4M456.4 846.7h4M467.4 846.5h4M219.9 862.8h4M823.4 883.7h4M864.1 883.1h4M819.9 887.6h4M868.0 887.3h4M235.8 891.3h4M239.6 890.7h4M816.2 890.9h4M340.2 903.0h4M343.9 903.1h4M363.8 907.3h4M367.9 906.7h4M744.1 914.8h4M460.2 923.4h4M464.6 923.0h4M468.2 923.1h4M508.2 929.6h4M583.5 943.2h4M587.4 942.7h4M592.1 943.3h4M692.0 951.4h4M695.5 951.5h4M808.3 954.6h4M811.9 959.1h4M816.2 962.7h4"/>
<path stroke="#2b92ee" d="M392.4 838.7h4M396.0 839.1h4M448.2 846.8h4M452.1 847.0h4M223.5 863.3h4M224.0 871.2h4M816.2 895.1h4M747.8 919.3h4M499.8 927.0h4M503.5 926.5h4M508.4 926.5h4M595.7 942.7h4M608.0 943.1h4M611.9 943.3h4M691.7 947.3h4M695.9 946.7h4M700.2 947.0h4"/>
<path stroke="#2699e9" d="M291.6 830.6h4M432.1 847.4h4M227.5 862.9h4M227.3 867.1h4M227.5 871.4h4M828.1 883.0h4M823.0 886.3h4M820.7 891.9h4M339.9 899.0h4M747.9 938.7h4M752.5 939.0h4M691.5 943.5h4M699.8 943.0h4M751.8 943.0h4M812.1 954.7h4M815.8 959.1h4"/>
<path stroke="#249fe5" d="M231.7 863.0h4M232.1 866.6h4M231.8 871.0h4M823.5 891.7h4M820.4 894.6h4M344.5 899.0h4M347.8 899.4h4M692.2 923.0h4M695.7 923.3h4M700.2 926.9h4M696.5 930.8h4M700.4 930.9h4M692.5 934.6h4M696.4 935.6h4M700.1 934.6h4M611.8 939.4h4M692.3 939.0h4M696.6 939.2h4M700.3 938.8h4"/>
<path stroke="#1fa5e2" d="M388.7 843.1h4M391.4 843.3h4M827.6 886.4h4M324.3 894.8h4"/>
<path stroke="#13b0d7" d="M251.8 847.2h4M255.9 847.5h4M251.8 850.8h4M824.2 895.1h4"/>
<path stroke="#07b5cf" d="M388.3 846.8h4M827.9 890.6h4M359.8 894.8h4"/>
<path stroke="#09bdbe" d="M576.2 898.7h4"/>
<path stroke="#1bc0b4" d="M360.1 890.8h4M567.9 894.8h4M572.2 895.1h4M567.8 899.2h4M572.5 898.7h4M567.7 902.8h4M572.1 902.9h4M576.3 902.9h4"/></g>
<g stroke-width="4" fill="none" shape-rendering="crispEdges"><path stroke="#484df0" d="M1522 859h8M1590 871h4M1274 963h4M1274 967h4M1278 971h4M1282 975h4M1286 979h4M1290 983h4M1394 999h8M1726 999h16M1754 999h8M1854 1003h8"/>
<path stroke="#4854f6" d="M1386 855h4M1326 859h12M1322 863h12M1522 863h8M1278 895h8M1274 899h8M1770 923h4M1818 927h8M1850 927h16M1818 931h12M1846 931h20M1270 943h4M1274 955h4M1274 959h4M1278 963h4M1278 967h4M1282 971h8M1286 975h8M1290 979h8M1294 983h4M1310 995h8M1382 995h20M1714 995h28M1754 995h12M1818 995h4M1314 999h28M1386 999h8M1850 999h16M1322 1003h8"/>
<path stroke="#475cfa" d="M1382 859h16M1462 859h4M1334 863h8M1470 863h4M1322 867h20M1522 867h8M1322 871h4M1546 871h8M1582 875h8M1586 879h4M1302 883h4M1294 887h8M1294 891h4M1290 895h4M1282 899h8M1278 903h8M1278 907h4M1278 911h4M1718 919h4M1770 927h4M1810 931h8M1866 931h4M1274 935h4M1822 935h24M1850 935h24M1270 939h8M1274 947h8M1274 951h8M1278 955h8M1278 959h8M1294 975h8M1298 979h4M1310 987h4M1314 991h8M1382 991h20M1434 991h8M1690 991h12M1710 991h28M1754 991h16M1794 991h4M1802 991h4M1810 991h16M1318 995h28M1846 995h24M1866 999h4"/>
<path stroke="#4564fd" d="M1386 863h28M1450 863h20M1474 867h16M1326 871h16M1322 875h8M1542 875h12M1566 879h4M1574 879h12M1306 883h8M1302 887h8M1298 891h8M1294 895h8M1290 899h4M1646 899h12M1286 903h8M1658 903h4M1282 907h8M1282 911h8M1722 923h4M1282 927h4M1278 931h8M1754 931h24M1278 935h8M1782 935h4M1802 935h20M1278 939h8M1822 939h40M1866 939h12M1282 943h4M1282 947h4M1282 951h8M1286 955h4M1314 983h4M1314 987h8M1382 987h12M1434 987h8M1682 987h20M1706 987h20M1754 987h52M1322 991h24M1586 991h8M1630 991h12M1842 991h16M1870 995h4M1882 1007h4M1894 1019h4"/>
<path stroke="#416cfe" d="M1386 867h36M1430 867h44M1474 871h20M1330 875h8M1342 875h12M1326 879h8M1538 879h24M1566 883h24M1310 887h8M1590 887h4M1306 891h8M1610 891h4M1302 895h4M1298 899h4M1642 899h4M1294 903h8M1646 903h4M1654 903h4M1290 907h8M1658 907h8M1290 911h4M1286 915h8M1286 919h8M1286 923h8M1706 923h16M1286 927h4M1722 927h8M1286 931h4M1286 935h4M1762 935h20M1886 935h4M1286 939h8M1782 939h4M1790 939h28M1878 939h8M1286 943h8M1818 943h60M1286 947h8M1290 951h8M1290 955h8M1958 963h4M1958 967h4M1314 975h4M1318 979h4M1318 983h4M1326 983h8M1382 983h16M1438 983h4M1326 987h16M1606 987h52M1726 987h12M1806 987h24M1842 987h12M1582 991h4M1858 991h16M1878 999h4M1882 1003h4M1886 1007h4"/>
<path stroke="#3a74fe" d="M1382 871h16M1406 871h48M1458 871h16M1358 875h12M1378 875h8M1478 875h16M1334 879h24M1530 879h8M1322 883h12M1542 883h24M1318 887h4M1570 887h20M1314 891h4M1594 891h4M1606 891h4M1306 895h4M1302 899h8M1302 903h4M1642 903h4M1298 907h8M1646 907h12M1294 911h8M1658 911h8M1294 915h8M1666 915h4M1294 919h4M1294 923h4M1290 927h8M1706 927h16M1290 931h8M1726 931h8M1898 931h4M1290 935h8M1742 935h16M1890 935h4M1294 939h4M1754 939h28M1886 939h4M1294 943h8M1778 943h40M1882 943h4M1294 947h8M1810 947h72M1298 951h4M1298 955h8M1310 971h8M1958 971h4M1318 975h8M1958 975h4M1322 979h20M1354 979h8M1382 979h16M1406 979h16M1430 979h12M1958 979h4M1334 983h8M1622 983h36M1662 983h4M1678 983h24M1706 983h32M1750 983h80M1842 983h8M1554 987h4M1578 987h16M1598 987h8M1854 987h16M1882 999h4M1886 1003h4M1890 1011h4M1894 1015h4M1898 1019h4"/>
<path stroke="#327cfc" d="M1386 875h8M1402 875h76M1362 879h12M1378 879h8M1482 879h24M1334 883h24M1526 883h16M1326 887h12M1546 887h24M1318 891h4M1326 891h4M1570 891h8M1582 891h12M1594 895h16M1314 899h4M1306 903h8M1306 907h8M1638 907h8M1302 911h8M1650 911h8M1302 915h8M1658 915h8M1298 919h8M1670 919h4M1298 923h8M1298 927h8M1298 931h8M1706 931h20M1902 931h4M1302 935h4M1722 935h20M1894 935h4M1298 939h8M1738 939h16M1890 939h4M1302 943h4M1750 943h28M1886 943h4M1302 947h8M1762 947h48M1882 947h4M1302 951h8M1790 951h20M1814 951h48M1866 951h16M1306 955h8M1814 955h4M1826 955h12M1842 955h12M1838 959h4M1310 963h8M1954 963h4M1314 967h8M1318 971h12M1326 975h44M1374 975h24M1402 975h16M1422 975h8M1786 975h20M1810 975h36M1710 979h8M1722 979h20M1746 979h108M1522 983h4M1574 983h48M1850 983h20M1870 987h8M1882 995h4M1886 999h4M1890 1007h4M1894 1011h4M1946 1011h4M1898 1015h4M1902 1019h4M1942 1019h4M1906 1023h4M1914 1027h20"/>
<path stroke="#2e84f9" d="M1386 879h12M1402 879h80M1358 883h16M1378 883h4M1490 883h28M1338 887h20M1522 887h24M1330 891h12M1550 891h16M1322 895h8M1574 895h20M1318 899h8M1598 899h16M1314 903h8M1314 907h4M1630 907h8M1310 911h8M1642 911h8M1310 915h4M1650 915h4M1306 919h8M1662 919h8M1306 923h4M1670 923h8M1306 927h8M1682 927h4M1306 931h8M1690 931h4M1306 935h8M1706 935h16M1898 935h4M1306 939h8M1718 939h20M1894 939h4M1306 943h8M1734 943h16M1890 943h4M1310 947h4M1742 947h20M1886 947h4M1310 951h8M1754 951h36M1882 951h4M1762 955h32M1798 955h12M1858 955h28M1314 959h8M1762 959h36M1802 959h16M1842 959h8M1858 959h24M1318 963h8M1762 963h36M1806 963h12M1850 963h24M1322 967h12M1762 967h40M1806 967h12M1846 967h20M1954 967h4M1330 971h60M1754 971h8M1766 971h36M1806 971h20M1846 971h20M1954 971h4M1430 975h20M1458 975h8M1738 975h48M1846 975h24M1954 975h4M1494 979h4M1594 979h44M1642 979h32M1678 979h24M1706 979h4M1854 979h12M1870 979h8M1954 979h4M1546 983h16M1870 983h12M1954 983h4M1886 995h4M1890 1003h4M1894 1007h4M1942 1015h4M1906 1019h4M1938 1019h4M1910 1023h4M1930 1023h8"/>
<path stroke="#2d8bf4" d="M1382 883h48M1434 883h56M1358 887h12M1494 887h20M1518 887h4M1342 891h16M1530 891h20M1330 895h12M1558 895h8M1570 895h4M1330 899h4M1578 899h4M1586 899h12M1322 903h8M1606 903h12M1318 907h8M1622 907h8M1318 911h4M1634 911h8M1314 915h8M1642 915h8M1314 919h8M1654 919h8M1314 923h4M1662 923h8M1314 927h4M1674 927h8M1314 931h4M1682 931h8M1314 935h4M1690 935h4M1702 935h4M1902 935h8M1934 935h4M1314 939h4M1702 939h16M1898 939h4M1314 943h8M1714 943h20M1894 943h4M1942 943h4M1314 947h8M1726 947h16M1890 947h4M1946 947h4M1318 951h4M1730 951h24M1886 951h4M1318 955h8M1734 955h16M1886 955h4M1322 959h8M1738 959h4M1758 959h4M1882 959h4M1950 959h4M1326 963h8M1758 963h4M1874 963h12M1334 967h28M1758 967h4M1866 967h20M1390 971h4M1402 971h64M1714 971h8M1742 971h12M1866 971h20M1482 975h20M1678 975h24M1706 975h16M1870 975h4M1878 975h8M1514 979h16M1542 979h24M1570 979h24M1878 979h8M1886 991h4M1890 999h4M1946 1007h4M1898 1011h4M1942 1011h4M1902 1015h4M1934 1019h4M1914 1023h8M1926 1023h4"/>
<path stroke="#2b92ee" d="M1378 887h16M1474 887h20M1358 891h8M1502 891h4M1510 891h20M1342 895h4M1534 895h24M1334 899h12M1562 899h16M1330 903h8M1590 903h16M1326 907h8M1614 907h8M1322 911h8M1626 911h8M1322 915h8M1322 919h4M1646 919h8M1318 923h8M1654 923h8M1318 927h8M1666 927h8M1318 931h8M1674 931h8M1318 935h8M1678 935h12M1910 935h4M1930 935h4M1318 939h8M1686 939h16M1902 939h4M1322 943h4M1690 943h24M1898 943h4M1322 947h8M1702 947h20M1894 947h4M1322 951h8M1706 951h4M1726 951h4M1890 951h4M1946 951h4M1326 955h8M1722 955h8M1330 959h12M1710 959h4M1730 959h8M1886 959h4M1334 963h24M1714 963h4M1886 963h4M1950 963h4M1362 967h28M1398 967h16M1702 967h20M1466 971h12M1482 971h4M1682 971h16M1702 971h12M1502 975h24M1638 975h12M1654 975h24M1886 983h4M1890 995h4M1894 1003h4M1946 1003h4M1898 1007h4M1902 1011h4M1906 1015h4M1938 1015h4M1910 1019h4M1922 1023h4"/>
<path stroke="#2699e9" d="M1394 887h4M1402 887h72M1378 891h12M1486 891h16M1518 895h16M1346 899h8M1554 899h8M1338 903h12M1574 903h16M1334 907h12M1598 907h16M1334 911h4M1618 911h8M1330 915h8M1630 915h8M1326 919h8M1638 919h8M1326 923h8M1646 923h8M1326 927h4M1658 927h8M1326 931h8M1666 931h8M1326 935h8M1670 935h8M1914 935h16M1326 939h8M1678 939h8M1906 939h4M1934 939h4M1326 943h8M1682 943h8M1902 943h4M1938 943h4M1330 947h8M1686 947h16M1942 947h4M1330 951h8M1686 951h20M1894 951h4M1334 955h12M1690 955h20M1890 955h4M1946 955h4M1342 959h20M1690 959h20M1890 959h4M1358 963h32M1686 963h24M1414 967h52M1682 967h20M1886 967h4M1950 967h4M1486 971h16M1666 971h16M1886 971h4M1526 975h4M1574 975h64M1886 975h4M1886 979h4M1890 987h4M1890 991h4M1950 991h4M1898 1003h4M1914 1019h4"/>
<path stroke="#249fe5" d="M1390 891h8M1402 891h84M1382 895h8M1498 895h20M1530 899h16M1354 903h8M1558 903h16M1346 907h12M1582 907h16M1342 911h8M1606 911h12M1338 915h8M1622 915h8M1334 919h12M1630 919h8M1334 923h8M1638 923h8M1334 927h8M1654 927h4M1334 931h8M1654 931h12M1334 935h4M1662 935h8M1334 939h8M1670 939h8M1910 939h4M1338 943h8M1674 943h8M1338 947h8M1674 947h12M1898 947h4M1338 951h16M1678 951h8M1346 955h16M1682 955h8M1894 955h4M1362 959h20M1682 959h8M1390 963h4M1398 963h20M1674 963h12M1890 963h4M1466 967h12M1666 967h12M1890 967h4M1502 971h8M1642 971h24M1950 971h4M1542 975h32M1890 979h4M1890 983h4M1894 995h4M1902 1007h4M1910 1015h4M1930 1019h4"/>
<path stroke="#1fa5e2" d="M1390 895h44M1474 895h12M1490 895h4M1378 899h12M1510 899h20M1542 903h4M1554 903h4M1358 907h8M1570 907h12M1350 911h12M1590 911h16M1346 915h12M1610 915h12M1346 919h8M1622 919h8M1342 923h12M1634 923h4M1342 927h12M1642 927h8M1342 931h12M1646 931h8M1346 935h8M1654 935h8M1342 939h12M1658 939h12M1914 939h4M1930 939h4M1346 943h8M1662 943h12M1906 943h4M1346 947h12M1666 947h8M1902 947h4M1354 951h12M1666 951h12M1898 951h4M1942 951h4M1362 955h16M1666 955h8M1382 959h20M1666 959h8M1894 959h4M1946 959h4M1426 963h24M1662 963h4M1670 963h4M1478 967h12M1650 967h16M1514 971h8M1606 971h16M1626 971h16M1890 971h4M1890 975h4M1950 975h4M1950 979h4M1950 983h4M1950 987h4M1894 991h4M1946 999h4M1942 1007h4M1906 1011h4M1918 1019h4"/>
<path stroke="#1aabdd" d="M1434 895h40M1390 899h32M1486 899h20M1378 903h12M1526 903h16M1374 907h8M1558 907h12M1362 911h8M1578 911h12M1358 915h12M1598 915h12M1354 919h12M1614 919h8M1354 923h12M1626 923h8M1354 927h8M1634 927h8M1354 931h8M1638 931h8M1354 935h8M1646 935h8M1354 939h12M1650 939h8M1918 939h4M1926 939h4M1354 943h12M1654 943h8M1910 943h4M1934 943h4M1358 947h16M1658 947h8M1938 947h4M1366 951h16M1658 951h8M1378 955h16M1658 955h8M1898 955h4M1402 959h16M1658 959h8M1450 963h20M1650 963h12M1894 963h4M1490 967h12M1634 967h16M1894 967h4M1522 971h8M1582 971h24M1898 999h4M1938 1011h4M1934 1015h4M1922 1019h8"/>
<path stroke="#13b0d7" d="M1422 899h64M1390 903h28M1502 903h24M1382 907h12M1538 907h8M1374 911h12M1562 911h16M1374 915h8M1582 915h16M1366 919h12M1602 919h12M1366 923h8M1618 923h8M1362 927h12M1626 927h8M1362 931h12M1630 931h8M1362 935h12M1638 935h8M1366 939h8M1642 939h8M1922 939h4M1366 943h12M1646 943h8M1374 947h12M1646 947h12M1906 947h4M1382 951h12M1646 951h12M1902 951h4M1394 955h24M1646 955h12M1426 959h24M1646 959h12M1470 963h12M1638 963h12M1946 963h4M1502 967h8M1610 967h24M1550 971h32M1894 971h4M1894 987h4M1914 1015h4"/>
<path stroke="#07b5cf" d="M1418 903h44M1466 903h36M1394 907h28M1514 907h24M1386 911h12M1550 911h12M1382 915h8M1570 915h12M1378 919h8M1590 919h12M1374 923h12M1602 923h16M1374 927h12M1614 927h12M1374 931h12M1622 931h8M1374 935h12M1626 935h12M1374 939h12M1634 939h8M1378 943h12M1634 943h12M1386 947h12M1638 947h8M1394 951h20M1638 951h8M1426 955h12M1638 955h8M1942 955h4M1450 959h20M1634 959h12M1898 959h4M1482 963h12M1622 963h16M1510 967h12M1594 967h16M1542 971h8M1894 975h4M1894 979h4M1894 983h4M1898 995h4M1902 1003h4M1942 1003h4"/>
<path stroke="#01b9c7" d="M1462 903h4M1422 907h36M1478 907h36M1398 911h28M1530 911h20M1390 915h20M1558 915h12M1386 919h16M1574 919h16M1386 923h12M1590 923h12M1386 927h8M1602 927h12M1386 931h8M1614 931h8M1386 935h8M1618 935h8M1386 939h12M1622 939h12M1390 943h16M1626 943h8M1914 943h4M1930 943h4M1398 947h16M1626 947h12M1414 951h4M1422 951h8M1626 951h12M1438 955h16M1626 955h12M1902 955h4M1470 959h4M1622 959h12M1494 963h8M1606 963h16M1898 963h4M1522 967h8M1574 967h20M1946 967h4M1906 1007h4M1910 1011h4M1930 1015h4"/>
<path stroke="#09bdbe" d="M1458 907h20M1426 911h32M1490 911h40M1410 915h28M1546 915h12M1402 919h20M1562 919h12M1398 923h20M1578 923h12M1394 927h20M1590 927h12M1394 931h20M1602 931h12M1394 935h20M1606 935h12M1398 939h16M1614 939h8M1406 943h16M1614 943h12M1918 943h4M1926 943h4M1414 947h16M1618 947h8M1910 947h4M1934 947h4M1430 951h16M1618 951h8M1906 951h4M1938 951h4M1454 955h16M1618 955h8M1478 959h12M1610 959h12M1502 963h12M1594 963h12M1554 967h20M1946 971h4M1898 991h4M1946 991h4M1938 1007h4M1934 1011h4M1918 1015h4"/>
<path stroke="#1bc0b4" d="M1458 911h28M1438 915h28M1498 915h48M1426 919h20M1550 919h12M1422 923h16M1566 923h12M1414 927h20M1578 927h12M1414 931h16M1590 931h12M1414 935h16M1594 935h12M1414 939h20M1606 939h8M1422 943h16M1606 943h8M1922 943h4M1430 947h20M1606 947h12M1446 951h20M1606 951h12M1470 955h12M1606 955h12M1490 959h12M1598 959h12M1942 959h4M1514 963h8M1578 963h16M1542 967h12M1898 967h4M1946 975h4M1946 987h4M1902 999h4M1942 999h4M1922 1015h8"/>
<path stroke="#28c3ab" d="M1466 915h32M1446 919h104M1438 923h24M1554 923h12M1434 927h20M1566 927h12M1430 931h20M1578 931h8M1430 935h20M1582 935h12M1434 939h16M1590 939h12M1438 943h16M1594 943h12M1450 947h16M1594 947h12M1466 951h12M1594 951h12M1482 955h12M1594 955h12M1502 959h8M1582 959h16M1902 959h4M1522 963h8M1562 963h16M1898 971h4M1946 979h4M1946 983h4M1898 987h4M1914 1011h4"/>
<path stroke="#31c5a1" d="M1462 923h92M1454 927h28M1554 927h12M1450 931h24M1562 931h16M1450 935h20M1570 935h12M1450 939h20M1578 939h12M1454 943h20M1582 943h12M1466 947h12M1582 947h12M1914 947h4M1930 947h4M1478 951h12M1582 951h12M1494 955h8M1582 955h12M1906 955h4M1938 955h4M1510 959h12M1570 959h12M1550 963h12M1942 963h4M1898 975h4M1898 979h4M1898 983h4M1906 1003h4M1910 1007h4"/>
<path stroke="#39c895" d="M1482 927h72M1474 931h32M1550 931h12M1470 935h24M1558 935h12M1470 939h24M1566 939h12M1474 943h20M1570 943h12M1478 947h16M1570 947h12M1918 947h4M1490 951h12M1570 951h12M1910 951h4M1934 951h4M1502 955h12M1570 955h12M1522 959h8M1558 959h12M1542 963h8M1902 963h4M1902 995h4M1942 995h4M1938 1003h4M1930 1011h4"/>
<path stroke="#45cb89" d="M1506 931h44M1494 935h32M1546 935h12M1494 939h24M1554 939h12M1494 943h20M1558 943h12M1494 947h20M1558 947h12M1922 947h8M1502 951h16M1558 951h12M1514 955h16M1558 955h12M1530 959h12M1546 959h12M1942 967h4M1934 1007h4M1918 1011h4"/>
<path stroke="#55cc7b" d="M1526 935h20M1518 939h36M1514 943h24M1546 943h12M1514 947h24M1546 947h12M1518 951h20M1546 951h12M1530 955h12M1546 955h12M1542 959h4M1906 959h4M1938 959h4M1902 967h4M1902 991h4M1942 991h4M1906 999h4M1926 1011h4"/>
<path stroke="#67cd6d" d="M1538 943h8M1538 947h8M1538 951h8M1914 951h4M1930 951h4M1910 955h4M1934 955h4M1902 971h4M1942 971h4M1938 999h4M1914 1007h4M1922 1011h4"/>
<path stroke="#7acc5e" d="M1902 975h4M1942 975h4M1942 979h4M1942 983h4M1902 987h4M1942 987h4M1910 1003h4M1930 1007h4"/>
<path stroke="#8ecb4f" d="M1918 951h4M1926 951h4M1906 963h4M1938 963h4M1902 979h4M1902 983h4M1906 995h4M1934 1003h4"/>
<path stroke="#a1c840" d="M1922 951h4M1938 995h4M1918 1007h4"/>
<path stroke="#b3c534" d="M1914 955h4M1930 955h4M1910 959h4M1934 959h4M1906 967h4M1938 967h4M1910 999h4M1914 1003h4M1922 1007h8"/>
<path stroke="#c4c22b" d="M1906 991h4M1938 991h4M1934 999h4M1930 1003h4"/>
<path stroke="#d4bf28" d="M1918 955h4M1926 955h4M1906 971h4M1938 971h4M1906 987h4"/>
<path stroke="#e2bc2b" d="M1922 955h4M1914 959h4M1930 959h4M1910 963h4M1934 963h4M1906 975h4M1938 975h4M1906 979h4M1938 979h4M1906 983h4M1938 983h4M1938 987h4M1910 995h4M1918 1003h4"/>
<path stroke="#efba35" d="M1934 995h4M1914 999h4M1926 1003h4"/>
<path stroke="#fabb3d" d="M1918 959h4M1910 967h4M1934 967h4M1930 999h4M1922 1003h4"/>
<path stroke="#fec13a" d="M1926 959h4M1914 963h4M1930 963h4M1910 971h4M1934 971h4M1910 991h4M1934 991h4"/>
<path stroke="#fec934" d="M1922 959h4M1910 975h4M1934 975h4M1910 987h4M1934 987h4M1914 995h4M1930 995h4M1918 999h4M1926 999h4"/>
<path stroke="#fbd12f" d="M1918 963h4M1926 963h4M1914 967h4M1930 967h4M1910 979h4M1934 979h4M1910 983h4M1934 983h4M1922 999h4"/>
<path stroke="#f8da2b" d="M1922 963h4M1914 991h4M1930 991h4M1918 995h4M1926 995h4"/>
<path stroke="#f5e327" d="M1918 967h4M1926 967h4M1914 971h4M1930 971h4M1930 975h4M1914 987h4M1930 987h4M1922 995h4"/>
<path stroke="#f5eb23" d="M1922 967h4M1918 971h4M1926 971h4M1914 975h4M1914 979h4M1930 979h4M1914 983h4M1930 983h4M1918 991h4M1926 991h4"/>
<path stroke="#f7f31d" d="M1922 971h4M1918 975h4M1926 975h4M1918 979h4M1926 979h4M1918 983h4M1926 983h4M1918 987h4M1926 987h4M1922 991h4"/>
<path stroke="#f9fb15" d="M1922 975h4M1922 979h4M1922 983h4M1922 987h4"/></g>
<g stroke-width="4" fill="none"><path stroke="#402cb8" d="M1341.8 711.0h4M1395.4 716.3h4M1365.9 719.1h4M1782.2 719.4h4M1853.3 719.9h4M1405.9 723.6h4M1296.8 726.9h4M1361.5 726.9h4M1321.7 733.8h4M1341.4 736.0h4M1384.4 734.2h4M1304.8 740.7h4M1331.7 740.1h4M1371.6 739.8h4M1389.5 737.7h4M1459.4 739.6h4M1286.4 744.4h4M1300.9 743.1h4M1374.3 748.2h4M1352.6 750.8h4M1380.4 750.8h4M1422.3 751.9h4M1303.3 754.6h4M1340.9 754.8h4M1883.3 755.7h4M1345.6 759.8h4M1407.1 758.8h4M1417.1 757.8h4M1965.1 758.5h4M1286.8 762.4h4M1293.7 762.9h4M1298.3 767.4h4M1409.8 770.8h4M1287.0 779.9h4M1417.3 788.5h4M1233.9 789.5h4M1288.8 796.2h4M1457.0 796.2h4M1261.8 803.5h4M1459.6 802.7h4M1465.9 803.4h4M1683.0 801.5h4M1480.8 807.8h4M1525.6 814.6h4M1539.2 816.0h4M1567.3 816.7h4M1569.1 813.9h4M1597.7 819.7h4M1201.1 821.7h4M1257.5 822.8h4M1642.9 821.5h4M1672.3 822.5h4M1784.4 824.3h4M1231.6 827.8h4M1633.8 826.6h4M1658.7 830.2h4M1799.5 829.3h4M1878.0 829.6h4M1211.3 833.8h4M1251.2 836.2h4M1239.6 838.4h4M1656.6 838.5h4M1896.8 843.1h4M1729.0 848.2h4M1220.4 854.6h4M1705.9 854.8h4M1201.5 859.1h4M1777.2 857.5h4M1875.6 858.1h4M1886.5 858.6h4M1924.9 859.9h4M1957.3 859.9h4M1965.3 859.2h4M1758.7 863.6h4M1821.6 864.7h4M1946.0 863.8h4M1949.2 862.0h4M1186.0 866.0h4M1194.5 868.0h4M1785.0 867.0h4M1794.6 867.8h4M1799.7 867.2h4M1836.3 867.1h4M1889.9 866.9h4M1950.8 868.3h4M1960.9 866.7h4M1189.6 869.5h4M1789.7 871.5h4M1953.1 873.8h4M1201.2 878.1h4M1202.2 888.1h4M1189.0 890.3h4M1183.2 895.9h4M1189.7 894.5h4M1193.1 899.7h4M1181.4 903.9h4M1185.3 902.5h4M1190.8 931.6h4M1181.1 946.0h4M1186.9 957.5h4M1180.8 961.9h4M1190.7 980.4h4M1210.6 1005.4h4M1193.4 1014.0h4M1203.5 1015.2h4M1204.8 1018.9h4M1223.6 1023.6h4M1212.6 1029.9h4M1212.4 1034.9h4M1217.5 1038.0h4M1233.9 1042.5h4M1586.4 1043.6h4M1678.0 1044.1h4M1205.9 1046.2h4M1221.5 1047.4h4M1550.2 1046.6h4M1646.9 1048.0h4M1817.9 1046.4h4M1486.5 1051.3h4M1553.2 1049.7h4M1575.7 1049.9h4M1775.6 1049.7h4M1449.6 1054.8h4M1456.6 1055.0h4M1468.6 1056.2h4M1478.0 1056.2h4M1561.9 1054.9h4M1627.2 1055.2h4M1689.6 1055.7h4M1226.8 1057.4h4M1233.0 1057.6h4M1258.6 1060.1h4M1436.4 1059.5h4M1452.9 1060.6h4M1476.9 1058.5h4M1488.8 1060.4h4M1221.8 1061.4h4M1427.5 1063.8h4M1431.0 1062.2h4M1451.2 1063.0h4M1493.2 1063.9h4M1544.7 1063.0h4M1765.8 1063.1h4M1241.4 1066.1h4M1262.8 1066.1h4M1464.9 1065.8h4M1491.3 1066.8h4M1492.4 1068.1h4M1513.7 1067.6h4M1490.9 1069.8h4M1250.9 1076.0h4M1344.6 1074.5h4M1440.5 1074.6h4M1445.2 1074.4h4M1490.6 1075.1h4M1501.0 1074.5h4M1682.9 1074.5h4M1715.2 1074.9h4M1249.4 1078.6h4M1341.2 1078.4h4M1346.3 1079.2h4M1349.4 1079.5h4M1404.7 1080.7h4M1410.3 1078.5h4M1456.6 1079.5h4M1306.2 1081.7h4M1333.4 1084.1h4M1347.5 1082.0h4M1350.3 1083.2h4M1392.6 1082.9h4M1451.0 1084.5h4M1317.8 1085.9h4M1442.4 1088.4h4M1731.5 1086.0h4M1878.1 1088.2h4M1318.3 1090.6h4M1562.9 1090.8h4M1235.3 1093.4h4M1269.8 1093.3h4M1284.7 1095.0h4M1339.3 1095.3h4M1420.7 1094.2h4M1459.1 1095.9h4M1477.5 1095.7h4M1506.5 1094.1h4M1233.3 1100.3h4M1306.2 1099.6h4M1472.6 1098.3h4M1344.5 1103.4h4M1354.1 1103.4h4M1180.5 1106.8h4M1417.3 1107.5h4M1289.1 1110.2h4M1460.5 1112.4h4M1517.4 1112.5h4M1312.5 1116.0h4M1334.0 1115.2h4M1380.7 1114.4h4M1250.2 1122.1h4M1320.5 1122.4h4M1559.2 1124.2h4M1353.6 1125.8h4M1272.9 1131.2h4M1320.9 1132.5h4M1353.2 1142.6h4M1793.7 1141.4h4M1313.3 1147.4h4M1541.3 1145.9h4M1538.9 1152.5h4M1930.4 1150.1h4"/>
<path stroke="#4331c7" d="M1318.5 746.7h4M1396.4 749.3h4M1332.3 755.5h4M1382.5 753.4h4M1330.7 758.2h4M1334.3 758.5h4M1385.2 757.4h4M1304.9 761.4h4M1318.6 763.5h4M1382.5 764.6h4M1314.0 765.5h4M1380.8 765.6h4M1304.4 772.7h4M1308.8 772.2h4M1319.7 771.2h4M1369.6 770.8h4M1386.9 772.5h4M1308.6 776.2h4M1314.4 775.2h4M1380.5 776.1h4M1395.3 775.7h4M1317.2 778.5h4M1341.4 780.4h4M1377.1 780.5h4M1383.0 780.5h4M1310.1 784.7h4M1323.5 783.0h4M1326.8 784.3h4M1331.0 783.6h4M1340.5 782.0h4M1374.3 782.1h4M1378.7 783.9h4M1304.6 786.7h4M1314.5 786.2h4M1321.6 785.9h4M1324.4 786.8h4M1405.9 785.4h4M1302.6 792.2h4M1322.0 789.8h4M1327.5 789.4h4M1335.4 791.6h4M1409.7 790.6h4M1414.2 790.6h4M1306.9 796.3h4M1322.7 794.7h4M1334.0 795.6h4M1382.4 796.2h4M1401.5 796.0h4M1404.7 794.1h4M1413.2 794.6h4M1420.9 796.1h4M1318.1 797.9h4M1329.8 800.4h4M1339.5 797.6h4M1366.6 799.2h4M1369.2 799.5h4M1386.9 799.8h4M1396.6 797.7h4M1404.8 800.5h4M1303.2 804.4h4M1305.3 804.0h4M1379.3 804.2h4M1406.6 804.1h4M1297.3 805.8h4M1301.6 805.5h4M1331.4 806.6h4M1334.3 806.5h4M1342.2 805.5h4M1362.8 806.8h4M1369.4 805.9h4M1377.3 806.7h4M1385.5 806.9h4M1410.9 807.6h4M1294.5 811.2h4M1309.6 811.0h4M1313.0 812.3h4M1345.6 810.6h4M1353.4 809.8h4M1371.2 809.3h4M1374.9 810.3h4M1410.2 812.6h4M1434.6 812.7h4M1442.5 816.1h4M1447.0 813.8h4M1423.0 817.7h4M1430.9 817.7h4M1433.4 818.4h4M1438.0 820.4h4M1462.2 817.6h4M1273.1 822.9h4M1292.7 821.5h4M1300.9 821.9h4M1446.1 824.3h4M1457.9 821.8h4M1269.4 827.3h4M1281.4 826.6h4M1294.5 825.4h4M1298.3 826.7h4M1507.2 826.3h4M1291.1 831.1h4M1294.8 830.9h4M1504.9 831.9h4M1542.4 831.8h4M1585.1 830.0h4M1280.9 836.1h4M1289.8 835.9h4M1535.6 834.8h4M1557.7 834.3h4M1583.2 834.1h4M1585.9 836.3h4M1622.8 834.1h4M1277.7 837.8h4M1573.9 839.5h4M1619.0 839.8h4M1625.1 837.5h4M1274.0 843.3h4M1280.6 844.6h4M1641.3 843.8h4M1271.6 849.7h4M1629.5 850.4h4M1256.7 855.1h4M1643.3 853.4h4M1261.0 860.0h4M1679.0 860.3h4M1257.7 864.6h4M1668.7 863.7h4M1238.3 865.5h4M1240.9 865.9h4M1689.4 866.0h4M1702.3 865.9h4M1906.7 867.2h4M1924.9 868.3h4M1930.6 865.8h4M1236.9 871.7h4M1241.0 869.6h4M1247.7 869.4h4M1728.7 871.2h4M1223.5 874.8h4M1224.6 875.7h4M1238.8 873.4h4M1241.6 875.9h4M1247.7 875.8h4M1709.0 874.1h4M1846.8 874.8h4M1853.7 876.1h4M1890.4 875.3h4M1900.6 875.5h4M1215.2 877.7h4M1222.2 880.4h4M1233.8 878.9h4M1239.0 878.2h4M1733.4 877.5h4M1809.4 879.3h4M1829.3 880.5h4M1906.9 880.0h4M1934.4 879.1h4M1229.5 884.6h4M1233.0 881.6h4M1745.9 884.2h4M1778.2 883.7h4M1883.0 882.3h4M1943.5 883.2h4M1212.3 885.8h4M1221.0 886.1h4M1839.1 886.6h4M1860.5 887.1h4M1949.1 885.9h4M1224.8 891.1h4M1229.4 891.2h4M1800.4 890.0h4M1862.6 890.6h4M1206.0 895.8h4M1213.5 903.2h4M1214.6 908.2h4M1199.3 913.7h4M1201.6 916.1h4M1205.4 920.5h4M1203.7 923.1h4M1210.0 924.4h4M1212.9 922.5h4M1197.0 926.8h4M1206.8 928.1h4M1200.5 930.7h4M1193.6 934.2h4M1202.4 944.0h4M1197.9 948.3h4M1202.3 947.0h4M1205.1 945.8h4M1192.5 950.4h4M1207.5 951.6h4M1213.4 950.9h4M1210.9 955.0h4M1194.7 959.8h4M1198.6 958.5h4M1215.2 959.6h4M1198.9 964.6h4M1202.1 964.6h4M1214.8 966.5h4M1216.6 966.6h4M1202.7 971.4h4M1204.4 969.5h4M1216.6 970.8h4M1212.3 974.3h4M1222.6 973.9h4M1206.0 984.6h4M1229.4 988.5h4M1234.7 987.2h4M1215.1 990.1h4M1220.4 989.9h4M1230.6 990.5h4M1227.2 995.6h4M1237.5 1000.3h4M1217.6 1004.0h4M1247.6 1008.2h4M1257.8 1011.8h4M1223.1 1016.5h4M1237.9 1014.7h4M1249.1 1013.3h4M1255.4 1015.2h4M1220.8 1018.4h4M1260.9 1020.0h4M1228.8 1021.5h4M1243.5 1021.8h4M1275.2 1025.7h4M1488.4 1027.2h4M1509.9 1025.3h4M1528.9 1027.4h4M1537.2 1028.3h4M1614.2 1026.4h4M1658.7 1028.4h4M1687.0 1025.9h4M1819.0 1025.5h4M1243.1 1030.3h4M1270.4 1031.7h4M1274.2 1030.6h4M1422.0 1032.1h4M1430.7 1029.3h4M1454.7 1031.8h4M1518.4 1032.5h4M1526.8 1032.5h4M1528.7 1032.0h4M1550.8 1030.1h4M1590.6 1030.3h4M1694.1 1029.4h4M1856.9 1029.8h4M1246.2 1035.4h4M1264.6 1034.7h4M1273.5 1034.5h4M1277.8 1036.1h4M1282.2 1035.6h4M1416.4 1034.1h4M1423.2 1036.3h4M1444.9 1035.9h4M1466.6 1035.9h4M1515.2 1035.6h4M1536.6 1036.4h4M1540.5 1034.1h4M1566.1 1034.9h4M1579.1 1034.2h4M1597.0 1035.4h4M1638.9 1036.6h4M1278.0 1038.6h4M1372.3 1040.6h4M1405.2 1039.8h4M1415.2 1040.6h4M1416.6 1037.6h4M1427.5 1039.0h4M1446.9 1039.8h4M1491.1 1037.5h4M1494.0 1038.1h4M1554.6 1038.6h4M1585.6 1040.2h4M1593.2 1039.0h4M1666.7 1038.4h4M1699.0 1039.6h4M1252.9 1043.1h4M1269.9 1042.4h4M1300.9 1043.7h4M1366.4 1041.8h4M1386.0 1044.1h4M1393.0 1044.0h4M1443.3 1044.5h4M1465.1 1042.6h4M1521.5 1042.1h4M1834.8 1043.6h4M1299.7 1048.0h4M1322.9 1045.5h4M1324.8 1046.9h4M1333.3 1048.0h4M1341.6 1047.5h4M1383.4 1045.4h4M1392.9 1047.6h4M1461.6 1047.5h4M1472.3 1047.7h4M1272.5 1049.5h4M1335.3 1050.8h4M1379.5 1050.0h4M1455.0 1049.5h4M1465.5 1049.4h4M1281.2 1053.5h4M1314.2 1053.3h4M1318.1 1054.2h4M1325.6 1056.6h4M1339.4 1055.8h4M1346.4 1054.3h4M1409.4 1053.8h4M1273.6 1059.3h4M1316.9 1059.9h4M1323.5 1059.0h4M1334.8 1058.1h4M1352.4 1059.1h4M1302.9 1062.2h4M1307.5 1061.9h4M1323.3 1063.0h4M1326.5 1062.7h4M1354.6 1062.4h4M1365.6 1063.9h4M1301.5 1065.6h4M1313.9 1067.4h4M1349.7 1067.5h4M1284.9 1070.7h4M1310.2 1072.6h4M1313.9 1072.1h4M1340.5 1069.8h4M1310.0 1075.6h4"/>
<path stroke="#4537d5" d="M1321.1 799.9h4M1322.3 803.2h4M1391.6 804.1h4M1317.7 805.8h4M1327.3 806.5h4M1389.9 806.6h4M1393.0 805.8h4M1382.0 810.8h4M1385.4 810.3h4M1388.5 810.5h4M1393.3 811.7h4M1331.2 813.8h4M1338.1 815.9h4M1351.1 813.7h4M1380.9 814.7h4M1398.4 815.2h4M1400.4 816.3h4M1313.2 817.9h4M1327.2 820.5h4M1334.6 818.9h4M1361.4 820.6h4M1375.3 818.6h4M1382.0 819.3h4M1414.1 819.1h4M1313.1 823.6h4M1318.8 824.5h4M1322.1 823.1h4M1330.7 823.6h4M1333.6 823.5h4M1378.9 821.5h4M1382.6 822.7h4M1384.7 824.1h4M1302.0 826.4h4M1307.6 826.3h4M1313.5 826.1h4M1331.6 825.6h4M1348.9 826.0h4M1362.9 827.8h4M1371.2 827.7h4M1404.7 827.9h4M1454.6 825.4h4M1466.6 828.4h4M1478.7 826.6h4M1302.4 831.2h4M1310.7 831.2h4M1421.5 832.4h4M1426.1 832.3h4M1431.1 832.6h4M1437.4 830.5h4M1449.8 832.4h4M1470.0 831.9h4M1310.8 835.8h4M1471.4 836.2h4M1489.8 836.2h4M1493.1 833.4h4M1520.4 835.0h4M1288.7 839.3h4M1303.0 840.6h4M1497.0 837.6h4M1507.2 839.3h4M1512.6 839.5h4M1294.1 842.6h4M1297.7 841.8h4M1532.7 842.0h4M1587.1 844.4h4M1573.3 847.2h4M1605.1 848.2h4M1610.8 848.6h4M1288.6 851.2h4M1587.3 850.6h4M1275.2 856.2h4M1285.9 855.5h4M1606.0 856.6h4M1608.6 854.3h4M1614.4 853.7h4M1261.3 865.9h4M1254.7 870.7h4M1672.9 870.8h4M1676.3 870.0h4M1250.0 874.2h4M1266.6 876.1h4M1687.1 875.9h4M1244.9 882.8h4M1702.7 883.7h4M1713.6 883.7h4M1911.4 881.9h4M1926.4 883.6h4M1929.0 881.8h4M1238.3 888.4h4M1253.8 886.6h4M1895.3 886.6h4M1913.4 886.3h4M1930.7 888.1h4M1233.0 890.8h4M1740.7 892.2h4M1757.2 891.4h4M1762.3 889.7h4M1783.6 891.4h4M1909.4 892.5h4M1917.4 890.3h4M1926.6 889.7h4M1232.5 895.8h4M1755.5 896.2h4M1762.9 895.6h4M1799.5 894.9h4M1814.4 893.9h4M1839.5 895.4h4M1855.0 896.3h4M1867.5 895.1h4M1225.0 899.0h4M1231.5 900.3h4M1243.2 898.3h4M1785.5 898.5h4M1795.2 897.5h4M1798.5 900.3h4M1821.6 898.6h4M1833.4 899.9h4M1837.1 900.0h4M1846.9 899.5h4M1863.0 900.5h4M1868.7 900.5h4M1948.7 897.6h4M1225.4 904.4h4M1228.7 902.8h4M1239.2 901.3h4M1820.8 903.4h4M1825.5 902.7h4M1828.9 904.7h4M1832.9 902.7h4M1842.8 902.1h4M1855.2 903.6h4M1953.3 902.1h4M1232.7 908.4h4M1233.3 912.3h4M1237.4 911.2h4M1958.2 909.3h4M1221.8 915.9h4M1225.6 915.5h4M1222.7 918.5h4M1230.6 918.7h4M1234.3 918.0h4M1229.9 922.3h4M1218.8 927.2h4M1226.0 925.5h4M1218.5 930.8h4M1221.7 936.5h4M1225.5 936.5h4M1220.7 938.8h4M1227.4 938.1h4M1230.3 942.4h4M1231.4 947.1h4M1229.1 950.6h4M1238.5 951.1h4M1225.8 953.6h4M1238.4 955.2h4M1230.5 957.8h4M1238.7 958.1h4M1241.2 958.7h4M1233.6 962.7h4M1237.3 964.0h4M1226.5 966.4h4M1238.7 966.0h4M1230.9 971.5h4M1235.0 971.2h4M1235.5 974.7h4M1243.4 974.6h4M1229.6 980.4h4M1242.4 979.0h4M1248.5 977.9h4M1235.2 983.7h4M1236.8 982.2h4M1243.6 982.7h4M1247.3 981.7h4M1253.8 990.5h4M1263.5 996.1h4M1264.3 994.1h4M1265.6 999.0h4M1258.9 1004.4h4M1262.9 1003.2h4M1264.4 1003.6h4M1271.5 1004.6h4M1262.1 1008.6h4M1969.4 1007.8h4M1264.5 1010.2h4M1270.0 1010.2h4M1273.9 1016.7h4M1282.9 1016.7h4M1452.7 1013.4h4M1456.9 1015.8h4M1471.4 1015.3h4M1273.3 1019.2h4M1283.6 1019.8h4M1405.4 1019.6h4M1409.8 1018.3h4M1432.9 1018.6h4M1451.1 1018.0h4M1455.4 1020.6h4M1536.4 1019.0h4M1665.1 1019.1h4M1677.3 1020.5h4M1726.4 1020.4h4M1773.9 1018.0h4M1814.8 1020.4h4M1274.1 1024.7h4M1286.3 1021.5h4M1291.7 1024.4h4M1379.2 1021.9h4M1385.0 1023.0h4M1389.6 1023.6h4M1408.5 1022.5h4M1417.5 1023.7h4M1442.9 1024.6h4M1453.6 1024.3h4M1464.5 1022.9h4M1469.2 1021.4h4M1477.5 1024.5h4M1480.8 1022.5h4M1487.1 1024.3h4M1497.3 1022.6h4M1514.9 1022.8h4M1525.5 1022.7h4M1665.9 1023.7h4M1696.7 1023.2h4M1703.7 1023.4h4M1761.1 1024.2h4M1782.2 1023.2h4M1814.7 1022.6h4M1816.3 1021.4h4M1822.8 1023.6h4M1848.6 1023.0h4M1291.3 1025.3h4M1293.8 1025.9h4M1302.7 1026.2h4M1390.6 1027.5h4M1403.7 1028.4h4M1407.3 1028.4h4M1416.6 1027.7h4M1292.7 1032.0h4M1346.9 1031.3h4M1358.3 1032.2h4M1376.4 1029.3h4M1293.8 1036.1h4M1305.5 1035.7h4M1309.5 1034.8h4M1314.6 1036.6h4M1328.5 1036.1h4M1342.0 1036.0h4M1367.0 1035.5h4M1369.6 1033.9h4M1301.0 1038.4h4M1304.5 1037.9h4M1321.6 1039.3h4M1325.0 1038.3h4M1885.9 1037.3h4M1311.0 1043.9h4M1321.8 1043.8h4M1334.0 1043.4h4M1336.3 1042.6h4M1342.9 1043.6h4"/>
<path stroke="#463ee1" d="M1381.6 827.4h4M1386.4 825.4h4M1393.5 827.0h4M1331.2 830.3h4M1349.8 830.1h4M1362.4 829.6h4M1386.8 830.8h4M1400.6 831.6h4M1415.5 831.9h4M1324.8 834.8h4M1371.2 835.1h4M1379.1 836.1h4M1385.3 834.4h4M1390.0 836.7h4M1417.0 833.6h4M1429.3 836.1h4M1434.0 835.0h4M1321.9 838.3h4M1325.9 838.4h4M1341.0 838.7h4M1345.9 838.6h4M1354.9 837.8h4M1361.1 840.6h4M1452.8 838.6h4M1468.6 837.7h4M1474.3 839.2h4M1307.4 844.2h4M1469.9 842.5h4M1475.4 842.0h4M1484.5 841.6h4M1488.7 843.9h4M1519.3 843.4h4M1504.8 846.1h4M1517.2 846.8h4M1521.4 848.6h4M1298.7 852.5h4M1527.1 851.3h4M1530.4 852.2h4M1534.2 851.6h4M1536.4 852.2h4M1562.1 850.0h4M1294.3 856.4h4M1298.9 856.6h4M1559.6 855.0h4M1591.7 856.2h4M1593.9 853.4h4M1599.2 855.3h4M1290.7 857.4h4M1585.7 858.2h4M1595.0 859.2h4M1605.4 860.6h4M1618.2 859.5h4M1280.8 862.9h4M1290.4 864.6h4M1614.8 864.3h4M1616.5 864.3h4M1622.5 864.5h4M1282.8 867.1h4M1629.2 867.4h4M1633.2 866.6h4M1638.8 867.8h4M1278.3 872.5h4M1648.7 874.6h4M1659.0 875.3h4M1267.3 880.1h4M1274.2 878.2h4M1662.3 878.5h4M1266.2 884.3h4M1675.4 882.2h4M1257.2 887.0h4M1265.3 887.0h4M1698.3 887.4h4M1252.8 891.3h4M1260.7 891.4h4M1706.8 892.3h4M1710.7 890.7h4M1718.2 891.5h4M1720.5 890.6h4M1731.2 891.2h4M1258.1 894.9h4M1720.6 894.2h4M1742.5 895.5h4M1914.6 895.2h4M1921.5 894.9h4M1259.0 900.0h4M1737.4 898.3h4M1741.4 897.9h4M1748.5 898.6h4M1754.0 897.6h4M1756.6 899.3h4M1901.8 899.9h4M1245.5 901.9h4M1250.3 903.0h4M1755.2 903.5h4M1799.5 902.7h4M1810.4 903.6h4M1869.6 902.6h4M1886.4 901.7h4M1245.9 907.2h4M1250.7 907.0h4M1796.9 908.6h4M1809.6 906.1h4M1859.3 907.3h4M1867.7 905.9h4M1879.1 906.3h4M1883.4 908.5h4M1254.2 912.2h4M1821.3 911.1h4M1825.9 912.2h4M1831.0 911.6h4M1838.6 909.3h4M1847.6 909.4h4M1848.7 909.5h4M1854.9 911.5h4M1858.8 912.2h4M1861.9 911.9h4M1953.1 914.0h4M1235.2 923.9h4M1239.3 923.8h4M1242.8 922.4h4M1229.6 926.7h4M1226.4 931.1h4M1244.3 936.3h4M1251.1 935.3h4M1234.3 938.0h4M1237.4 939.9h4M1236.4 941.4h4M1245.4 942.6h4M1251.7 941.5h4M1239.5 948.6h4M1246.6 947.8h4M1243.6 949.5h4M1250.2 952.1h4M1246.8 953.9h4M1245.2 959.0h4M1249.7 959.5h4M1247.6 963.2h4M1254.4 964.4h4M1258.1 963.7h4M1251.4 965.4h4M1253.2 965.9h4M1252.8 971.3h4M1258.2 971.8h4M1253.2 974.6h4M1257.1 975.6h4M1262.4 974.4h4M1269.7 983.7h4M1261.7 988.6h4M1266.0 988.3h4M1270.7 992.4h4M1273.3 991.1h4M1268.3 993.6h4M1269.8 1000.4h4M1282.7 999.9h4M1274.9 1003.9h4M1276.7 1003.2h4M1280.5 1002.4h4M1280.9 1007.3h4M1289.1 1006.4h4M1280.7 1012.0h4M1287.4 1012.6h4M1288.7 1012.6h4M1393.7 1011.1h4M1399.0 1011.8h4M1405.3 1011.8h4M1418.5 1010.3h4M1437.7 1010.5h4M1446.3 1012.4h4M1452.3 1012.3h4M1459.1 1012.5h4M1470.3 1011.4h4M1474.7 1012.6h4M1505.4 1012.5h4M1510.9 1010.8h4M1523.2 1012.1h4M1574.9 1012.0h4M1577.3 1010.7h4M1650.9 1009.5h4M1658.7 1011.2h4M1693.2 1011.6h4M1701.6 1011.6h4M1716.8 1011.0h4M1727.3 1010.4h4M1740.9 1012.6h4M1759.2 1012.7h4M1779.6 1009.4h4M1806.5 1010.0h4M1810.1 1010.3h4M1822.5 1012.4h4M1827.4 1010.9h4M1830.8 1012.2h4M1298.3 1013.9h4M1300.9 1013.4h4M1368.8 1016.1h4M1389.8 1014.6h4M1394.9 1014.5h4M1398.9 1015.2h4M1402.9 1015.4h4M1406.0 1015.4h4M1410.6 1014.9h4M1415.5 1014.8h4M1422.7 1014.4h4M1425.3 1013.8h4M1513.6 1014.0h4M1521.1 1015.5h4M1525.7 1014.2h4M1530.1 1015.9h4M1558.5 1016.5h4M1573.6 1016.0h4M1581.2 1014.1h4M1589.2 1015.3h4M1595.4 1016.5h4M1599.1 1016.6h4M1604.8 1014.4h4M1613.0 1015.8h4M1662.8 1016.4h4M1671.0 1015.0h4M1682.4 1014.4h4M1700.7 1013.8h4M1710.5 1016.0h4M1723.6 1016.5h4M1745.3 1014.5h4M1787.1 1016.5h4M1789.8 1016.2h4M1826.9 1016.4h4M1834.2 1013.4h4M1848.7 1013.4h4M1853.6 1016.1h4M1290.0 1017.5h4M1303.6 1020.4h4M1351.0 1018.8h4M1362.3 1020.5h4M1374.6 1017.7h4M1379.1 1019.7h4M1395.6 1018.7h4M1855.3 1018.4h4M1856.5 1017.9h4M1298.3 1022.2h4M1301.3 1024.6h4M1309.9 1023.5h4M1330.9 1022.7h4M1343.0 1023.0h4M1344.7 1023.4h4M1352.6 1023.0h4M1357.2 1023.4h4M1360.6 1022.5h4M1865.9 1024.0h4M1875.6 1022.4h4M1335.1 1027.2h4M1338.1 1027.6h4M1342.9 1028.0h4M1891.6 1038.7h4"/>
<path stroke="#4745e9" d="M1367.4 840.4h4M1369.5 838.8h4M1377.2 838.2h4M1381.1 839.7h4M1394.7 839.6h4M1401.6 840.4h4M1324.5 844.4h4M1343.1 843.7h4M1345.9 842.7h4M1353.2 843.8h4M1359.5 843.1h4M1369.2 843.5h4M1377.8 843.0h4M1386.6 842.3h4M1390.6 844.3h4M1393.5 842.4h4M1411.0 841.4h4M1416.8 843.1h4M1437.9 843.9h4M1442.1 841.6h4M1466.4 843.3h4M1313.9 846.7h4M1327.6 848.0h4M1333.8 848.4h4M1337.0 845.6h4M1345.8 848.3h4M1350.9 848.5h4M1443.0 847.5h4M1446.6 846.5h4M1453.9 848.3h4M1469.0 847.3h4M1475.0 847.0h4M1477.4 848.1h4M1482.5 846.5h4M1485.7 846.3h4M1492.5 847.4h4M1497.9 847.2h4M1320.8 851.4h4M1484.5 852.4h4M1493.3 851.9h4M1514.0 851.9h4M1519.5 850.0h4M1522.9 852.3h4M1314.2 854.1h4M1514.6 855.0h4M1517.4 854.6h4M1522.1 854.9h4M1525.5 855.3h4M1529.7 854.9h4M1541.6 854.6h4M1546.9 853.9h4M1301.0 857.9h4M1540.6 860.2h4M1550.2 859.5h4M1571.6 860.5h4M1583.3 857.6h4M1297.5 861.5h4M1582.2 862.2h4M1585.3 862.6h4M1593.6 862.3h4M1598.0 863.0h4M1288.3 868.1h4M1597.9 867.0h4M1605.4 866.5h4M1614.4 868.1h4M1619.6 867.0h4M1623.2 867.4h4M1290.6 871.1h4M1617.3 869.5h4M1620.4 869.7h4M1624.7 872.4h4M1279.1 874.8h4M1281.5 874.0h4M1286.5 874.5h4M1639.4 875.6h4M1644.5 875.5h4M1278.6 880.0h4M1282.4 879.1h4M1273.8 882.0h4M1277.2 883.0h4M1656.7 883.4h4M1669.4 882.3h4M1269.4 885.8h4M1664.5 886.3h4M1673.8 888.2h4M1678.3 888.6h4M1265.0 890.4h4M1269.7 891.6h4M1694.6 890.8h4M1698.3 891.1h4M1265.6 893.7h4M1269.9 895.1h4M1694.3 893.6h4M1700.9 896.3h4M1706.9 894.9h4M1715.2 893.3h4M1267.4 897.6h4M1707.2 899.2h4M1727.4 900.5h4M1913.3 897.3h4M1923.1 897.5h4M1261.4 903.3h4M1266.7 903.5h4M1734.4 903.3h4M1747.5 901.5h4M1750.4 902.5h4M1905.8 902.6h4M1909.7 903.6h4M1914.7 903.1h4M1927.0 902.2h4M1741.1 906.9h4M1749.8 906.2h4M1753.3 907.2h4M1757.2 906.3h4M1762.3 907.4h4M1764.9 907.5h4M1897.1 905.9h4M1939.6 906.8h4M1941.0 907.7h4M1259.2 911.6h4M1758.1 911.1h4M1762.5 911.6h4M1766.0 911.0h4M1770.8 909.8h4M1782.3 912.3h4M1803.3 910.7h4M1806.3 912.5h4M1871.3 912.6h4M1878.4 912.4h4M1887.2 911.1h4M1257.1 913.6h4M1803.6 916.4h4M1809.8 916.2h4M1815.1 915.5h4M1826.9 915.3h4M1832.8 916.0h4M1838.2 914.0h4M1841.9 914.4h4M1855.2 914.8h4M1858.9 914.3h4M1861.3 915.8h4M1864.8 914.2h4M1946.5 914.5h4M1254.6 918.1h4M1822.4 918.4h4M1826.5 919.2h4M1843.2 917.8h4M1857.6 919.1h4M1951.5 919.2h4M1952.7 919.2h4M1953.8 922.9h4M1249.6 926.3h4M1959.5 926.1h4M1242.9 931.2h4M1245.8 931.6h4M1253.7 935.6h4M1255.1 940.4h4M1963.7 939.0h4M1254.8 947.5h4M1257.3 947.5h4M1257.6 950.8h4M1256.6 956.3h4M1260.7 954.9h4M1265.7 958.5h4M1261.0 963.5h4M1265.9 963.0h4M1261.8 967.2h4M1265.4 966.9h4M1270.4 967.2h4M1264.7 971.8h4M1271.0 975.3h4M1273.9 975.4h4M1274.3 978.4h4M1273.3 981.7h4M1278.6 987.7h4M1281.7 986.4h4M1277.4 990.8h4M1285.6 991.2h4M1282.1 995.0h4M1286.6 995.5h4M1289.4 995.2h4M1286.0 999.8h4M1288.9 1002.5h4M1293.8 1001.9h4M1427.2 1002.2h4M1434.4 1001.7h4M1439.0 1003.4h4M1441.5 1002.3h4M1453.0 1003.5h4M1476.3 1003.4h4M1487.7 1003.3h4M1766.9 1003.6h4M1775.6 1003.0h4M1303.5 1008.4h4M1374.5 1007.9h4M1384.5 1006.8h4M1431.0 1005.9h4M1432.6 1008.4h4M1444.3 1006.0h4M1448.5 1007.1h4M1453.9 1007.8h4M1458.5 1005.6h4M1463.1 1008.1h4M1467.5 1006.7h4M1478.9 1007.8h4M1482.3 1007.6h4M1498.6 1005.6h4M1508.3 1007.9h4M1522.0 1007.6h4M1529.8 1007.1h4M1566.4 1006.2h4M1570.0 1006.5h4M1598.1 1008.5h4M1633.0 1007.8h4M1640.6 1005.5h4M1650.5 1007.6h4M1655.2 1008.5h4M1662.3 1008.2h4M1678.4 1006.5h4M1696.5 1006.7h4M1700.7 1005.4h4M1730.9 1005.8h4M1733.7 1007.1h4M1737.5 1006.7h4M1742.3 1007.6h4M1747.5 1006.6h4M1754.7 1006.2h4M1767.6 1006.1h4M1770.5 1005.6h4M1775.5 1005.5h4M1779.0 1006.5h4M1781.8 1006.8h4M1798.2 1006.5h4M1818.0 1005.6h4M1824.7 1005.4h4M1831.2 1006.1h4M1839.4 1006.4h4M1841.2 1007.9h4M1845.6 1007.8h4M1850.3 1007.1h4M1306.1 1011.5h4M1313.2 1011.0h4M1318.2 1011.5h4M1362.9 1012.6h4M1367.7 1010.8h4M1854.4 1010.7h4M1863.4 1012.3h4M1308.4 1016.2h4M1317.8 1013.8h4M1338.4 1016.0h4M1342.6 1015.2h4M1345.5 1014.1h4M1358.6 1013.6h4M1316.4 1020.0h4M1325.1 1018.5h4M1337.1 1019.2h4M1340.9 1019.9h4M1345.4 1018.7h4M1958.0 1018.7h4M1887.2 1031.1h4M1888.8 1030.5h4"/>
<path stroke="#484df0" d="M1361.3 846.3h4M1366.5 847.8h4M1370.4 846.8h4M1378.2 846.9h4M1382.3 847.9h4M1389.0 848.0h4M1394.6 847.9h4M1397.3 848.2h4M1405.5 847.2h4M1421.2 846.7h4M1425.7 848.3h4M1438.6 847.3h4M1334.9 850.8h4M1336.6 851.9h4M1346.1 849.9h4M1353.3 851.7h4M1357.9 851.5h4M1362.1 850.6h4M1373.8 850.9h4M1377.7 851.5h4M1413.9 851.4h4M1419.0 850.7h4M1421.2 852.5h4M1430.3 852.2h4M1432.5 851.3h4M1437.4 850.5h4M1446.6 850.4h4M1449.5 851.5h4M1453.8 851.4h4M1462.3 851.5h4M1465.4 850.8h4M1469.9 850.9h4M1481.7 851.5h4M1319.0 853.8h4M1321.6 854.0h4M1326.2 855.5h4M1329.8 854.6h4M1333.9 855.4h4M1338.8 855.3h4M1479.0 854.2h4M1487.7 854.9h4M1490.5 856.7h4M1508.8 855.0h4M1313.6 859.1h4M1318.1 858.7h4M1322.4 859.2h4M1506.9 859.4h4M1510.9 859.6h4M1518.2 859.3h4M1530.3 858.8h4M1534.8 859.8h4M1536.9 858.1h4M1314.4 862.1h4M1534.7 862.6h4M1550.1 863.3h4M1562.7 863.4h4M1564.8 863.3h4M1296.6 867.7h4M1302.6 868.1h4M1305.7 867.1h4M1565.0 866.2h4M1571.4 866.9h4M1582.6 867.8h4M1585.5 866.6h4M1590.1 867.0h4M1594.4 867.0h4M1593.8 870.6h4M1598.6 870.9h4M1602.9 869.7h4M1609.5 871.3h4M1289.9 874.8h4M1294.8 874.7h4M1614.3 874.4h4M1621.0 875.2h4M1624.5 873.4h4M1285.5 878.9h4M1290.5 879.2h4M1635.0 879.9h4M1637.2 878.8h4M1640.7 879.9h4M1282.5 883.7h4M1647.5 883.7h4M1277.5 886.6h4M1282.3 886.8h4M1660.3 888.6h4M1274.0 890.7h4M1278.1 890.8h4M1273.9 894.9h4M1678.0 894.9h4M1270.0 898.5h4M1691.1 898.1h4M1697.2 899.9h4M1269.7 903.9h4M1697.3 902.5h4M1702.5 902.0h4M1706.3 902.6h4M1710.2 902.5h4M1721.7 903.0h4M1266.4 906.2h4M1717.9 907.4h4M1723.0 907.6h4M1725.1 906.8h4M1733.7 907.8h4M1737.7 906.8h4M1905.4 907.6h4M1920.4 906.2h4M1929.1 907.0h4M1262.8 910.7h4M1266.0 910.3h4M1734.0 911.4h4M1737.6 911.6h4M1742.3 911.2h4M1746.7 911.6h4M1750.4 910.9h4M1754.5 910.9h4M1890.4 910.1h4M1894.0 910.2h4M1902.9 911.1h4M1933.8 911.6h4M1749.3 914.4h4M1753.9 914.8h4M1766.5 914.4h4M1777.3 916.4h4M1884.4 914.7h4M1940.6 916.0h4M1258.6 918.5h4M1766.1 919.2h4M1774.6 919.7h4M1782.0 919.1h4M1788.8 919.2h4M1794.5 918.3h4M1808.8 918.9h4M1815.3 920.2h4M1862.1 918.7h4M1867.0 919.5h4M1869.5 918.6h4M1883.5 919.2h4M1946.5 920.5h4M1253.9 922.3h4M1803.1 924.3h4M1817.5 922.1h4M1837.2 923.9h4M1846.7 923.3h4M1850.1 922.8h4M1854.4 923.1h4M1858.2 922.7h4M1861.7 922.7h4M1866.7 923.0h4M1948.8 921.6h4M1253.5 926.7h4M1256.7 927.6h4M1953.3 927.4h4M1257.8 931.0h4M1257.7 934.3h4M1257.3 938.8h4M1261.2 939.4h4M1262.6 942.6h4M1262.6 947.1h4M1265.3 951.1h4M1265.4 955.3h4M1270.2 955.3h4M1270.2 958.7h4M1965.1 959.5h4M1270.3 962.8h4M1966.1 966.5h4M1273.9 971.2h4M1964.8 970.9h4M1277.9 975.3h4M1278.2 979.2h4M1282.2 979.4h4M1282.5 982.6h4M1286.0 983.2h4M1964.7 982.2h4M1286.0 986.7h4M1290.3 987.3h4M1294.1 987.1h4M1289.8 991.5h4M1293.4 990.5h4M1967.6 991.7h4M1293.9 995.8h4M1298.5 995.7h4M1301.6 995.4h4M1297.0 998.9h4M1300.9 998.6h4M1306.1 998.7h4M1310.4 998.6h4M1402.2 999.8h4M1405.5 998.4h4M1426.8 998.0h4M1428.9 998.8h4M1438.7 998.6h4M1470.5 1000.6h4M1473.8 999.5h4M1478.5 999.2h4M1487.0 998.5h4M1492.9 998.2h4M1706.8 998.2h4M1711.0 998.4h4M1713.3 999.7h4M1718.5 999.1h4M1722.1 998.8h4M1742.5 999.4h4M1745.4 998.6h4M1762.0 998.7h4M1766.0 999.7h4M1769.4 998.9h4M1785.0 999.6h4M1788.9 998.7h4M1793.2 998.0h4M1798.8 998.0h4M1801.7 999.4h4M1810.2 999.2h4M1813.5 998.2h4M1817.2 999.7h4M1829.8 999.4h4M1837.4 999.2h4M1302.2 1002.4h4M1307.0 1001.9h4M1309.6 1003.8h4M1313.3 1002.9h4M1317.7 1003.0h4M1360.4 1002.5h4M1369.4 1003.4h4M1374.1 1003.1h4M1381.5 1003.6h4M1385.5 1002.5h4M1389.6 1002.9h4M1393.6 1003.0h4M1398.0 1002.4h4M1406.3 1003.7h4M1410.0 1004.2h4M1510.0 1002.3h4M1512.5 1002.0h4M1522.0 1003.3h4M1525.6 1004.5h4M1540.5 1004.4h4M1558.5 1004.0h4M1561.8 1003.6h4M1576.9 1001.5h4M1582.4 1003.2h4M1587.4 1003.5h4M1589.8 1003.6h4M1595.2 1003.8h4M1598.4 1002.7h4M1602.6 1001.4h4M1605.7 1003.4h4M1619.1 1002.7h4M1621.8 1002.4h4M1630.0 1002.5h4M1637.0 1003.7h4M1643.5 1004.1h4M1655.4 1001.4h4M1658.8 1004.5h4M1663.3 1004.1h4M1667.0 1004.6h4M1691.2 1004.1h4M1697.4 1003.4h4M1701.6 1002.9h4M1705.6 1004.1h4M1709.1 1002.4h4M1713.4 1002.1h4M1722.8 1003.9h4M1729.4 1002.7h4M1734.2 1002.5h4M1737.4 1003.1h4M1749.5 1002.3h4M1754.6 1003.2h4M1757.5 1003.5h4M1761.9 1002.5h4M1801.7 1003.3h4M1805.7 1003.6h4M1809.9 1003.7h4M1813.2 1004.3h4M1827.2 1002.4h4M1829.9 1003.4h4M1833.5 1002.9h4M1842.2 1002.6h4M1845.6 1002.2h4M1849.7 1003.4h4M1311.5 1006.9h4M1319.1 1006.6h4M1322.3 1006.1h4M1325.6 1006.9h4M1337.9 1007.8h4M1348.7 1005.4h4M1354.5 1005.6h4M1367.1 1006.7h4M1370.2 1005.6h4M1854.2 1007.6h4M1858.0 1006.5h4M1862.8 1007.2h4M1327.1 1012.2h4M1330.9 1011.4h4M1338.1 1010.7h4M1873.0 1014.8h4M1888.9 1027.7h4"/>
<path stroke="#4854f6" d="M1381.7 850.8h4M1385.5 851.0h4M1389.8 850.3h4M1398.6 851.4h4M1401.2 849.8h4M1345.5 855.6h4M1350.8 855.1h4M1354.4 855.5h4M1366.1 855.3h4M1370.5 855.5h4M1373.5 855.0h4M1378.3 855.2h4M1381.9 855.0h4M1390.0 854.7h4M1394.4 854.9h4M1402.7 854.9h4M1405.0 856.5h4M1410.9 854.9h4M1413.7 854.8h4M1424.8 854.1h4M1429.0 855.5h4M1441.9 854.6h4M1446.1 854.7h4M1454.5 855.3h4M1457.9 855.7h4M1469.4 855.2h4M1342.1 859.4h4M1350.6 858.8h4M1354.3 859.2h4M1357.7 858.8h4M1473.5 859.5h4M1478.2 859.5h4M1493.0 859.0h4M1496.4 858.4h4M1317.5 862.8h4M1505.0 862.1h4M1510.4 864.0h4M1310.1 866.9h4M1318.1 867.2h4M1530.3 867.4h4M1534.2 867.4h4M1537.9 867.5h4M1542.4 866.7h4M1545.6 867.2h4M1549.9 866.6h4M1305.7 871.1h4M1561.5 870.5h4M1569.6 871.7h4M1572.7 872.1h4M1578.1 871.0h4M1581.5 871.2h4M1585.9 871.0h4M1297.3 875.7h4M1301.9 875.1h4M1306.9 874.7h4M1590.3 875.2h4M1593.6 874.5h4M1597.7 875.2h4M1600.9 876.3h4M1607.3 874.2h4M1294.1 878.5h4M1298.5 879.2h4M1301.7 878.6h4M1613.1 878.4h4M1617.3 878.0h4M1621.4 880.0h4M1627.1 879.9h4M1290.3 882.6h4M1294.3 883.3h4M1628.8 882.3h4M1634.7 883.5h4M1285.9 887.2h4M1290.4 887.2h4M1638.0 887.4h4M1642.9 885.7h4M1647.0 888.1h4M1649.7 886.7h4M1282.0 890.8h4M1286.3 891.4h4M1658.3 891.5h4M1662.6 894.2h4M1666.0 894.2h4M1669.7 894.3h4M1673.5 898.6h4M1689.6 902.8h4M1694.8 902.0h4M1268.9 907.2h4M1694.5 906.5h4M1698.1 906.7h4M1706.8 907.1h4M1710.6 907.7h4M1269.7 911.5h4M1709.6 911.4h4M1714.5 911.6h4M1718.8 910.3h4M1722.9 911.5h4M1725.1 911.9h4M1729.9 911.5h4M1906.4 911.7h4M1913.7 911.1h4M1920.5 910.6h4M1927.5 910.2h4M1929.6 911.2h4M1725.9 914.6h4M1730.8 914.3h4M1733.2 916.0h4M1746.0 915.6h4M1903.0 915.2h4M1937.3 914.2h4M1261.0 919.0h4M1742.2 918.7h4M1745.8 919.4h4M1753.3 919.2h4M1757.3 919.7h4M1762.2 918.9h4M1886.2 920.0h4M1265.5 922.6h4M1758.2 923.1h4M1761.5 922.4h4M1765.7 923.2h4M1774.2 922.7h4M1778.4 923.8h4M1783.4 923.3h4M1877.6 924.3h4M1944.6 924.4h4M1778.3 927.0h4M1782.4 927.1h4M1805.9 925.9h4M1809.7 927.2h4M1814.4 927.3h4M1826.4 927.0h4M1829.9 926.7h4M1838.8 926.5h4M1841.3 926.9h4M1869.5 927.5h4M1874.9 927.8h4M1948.8 926.6h4M1838.3 930.6h4M1841.7 931.1h4M1952.9 931.1h4M1953.0 935.9h4M1266.0 938.5h4M1266.4 943.3h4M1269.7 947.0h4M1961.9 950.1h4M1298.0 983.1h4M1297.7 986.7h4M1302.3 986.8h4M1302.2 990.8h4M1306.5 991.0h4M1306.2 994.8h4M1402.6 995.3h4M1407.1 995.8h4M1413.1 994.1h4M1417.0 993.3h4M1422.0 995.7h4M1425.5 995.0h4M1429.1 995.5h4M1434.3 995.3h4M1437.6 994.9h4M1442.6 994.3h4M1445.1 996.2h4M1451.3 994.9h4M1453.7 995.7h4M1462.8 994.5h4M1466.1 996.3h4M1475.3 996.1h4M1487.5 994.2h4M1490.3 996.3h4M1676.8 996.1h4M1685.7 994.0h4M1693.6 995.0h4M1698.0 995.2h4M1705.9 995.4h4M1742.1 995.2h4M1766.3 995.1h4M1769.5 995.0h4M1773.8 994.5h4M1781.3 994.1h4M1790.9 995.1h4M1794.1 995.1h4M1797.6 995.5h4M1802.3 994.8h4M1809.5 995.3h4M1822.2 994.7h4M1825.8 995.5h4M1829.6 994.6h4M1834.2 994.8h4M1837.7 995.1h4M1842.1 995.0h4M1341.8 998.5h4M1345.6 998.6h4M1349.5 1000.1h4M1359.3 998.4h4M1370.3 997.9h4M1374.1 998.3h4M1378.2 998.8h4M1382.2 998.6h4M1501.3 999.4h4M1505.1 998.0h4M1513.9 999.3h4M1516.7 998.2h4M1523.4 1000.0h4M1529.0 999.8h4M1577.9 997.5h4M1586.0 999.4h4M1591.0 999.3h4M1594.9 999.7h4M1601.6 999.5h4M1615.6 1000.6h4M1625.1 1000.3h4M1633.9 999.8h4M1654.8 997.9h4M1658.3 998.6h4M1669.9 999.1h4M1681.6 1000.6h4M1691.6 1000.3h4M1692.9 998.2h4M1697.8 999.5h4M1842.7 998.6h4M1845.8 999.0h4M1329.9 1003.4h4M1338.4 1003.5h4M1342.1 1003.6h4M1347.0 1002.7h4M1355.1 1003.6h4M1866.0 1002.8h4M1870.6 1003.7h4M1868.8 1007.5h4M1875.2 1006.2h4M1883.3 1014.6h4M1886.9 1017.3h4M1953.0 1017.8h4M1941.6 1032.4h4M1902.3 1033.8h4M1905.6 1035.9h4M1913.7 1040.6h4M1916.5 1038.5h4"/>
<path stroke="#475cfa" d="M1362.2 859.0h4M1366.0 858.8h4M1378.2 859.5h4M1398.1 858.8h4M1401.8 859.1h4M1409.5 858.5h4M1413.4 859.2h4M1422.5 859.5h4M1431.2 859.7h4M1437.9 859.1h4M1441.3 859.7h4M1446.6 859.1h4M1450.0 859.1h4M1454.2 859.4h4M1342.2 863.0h4M1346.5 863.7h4M1349.8 863.2h4M1353.6 863.0h4M1358.1 863.1h4M1361.9 862.7h4M1365.6 862.3h4M1370.6 863.8h4M1473.9 863.1h4M1477.9 862.8h4M1481.8 863.5h4M1486.6 863.6h4M1489.3 864.1h4M1496.7 861.6h4M1501.7 863.9h4M1500.8 867.1h4M1509.6 865.9h4M1518.0 867.1h4M1314.0 871.7h4M1318.3 871.3h4M1530.1 870.8h4M1538.4 870.6h4M1553.6 871.0h4M1557.3 870.7h4M1310.1 874.5h4M1313.5 875.3h4M1558.2 875.1h4M1562.2 875.0h4M1566.1 875.1h4M1577.8 875.2h4M1306.0 879.3h4M1593.3 879.6h4M1598.7 877.9h4M1606.8 879.9h4M1298.2 882.9h4M1610.0 883.4h4M1614.5 883.3h4M1618.6 882.4h4M1621.4 882.2h4M1626.6 888.0h4M1289.9 890.8h4M1641.1 890.5h4M1285.8 895.4h4M1650.1 895.0h4M1653.9 895.2h4M1657.8 894.1h4M1657.9 898.8h4M1661.9 899.1h4M1666.2 899.2h4M1670.9 902.1h4M1674.2 901.4h4M1679.2 902.2h4M1274.3 906.2h4M1677.1 907.3h4M1687.2 907.4h4M1274.6 912.0h4M1690.6 911.6h4M1693.6 910.9h4M1702.1 911.4h4M1706.3 910.3h4M1273.5 915.8h4M1701.5 915.5h4M1706.1 915.0h4M1709.4 915.7h4M1714.4 914.9h4M1722.3 914.6h4M1905.3 913.9h4M1918.4 914.1h4M1923.3 914.0h4M1927.0 915.7h4M1930.9 914.1h4M1725.8 919.3h4M1737.4 917.6h4M1901.1 918.8h4M1938.1 919.3h4M1274.8 923.4h4M1741.5 923.4h4M1749.5 922.3h4M1885.4 923.4h4M1890.8 922.9h4M1270.5 926.4h4M1274.3 927.4h4M1753.9 927.3h4M1758.3 926.9h4M1762.0 927.1h4M1885.7 927.5h4M1946.7 926.5h4M1269.6 930.9h4M1274.1 930.7h4M1782.4 931.3h4M1786.9 931.1h4M1793.6 930.5h4M1801.6 931.4h4M1805.8 930.9h4M1869.6 931.3h4M1874.6 930.4h4M1877.9 931.4h4M1949.9 930.6h4M1270.4 935.0h4M1955.2 938.8h4M1957.2 949.8h4M1963.0 959.6h4M1286.6 962.6h4M1962.0 963.5h4M1286.0 966.8h4M1289.6 967.0h4M1961.9 967.3h4M1290.2 970.9h4M1293.9 971.1h4M1962.0 971.3h4M1961.7 974.9h4M1301.9 978.6h4M1962.2 979.3h4M1302.3 982.8h4M1306.1 983.2h4M1306.1 987.3h4M1963.1 987.2h4M1370.9 991.2h4M1377.4 991.4h4M1401.7 991.5h4M1411.0 991.1h4M1413.0 990.9h4M1417.4 991.2h4M1425.8 991.2h4M1430.0 990.6h4M1441.8 990.7h4M1447.0 990.7h4M1453.7 989.4h4M1460.8 990.6h4M1465.0 991.4h4M1469.7 991.8h4M1474.7 992.1h4M1477.9 990.3h4M1480.9 991.2h4M1485.9 992.2h4M1669.6 991.2h4M1674.0 991.5h4M1678.1 990.4h4M1701.7 990.7h4M1705.9 990.8h4M1738.0 990.8h4M1741.7 991.1h4M1746.6 991.0h4M1750.3 990.8h4M1778.1 990.7h4M1782.5 991.6h4M1786.5 991.1h4M1830.3 990.7h4M1962.4 992.1h4M1345.8 994.5h4M1358.9 994.8h4M1366.5 994.5h4M1370.5 995.5h4M1499.0 995.6h4M1502.3 995.4h4M1505.5 994.5h4M1510.2 994.3h4M1514.9 996.2h4M1518.8 996.5h4M1528.9 995.8h4M1539.1 995.3h4M1554.6 994.0h4M1559.6 995.1h4M1566.6 995.7h4M1574.0 995.2h4M1585.3 994.5h4M1593.1 994.9h4M1606.5 994.5h4M1609.1 995.5h4M1619.0 996.1h4M1621.4 995.0h4M1629.5 994.9h4M1633.6 994.8h4M1638.4 995.7h4M1645.3 995.6h4M1654.3 994.6h4M1658.7 995.7h4M1662.7 995.6h4M1666.2 994.8h4M1674.9 996.2h4M1870.4 998.8h4M1874.3 1002.2h4M1959.3 1008.3h4M1886.4 1014.1h4M1889.4 1018.1h4M1950.5 1017.5h4M1894.7 1022.6h4M1899.0 1026.2h4M1913.9 1035.8h4M1930.8 1035.9h4"/>
<path stroke="#4564fd" d="M1373.3 862.1h4M1378.2 862.7h4M1417.8 862.7h4M1426.3 863.2h4M1430.4 862.9h4M1434.1 863.2h4M1437.9 862.6h4M1442.2 863.1h4M1446.3 862.8h4M1341.6 867.2h4M1346.3 867.5h4M1350.7 866.5h4M1354.4 867.1h4M1358.1 867.1h4M1361.7 866.9h4M1370.3 867.6h4M1374.8 867.8h4M1490.1 866.5h4M1342.1 871.3h4M1346.1 871.2h4M1505.3 871.1h4M1514.3 870.8h4M1517.8 871.2h4M1525.9 870.9h4M1534.0 875.3h4M1538.3 875.1h4M1318.3 879.4h4M1597.9 883.7h4M1609.6 887.1h4M1614.4 886.9h4M1622.8 887.8h4M1625.3 890.2h4M1629.2 891.4h4M1633.4 890.6h4M1638.1 894.8h4M1642.4 895.0h4M1646.2 895.2h4M1666.0 906.6h4M1669.0 908.0h4M1682.2 910.7h4M1687.2 914.8h4M1693.5 915.4h4M1698.1 914.5h4M1281.6 918.8h4M1702.4 918.7h4M1706.3 919.3h4M1710.1 919.4h4M1713.8 919.3h4M1910.9 918.3h4M1934.6 918.3h4M1281.9 923.0h4M1725.7 922.8h4M1729.4 922.3h4M1893.9 922.5h4M1898.3 922.9h4M1938.6 922.6h4M1277.8 927.4h4M1745.6 926.5h4M1749.6 927.2h4M1890.5 927.4h4M1941.5 927.0h4M1886.4 930.6h4M1946.2 931.7h4M1785.7 934.9h4M1789.4 934.5h4M1797.6 935.0h4M1874.2 934.9h4M1878.3 935.4h4M1950.1 934.1h4M1285.6 958.9h4M1289.8 959.5h4M1290.6 962.9h4M1294.0 962.9h4M1297.8 971.0h4M1301.7 975.2h4M1305.8 975.4h4M1306.5 978.9h4M1310.0 979.3h4M1310.0 983.1h4M1342.2 987.1h4M1345.8 986.4h4M1349.5 986.9h4M1354.4 986.6h4M1357.8 986.7h4M1362.4 986.6h4M1366.5 987.1h4M1374.2 987.2h4M1378.0 986.9h4M1398.2 986.9h4M1405.5 987.3h4M1409.7 986.9h4M1413.3 986.8h4M1418.3 987.2h4M1422.4 986.6h4M1425.8 987.5h4M1429.9 987.3h4M1441.8 986.9h4M1446.7 987.7h4M1450.5 987.4h4M1452.9 986.6h4M1461.3 987.5h4M1465.2 987.6h4M1474.1 986.5h4M1670.9 986.9h4M1677.8 986.8h4M1701.9 987.2h4M1738.2 987.3h4M1746.6 987.7h4M1346.1 991.1h4M1350.3 991.6h4M1353.6 990.8h4M1357.5 990.9h4M1362.1 990.9h4M1491.0 990.0h4M1494.0 990.1h4M1497.9 990.5h4M1501.5 991.4h4M1506.5 991.1h4M1510.3 990.6h4M1518.6 990.2h4M1594.4 990.6h4M1598.1 990.4h4M1606.4 990.7h4M1609.9 991.2h4M1614.5 991.5h4M1621.6 990.7h4M1625.6 991.4h4M1641.7 991.2h4M1646.3 990.8h4M1650.0 991.4h4M1653.7 990.8h4M1658.5 991.9h4M1662.0 990.3h4M1666.2 990.2h4M1874.4 999.2h4M1958.4 999.4h4M1954.9 1006.6h4M1897.7 1023.6h4M1901.4 1027.6h4M1941.8 1025.9h4M1905.6 1032.5h4M1911.0 1029.9h4M1917.9 1036.4h4M1922.2 1036.0h4"/>
<path stroke="#416cfe" d="M1381.6 867.1h4M1421.9 866.8h4M1426.1 867.3h4M1353.7 871.4h4M1358.3 871.0h4M1369.9 871.4h4M1373.8 871.5h4M1378.2 871.1h4M1494.2 871.2h4M1497.8 871.6h4M1502.5 871.2h4M1506.2 875.0h4M1514.4 874.8h4M1522.1 875.4h4M1525.7 875.5h4M1529.6 875.1h4M1321.8 879.2h4M1313.9 883.0h4M1317.6 883.3h4M1594.4 887.3h4M1602.3 887.7h4M1606.3 887.0h4M1614.1 891.4h4M1618.4 891.3h4M1622.4 891.1h4M1625.1 894.0h4M1630.0 894.5h4M1638.4 898.7h4M1669.9 910.3h4M1673.5 911.9h4M1678.4 915.9h4M1685.3 918.2h4M1690.7 919.3h4M1697.8 918.8h4M1912.8 919.4h4M1919.2 918.0h4M1921.0 918.5h4M1926.8 919.0h4M1901.2 922.7h4M1906.1 923.2h4M1930.4 922.9h4M1934.0 923.1h4M1730.1 926.9h4M1734.0 926.3h4M1737.1 927.0h4M1897.9 927.5h4M1938.0 927.6h4M1742.3 930.7h4M1750.3 931.3h4M1890.2 931.2h4M1941.5 931.3h4M1882.2 934.7h4M1946.3 935.9h4M1951.1 938.1h4M1954.7 951.2h4M1293.3 959.0h4M1298.1 958.8h4M1958.6 958.6h4M1298.5 962.9h4M1302.4 962.5h4M1301.3 966.8h4M1305.9 971.3h4M1310.0 974.9h4M1314.3 978.7h4M1346.2 983.4h4M1349.8 983.1h4M1353.7 982.9h4M1361.8 982.6h4M1366.3 983.2h4M1369.6 983.5h4M1374.0 983.4h4M1378.6 983.5h4M1398.3 983.3h4M1402.4 982.8h4M1405.4 982.9h4M1410.3 982.9h4M1413.9 983.2h4M1422.2 983.2h4M1426.1 982.6h4M1430.0 982.8h4M1453.2 983.6h4M1457.8 982.8h4M1462.4 983.2h4M1465.9 983.6h4M1957.6 982.9h4M1477.6 987.9h4M1495.3 986.3h4M1498.1 987.0h4M1501.3 987.6h4M1506.2 987.3h4M1658.1 987.4h4M1662.1 987.1h4M1665.4 986.6h4M1830.4 986.7h4M1833.8 987.1h4M1837.8 987.0h4M1527.2 990.2h4M1542.3 990.5h4M1546.5 990.6h4M1550.8 991.0h4M1554.8 990.0h4M1557.5 990.3h4M1565.0 992.1h4M1568.7 991.1h4M1578.5 990.4h4M1953.2 1003.0h4M1950.0 1011.7h4M1946.3 1019.2h4M1942.3 1022.7h4M1906.6 1026.4h4M1938.3 1026.4h4M1914.5 1030.6h4M1918.0 1031.1h4M1925.9 1031.0h4M1930.4 1031.5h4"/>
<path stroke="#3a74fe" d="M1398.1 870.8h4M1497.9 874.9h4M1502.5 874.5h4M1509.8 878.7h4M1517.4 879.1h4M1526.5 879.3h4M1621.5 895.2h4M1626.2 899.3h4M1630.5 899.2h4M1634.4 902.6h4M1670.0 915.1h4M1674.8 914.7h4M1681.9 919.3h4M1690.7 923.3h4M1694.0 922.9h4M1697.6 922.6h4M1701.7 923.3h4M1917.2 923.9h4M1922.9 923.8h4M1925.7 922.4h4M1901.9 927.3h4M1933.8 926.7h4M1734.0 930.6h4M1737.7 930.5h4M1893.8 931.1h4M1945.6 938.5h4M1950.9 944.0h4M1302.2 958.5h4M1306.3 958.9h4M1305.9 963.2h4M1306.4 967.3h4M1341.8 978.9h4M1346.4 979.1h4M1362.1 978.7h4M1365.9 978.9h4M1373.8 978.9h4M1378.4 978.8h4M1397.7 979.0h4M1402.0 979.0h4M1421.9 979.1h4M1426.0 978.8h4M1442.0 979.3h4M1446.0 978.9h4M1470.2 983.7h4M1478.0 982.6h4M1481.7 983.5h4M1485.4 983.5h4M1490.5 982.9h4M1494.0 982.4h4M1498.3 982.8h4M1665.8 983.3h4M1669.9 982.5h4M1674.1 982.9h4M1702.1 983.0h4M1745.8 983.3h4M1834.2 983.1h4M1837.9 982.9h4M1517.6 986.6h4M1521.4 986.9h4M1525.4 986.2h4M1532.4 985.9h4M1542.0 987.5h4M1550.0 986.7h4M1558.1 987.3h4M1566.8 986.8h4M1570.9 986.3h4M1574.0 986.9h4M1877.9 991.4h4M1878.0 994.8h4M1954.9 997.9h4M1910.0 1027.2h4M1934.2 1026.7h4"/>
<path stroke="#327cfc" d="M1397.7 875.3h4M1374.3 878.6h4M1518.0 883.1h4M1521.8 883.1h4M1618.3 899.0h4M1621.5 899.5h4M1626.3 902.8h4M1630.4 902.8h4M1673.7 918.8h4M1681.9 922.9h4M1685.4 923.2h4M1690.4 927.5h4M1694.2 926.5h4M1697.7 927.0h4M1701.8 927.1h4M1906.0 926.9h4M1910.2 926.6h4M1914.8 927.4h4M1925.4 926.4h4M1930.1 926.6h4M1937.8 930.8h4M1941.3 934.9h4M1946.4 942.7h4M1950.6 947.6h4M1817.8 954.8h4M1822.3 955.0h4M1853.7 955.3h4M1826.3 958.8h4M1829.6 958.6h4M1953.9 959.0h4M1833.8 971.5h4M1398.1 975.3h4M1449.5 979.0h4M1454.6 979.6h4M1457.6 978.5h4M1462.1 978.9h4M1465.8 978.7h4M1470.5 978.9h4M1477.7 979.1h4M1482.1 978.7h4M1514.0 983.1h4M1526.0 982.8h4M1878.2 986.9h4M1954.2 991.9h4M1950.0 1006.8h4"/>
<path stroke="#2e84f9" d="M1398.3 879.4h4M1374.3 883.0h4M1617.8 903.0h4M1677.9 922.9h4M1685.6 927.3h4M1922.7 926.9h4M1694.0 931.2h4M1698.0 931.5h4M1701.9 931.2h4M1934.2 931.1h4M1938.4 935.0h4M1758.2 954.9h4M1949.9 954.7h4M1797.9 959.0h4M1822.0 959.3h4M1849.7 958.9h4M1853.8 958.9h4M1797.8 963.0h4M1801.7 963.3h4M1818.2 962.9h4M1821.4 962.5h4M1826.8 962.6h4M1833.8 962.6h4M1838.5 963.2h4M1841.7 963.3h4M1846.1 962.8h4M1801.9 966.9h4M1817.7 967.2h4M1822.0 966.8h4M1829.4 967.1h4M1834.2 967.0h4M1842.5 966.5h4M1826.2 971.4h4M1450.1 975.2h4M1454.4 975.0h4M1470.4 974.7h4M1721.8 974.8h4M1730.1 975.0h4M1734.1 975.1h4M1498.0 979.0h4M1502.4 978.7h4M1506.1 978.8h4M1701.6 979.3h4M1533.5 982.6h4M1537.8 984.0h4M1541.6 983.1h4M1562.2 982.6h4M1566.3 983.0h4M1569.9 982.6h4M1882.1 986.6h4M1954.2 986.9h4M1881.9 991.0h4M1950.0 998.4h4M1950.5 1003.0h4"/>
<path stroke="#2d8bf4" d="M1369.7 886.7h4M1374.3 887.1h4M1918.3 930.8h4M1922.4 931.4h4M1926.3 931.4h4M1749.6 955.4h4M1753.7 955.5h4M1746.0 959.1h4M1749.8 959.6h4M1753.4 958.9h4M1737.9 963.4h4M1741.9 963.0h4M1749.8 962.8h4M1754.5 962.5h4M1738.5 966.6h4M1742.4 966.8h4M1750.2 966.7h4M1754.0 967.1h4M1394.5 970.9h4M1722.2 970.7h4M1729.7 971.7h4M1734.4 971.3h4M1737.9 971.4h4M1477.7 975.2h4M1701.8 974.7h4M1530.3 979.1h4M1533.6 979.4h4M1537.9 979.1h4M1565.8 979.0h4M1882.0 983.3h4"/>
<path stroke="#2b92ee" d="M1365.7 891.1h4M1370.4 890.6h4M1345.9 895.1h4M1349.7 894.8h4M1354.0 895.2h4M1938.0 938.7h4M1713.7 951.3h4M1718.0 951.4h4M1710.0 955.3h4M1714.4 955.5h4M1714.2 959.1h4M1717.8 958.7h4M1722.0 959.4h4M1725.6 959.1h4M1722.6 963.0h4M1725.3 962.3h4M1730.0 962.8h4M1734.4 963.2h4M1389.7 966.9h4M1393.8 967.1h4M1721.6 966.3h4M1726.1 967.6h4M1730.4 967.2h4M1886.1 986.8h4M1950.3 994.7h4"/>
<path stroke="#2699e9" d="M1398.0 886.8h4M1373.9 891.2h4M1357.6 894.8h4M1361.9 895.2h4M1369.8 894.4h4M1549.9 899.2h4M1529.9 975.1h4M1533.3 975.5h4"/>
<path stroke="#249fe5" d="M1398.4 890.7h4M1373.5 895.5h4M1361.8 899.2h4M1365.9 898.8h4M1370.4 899.6h4M1362.4 902.7h4M1678.1 955.1h4M1678.3 958.9h4M1418.1 963.1h4M1537.6 974.9h4"/>
<path stroke="#1fa5e2" d="M1374.4 898.9h4M1366.3 902.8h4M1370.2 903.1h4M1374.1 902.9h4M1546.4 903.3h4M1549.8 903.2h4M1365.9 907.3h4M1673.8 955.0h4M1421.7 963.3h4"/>
<path stroke="#1aabdd" d="M1418.1 958.6h4M1421.5 958.8h4M1529.4 971.0h4"/>
<path stroke="#13b0d7" d="M1550.0 907.1h4M1538.5 971.0h4"/>
<path stroke="#07b5cf" d="M1418.2 954.9h4M1421.9 954.5h4"/>
<path stroke="#09bdbe" d="M1529.3 966.5h4M1534.7 967.0h4"/>
<path stroke="#1bc0b4" d="M1538.3 967.6h4"/>
<path stroke="#31c5a1" d="M1538.2 962.8h4"/></g>
<polyline points="98.5,229.92 887.07,300.11" fill="none" stroke="#d95319" stroke-width="4.2"/>
<polyline points="98.5,194.03 111.87,197.3 125.23,200.52 138.6,203.69 151.96,206.81 165.33,209.87 178.69,212.89 192.06,215.86 205.43,218.77 218.79,221.63 232.16,224.45 245.52,227.21 258.89,229.92 272.25,232.57 285.62,235.18 298.98,237.74 312.35,240.24 325.72,242.7 339.08,245.1 352.45,247.45 365.81,249.75 379.18,252 392.54,254.2 405.91,256.35 419.28,258.45 432.64,260.49 446.01,262.49 459.37,264.43 472.74,266.32 486.1,268.17 499.47,269.96 512.83,271.69 526.2,273.38 539.57,275.02 552.93,276.61 566.3,278.14 579.66,279.62 593.03,281.06 606.39,282.44 619.76,283.77 633.13,285.05 646.49,286.28 659.86,287.45 673.22,288.58 686.59,289.65 699.95,290.68 713.32,291.65 726.68,292.57 740.05,293.44 753.42,294.26 766.78,295.03 780.15,295.75 793.51,296.41 806.88,297.03 820.24,297.59 833.61,298.11 846.98,298.57 860.34,298.98 873.71,299.34 887.07,299.65" fill="none" stroke="#000" stroke-width="4.8"/>
<path d="M98.5 50H936V500H98.5Z" fill="none" stroke="#000" stroke-width="2.2"/>
<path d="M171.96 500v10M171.96 50v-10M318.89 500v10M318.89 50v-10M465.82 500v10M465.82 50v-10M612.75 500v10M612.75 50v-10M759.68 500v10M759.68 50v-10M906.61 500v10M906.61 50v-10M98.5 500h-10M936 500h10M98.5 410h-10M936 410h10M98.5 320h-10M936 320h10M98.5 230h-10M936 230h10M98.5 140h-10M936 140h10M98.5 50h-10M936 50h10" stroke="#000" stroke-width="2"/>
<text transform="translate(171.96 546.5) scale(1.040 1)" text-anchor="middle" class="tk">-20</text>
<text transform="translate(318.89 546.5) scale(1.040 1)" text-anchor="middle" class="tk">-10</text>
<text transform="translate(465.82 546.5) scale(1.040 1)" text-anchor="middle" class="tk">0</text>
<text transform="translate(612.75 546.5) scale(1.040 1)" text-anchor="middle" class="tk">10</text>
<text transform="translate(759.68 546.5) scale(1.040 1)" text-anchor="middle" class="tk">20</text>
<text transform="translate(906.61 546.5) scale(1.040 1)" text-anchor="middle" class="tk">30</text>
<text transform="translate(80.5 510.8) scale(1.040 1)" text-anchor="end" class="tk">-1</text>
<text transform="translate(80.5 420.8) scale(1.040 1)" text-anchor="end" class="tk">0</text>
<text transform="translate(80.5 330.8) scale(1.040 1)" text-anchor="end" class="tk">1</text>
<text transform="translate(80.5 240.8) scale(1.040 1)" text-anchor="end" class="tk">2</text>
<text transform="translate(80.5 150.8) scale(1.040 1)" text-anchor="end" class="tk">3</text>
<text transform="translate(80.5 60.8) scale(1.040 1)" text-anchor="end" class="tk">4</text>
<text transform="translate(517.25 586) scale(0.985 1)" text-anchor="middle" class="al">MAT(°C)</text>
<text transform="translate(26 275) rotate(-90) scale(1.015 1)" text-anchor="middle" class="al">Turnover Time (log<tspan dy="15.5" class="als">10</tspan><tspan dy="-15.5"> (yr))</tspan></text>
<text transform="translate(517.25 25) scale(1.060 1)" text-anchor="middle" class="ti"><tspan>C</tspan><tspan dy="16.5" class="ts">HWSD</tspan><tspan dy="-16.5"> + NPP</tspan><tspan dy="16.5" class="ts">MODIS</tspan><tspan dy="-16.5"> (Koven et al.)</tspan></text>
<rect x="517.3" y="60.9" width="408.3" height="71.6" fill="#fff" stroke="#000" stroke-width="1.6"/>
<path d="M523.5 80.3h41" stroke="#d95319" stroke-width="4.2"/>
<path d="M523.5 113.1h41" stroke="#000" stroke-width="4.8"/>
<text transform="translate(569 90) scale(1.058 1)" class="lg">Linear fit (AIC:-77022.39)</text>
<text transform="translate(569 123.2) scale(1.058 1)" class="lg">Quadratic fit (AIC:-82059.07)</text>
<text transform="translate(612.5 173.5) scale(1.063 1)" class="rm">RMSE (Quadratic): 0.26</text>
<text transform="translate(612.5 192) scale(1.063 1)" class="rm">RMSE (Linear): 0.26</text>
<path d="M154.4 342.2V454.9H364.5" fill="none" stroke="#000" stroke-width="1.7"/>
<path d="M172.83 454.9v3M246.55 454.9v3M320.27 454.9v3M154.4 454.9h-3M154.4 374.4h-3" stroke="#000" stroke-width="1.3"/>
<text transform="translate(172.83 480.4) scale(1.100 1)" text-anchor="middle" class="itk">-20</text>
<text transform="translate(246.55 480.4) scale(1.100 1)" text-anchor="middle" class="itk">0</text>
<text transform="translate(320.27 480.4) scale(1.100 1)" text-anchor="middle" class="itk">20</text>
<text transform="translate(145.4 460.4) scale(1.100 1)" text-anchor="end" class="itk">0</text>
<text transform="translate(145.4 379.9) scale(1.100 1)" text-anchor="end" class="itk">5</text>
<text transform="translate(259.45 504.4)" text-anchor="middle" class="il">MAT(°C)</text>
<text transform="translate(125.4 399.05) rotate(-90) scale(1.065 1)" text-anchor="middle" class="il">Q10</text>
<polyline points="154.4,413.73 161.23,414.8 168.05,415.84 174.88,416.87 181.7,417.88 188.53,418.87 195.35,419.84 202.18,420.79 209,421.73 215.83,422.65 222.65,423.55 229.48,424.43 236.3,425.29 243.13,426.14 249.96,426.96 256.78,427.77 263.61,428.56 270.43,429.33 277.26,430.09 284.08,430.82 290.91,431.54 297.73,432.24 304.56,432.92 311.38,433.59 318.21,434.23 325.03,434.86 331.86,435.47 338.69,436.06 345.51,436.63 352.34,437.18" fill="none" stroke="#000" stroke-width="1.3"/>
<polyline points="1175.9,207.96 1978.14,313.94" fill="none" stroke="#d95319" stroke-width="4.2"/>
<polyline points="1175.9,216.95 1189.5,218.23 1203.09,219.52 1216.69,220.82 1230.29,222.14 1243.89,223.46 1257.48,224.8 1271.08,226.15 1284.68,227.52 1298.28,228.89 1311.87,230.28 1325.47,231.68 1339.07,233.09 1352.66,234.52 1366.26,235.95 1379.86,237.4 1393.46,238.86 1407.05,240.33 1420.65,241.82 1434.25,243.31 1447.84,244.82 1461.44,246.34 1475.04,247.87 1488.64,249.42 1502.23,250.97 1515.83,252.54 1529.43,254.12 1543.03,255.72 1556.62,257.32 1570.22,258.94 1583.82,260.57 1597.41,262.21 1611.01,263.86 1624.61,265.53 1638.21,267.21 1651.8,268.89 1665.4,270.6 1679,272.31 1692.59,274.04 1706.19,275.77 1719.79,277.52 1733.39,279.29 1746.98,281.06 1760.58,282.85 1774.18,284.64 1787.78,286.46 1801.37,288.28 1814.97,290.11 1828.57,291.96 1842.16,293.82 1855.76,295.69 1869.36,297.57 1882.96,299.47 1896.55,301.37 1910.15,303.29 1923.75,305.22 1937.35,307.17 1950.94,309.12 1964.54,311.09 1978.14,313.07" fill="none" stroke="#000" stroke-width="4.8"/>
<path d="M1175.9 50H2013.4V500H1175.9Z" fill="none" stroke="#000" stroke-width="2.2"/>
<path d="M1249.36 500v10M1249.36 50v-10M1396.29 500v10M1396.29 50v-10M1543.22 500v10M1543.22 50v-10M1690.15 500v10M1690.15 50v-10M1837.08 500v10M1837.08 50v-10M1984.01 500v10M1984.01 50v-10M1175.9 500h-10M2013.4 500h10M1175.9 410h-10M2013.4 410h10M1175.9 320h-10M2013.4 320h10M1175.9 230h-10M2013.4 230h10M1175.9 140h-10M2013.4 140h10M1175.9 50h-10M2013.4 50h10" stroke="#000" stroke-width="2"/>
<text transform="translate(1249.36 546.5) scale(1.040 1)" text-anchor="middle" class="tk">-20</text>
<text transform="translate(1396.29 546.5) scale(1.040 1)" text-anchor="middle" class="tk">-10</text>
<text transform="translate(1543.22 546.5) scale(1.040 1)" text-anchor="middle" class="tk">0</text>
<text transform="translate(1690.15 546.5) scale(1.040 1)" text-anchor="middle" class="tk">10</text>
<text transform="translate(1837.08 546.5) scale(1.040 1)" text-anchor="middle" class="tk">20</text>
<text transform="translate(1984.01 546.5) scale(1.040 1)" text-anchor="middle" class="tk">30</text>
<text transform="translate(1157.9 510.8) scale(1.040 1)" text-anchor="end" class="tk">-1</text>
<text transform="translate(1157.9 420.8) scale(1.040 1)" text-anchor="end" class="tk">0</text>
<text transform="translate(1157.9 330.8) scale(1.040 1)" text-anchor="end" class="tk">1</text>
<text transform="translate(1157.9 240.8) scale(1.040 1)" text-anchor="end" class="tk">2</text>
<text transform="translate(1157.9 150.8) scale(1.040 1)" text-anchor="end" class="tk">3</text>
<text transform="translate(1157.9 60.8) scale(1.040 1)" text-anchor="end" class="tk">4</text>
<text transform="translate(1594.65 586) scale(0.985 1)" text-anchor="middle" class="al">MAT(°C)</text>
<text transform="translate(1103.4 275) rotate(-90) scale(1.015 1)" text-anchor="middle" class="al">Turnover Time (log<tspan dy="15.5" class="als">10</tspan><tspan dy="-15.5"> (yr))</tspan></text>
<text transform="translate(1594.65 25) scale(1.060 1)" text-anchor="middle" class="ti"><tspan>C</tspan><tspan dy="16.5" class="ts">total</tspan><tspan dy="-16.5"> + GPP</tspan><tspan dy="16.5" class="ts">FLUXCOM</tspan></text>
<rect x="1594.7" y="60.9" width="408.3" height="71.6" fill="#fff" stroke="#000" stroke-width="1.6"/>
<path d="M1600.9 80.3h41" stroke="#d95319" stroke-width="4.2"/>
<path d="M1600.9 113.1h41" stroke="#000" stroke-width="4.8"/>
<text transform="translate(1646.4 90) scale(1.058 1)" class="lg">Linear fit (AIC:-78360.98)</text>
<text transform="translate(1646.4 123.2) scale(1.058 1)" class="lg">Quadratic fit (AIC:-76816.19)</text>
<text transform="translate(1689.9 173.5) scale(1.063 1)" class="rm">RMSE (Quadratic): 0.21</text>
<text transform="translate(1689.9 192) scale(1.063 1)" class="rm">RMSE (Linear): 0.21</text>
<path d="M1231.8 342.2V454.9H1441.9" fill="none" stroke="#000" stroke-width="1.7"/>
<path d="M1250.23 454.9v3M1323.95 454.9v3M1397.67 454.9v3M1231.8 454.9h-3M1231.8 374.4h-3" stroke="#000" stroke-width="1.3"/>
<text transform="translate(1250.23 480.4) scale(1.100 1)" text-anchor="middle" class="itk">-20</text>
<text transform="translate(1323.95 480.4) scale(1.100 1)" text-anchor="middle" class="itk">0</text>
<text transform="translate(1397.67 480.4) scale(1.100 1)" text-anchor="middle" class="itk">20</text>
<text transform="translate(1222.8 460.4) scale(1.100 1)" text-anchor="end" class="itk">0</text>
<text transform="translate(1222.8 379.9) scale(1.100 1)" text-anchor="end" class="itk">5</text>
<text transform="translate(1336.85 504.4)" text-anchor="middle" class="il">MAT(°C)</text>
<text transform="translate(1202.8 399.05) rotate(-90) scale(1.065 1)" text-anchor="middle" class="il">Q10</text>
<polyline points="1231.8,432.36 1432.69,426.89" fill="none" stroke="#000" stroke-width="1.3"/>
<polyline points="98.5,853.6 887.07,940.5" fill="none" stroke="#d95319" stroke-width="4.2"/>
<polyline points="98.5,842.35 111.87,844.48 125.23,846.59 138.6,848.69 151.96,850.77 165.33,852.84 178.69,854.9 192.06,856.94 205.43,858.96 218.79,860.97 232.16,862.96 245.52,864.94 258.89,866.91 272.25,868.86 285.62,870.79 298.98,872.71 312.35,874.62 325.72,876.51 339.08,878.38 352.45,880.24 365.81,882.09 379.18,883.91 392.54,885.73 405.91,887.53 419.28,889.31 432.64,891.08 446.01,892.84 459.37,894.58 472.74,896.3 486.1,898.01 499.47,899.71 512.83,901.39 526.2,903.05 539.57,904.7 552.93,906.34 566.3,907.96 579.66,909.56 593.03,911.15 606.39,912.73 619.76,914.29 633.13,915.83 646.49,917.36 659.86,918.88 673.22,920.38 686.59,921.86 699.95,923.33 713.32,924.79 726.68,926.23 740.05,927.66 753.42,929.07 766.78,930.46 780.15,931.84 793.51,933.21 806.88,934.56 820.24,935.89 833.61,937.21 846.98,938.52 860.34,939.81 873.71,941.09 887.07,942.35" fill="none" stroke="#000" stroke-width="4.8"/>
<path d="M98.5 707.8H936V1157.8H98.5Z" fill="none" stroke="#000" stroke-width="2.2"/>
<path d="M171.96 1157.8v10M171.96 707.8v-10M318.89 1157.8v10M318.89 707.8v-10M465.82 1157.8v10M465.82 707.8v-10M612.75 1157.8v10M612.75 707.8v-10M759.68 1157.8v10M759.68 707.8v-10M906.61 1157.8v10M906.61 707.8v-10M98.5 1157.8h-10M936 1157.8h10M98.5 1067.8h-10M936 1067.8h10M98.5 977.8h-10M936 977.8h10M98.5 887.8h-10M936 887.8h10M98.5 797.8h-10M936 797.8h10M98.5 707.8h-10M936 707.8h10" stroke="#000" stroke-width="2"/>
<text transform="translate(171.96 1204.3) scale(1.040 1)" text-anchor="middle" class="tk">-20</text>
<text transform="translate(318.89 1204.3) scale(1.040 1)" text-anchor="middle" class="tk">-10</text>
<text transform="translate(465.82 1204.3) scale(1.040 1)" text-anchor="middle" class="tk">0</text>
<text transform="translate(612.75 1204.3) scale(1.040 1)" text-anchor="middle" class="tk">10</text>
<text transform="translate(759.68 1204.3) scale(1.040 1)" text-anchor="middle" class="tk">20</text>
<text transform="translate(906.61 1204.3) scale(1.040 1)" text-anchor="middle" class="tk">30</text>
<text transform="translate(80.5 1168.6) scale(1.040 1)" text-anchor="end" class="tk">-1</text>
<text transform="translate(80.5 1078.6) scale(1.040 1)" text-anchor="end" class="tk">0</text>
<text transform="translate(80.5 988.6) scale(1.040 1)" text-anchor="end" class="tk">1</text>
<text transform="translate(80.5 898.6) scale(1.040 1)" text-anchor="end" class="tk">2</text>
<text transform="translate(80.5 808.6) scale(1.040 1)" text-anchor="end" class="tk">3</text>
<text transform="translate(80.5 718.6) scale(1.040 1)" text-anchor="end" class="tk">4</text>
<text transform="translate(517.25 1243.8) scale(0.985 1)" text-anchor="middle" class="al">MAT(°C)</text>
<text transform="translate(26 932.8) rotate(-90) scale(1.015 1)" text-anchor="middle" class="al">Turnover Time (log<tspan dy="15.5" class="als">10</tspan><tspan dy="-15.5"> (yr))</tspan></text>
<text transform="translate(517.25 682.8) scale(1.060 1)" text-anchor="middle" class="ti"><tspan>C</tspan><tspan dy="16.5" class="ts">total</tspan><tspan dy="-16.5"> + NPP</tspan><tspan dy="16.5" class="ts">MODIS</tspan></text>
<rect x="517.3" y="718.7" width="408.3" height="71.6" fill="#fff" stroke="#000" stroke-width="1.6"/>
<path d="M523.5 738.1h41" stroke="#d95319" stroke-width="4.2"/>
<path d="M523.5 770.9h41" stroke="#000" stroke-width="4.8"/>
<text transform="translate(569 747.8) scale(1.058 1)" class="lg">Linear fit (AIC:-70290.56)</text>
<text transform="translate(569 781) scale(1.058 1)" class="lg">Quadratic fit (AIC:-72862.71)</text>
<text transform="translate(612.5 831.3) scale(1.063 1)" class="rm">RMSE (Quadratic): 0.20</text>
<text transform="translate(612.5 849.8) scale(1.063 1)" class="rm">RMSE (Linear): 0.20</text>
<path d="M154.4 1000V1112.7H364.5" fill="none" stroke="#000" stroke-width="1.7"/>
<path d="M172.83 1112.7v3M246.55 1112.7v3M320.27 1112.7v3M154.4 1112.7h-3M154.4 1032.2h-3" stroke="#000" stroke-width="1.3"/>
<text transform="translate(172.83 1138.2) scale(1.100 1)" text-anchor="middle" class="itk">-20</text>
<text transform="translate(246.55 1138.2) scale(1.100 1)" text-anchor="middle" class="itk">0</text>
<text transform="translate(320.27 1138.2) scale(1.100 1)" text-anchor="middle" class="itk">20</text>
<text transform="translate(145.4 1118.2) scale(1.100 1)" text-anchor="end" class="itk">0</text>
<text transform="translate(145.4 1037.7) scale(1.100 1)" text-anchor="end" class="itk">5</text>
<text transform="translate(259.45 1162.2)" text-anchor="middle" class="il">MAT(°C)</text>
<text transform="translate(125.4 1056.85) rotate(-90) scale(1.065 1)" text-anchor="middle" class="il">Q10</text>
<polyline points="154.4,1082.43 352.34,1090.32" fill="none" stroke="#000" stroke-width="1.3"/>
<polyline points="1175.9,898.4 1977.84,985.67" fill="none" stroke="#d95319" stroke-width="4.2"/>
<polyline points="1175.9,886.65 1189.49,888.81 1203.08,890.96 1216.68,893.08 1230.27,895.2 1243.86,897.29 1257.45,899.37 1271.05,901.43 1284.64,903.47 1298.23,905.5 1311.82,907.51 1325.41,909.51 1339.01,911.49 1352.6,913.45 1366.19,915.39 1379.78,917.32 1393.38,919.23 1406.97,921.13 1420.56,923 1434.15,924.87 1447.75,926.71 1461.34,928.54 1474.93,930.35 1488.52,932.15 1502.11,933.92 1515.71,935.69 1529.3,937.43 1542.89,939.16 1556.48,940.87 1570.08,942.57 1583.67,944.25 1597.26,945.91 1610.85,947.55 1624.44,949.18 1638.04,950.79 1651.63,952.39 1665.22,953.97 1678.81,955.53 1692.41,957.07 1706,958.6 1719.59,960.11 1733.18,961.61 1746.77,963.09 1760.37,964.55 1773.96,966 1787.55,967.42 1801.14,968.84 1814.74,970.23 1828.33,971.61 1841.92,972.97 1855.51,974.32 1869.1,975.65 1882.7,976.96 1896.29,978.26 1909.88,979.53 1923.47,980.8 1937.07,982.04 1950.66,983.27 1964.25,984.48 1977.84,985.68" fill="none" stroke="#000" stroke-width="4.8"/>
<path d="M1175.9 707.8H2013.4V1157.8H1175.9Z" fill="none" stroke="#000" stroke-width="2.2"/>
<path d="M1249.36 1157.8v10M1249.36 707.8v-10M1396.29 1157.8v10M1396.29 707.8v-10M1543.22 1157.8v10M1543.22 707.8v-10M1690.15 1157.8v10M1690.15 707.8v-10M1837.08 1157.8v10M1837.08 707.8v-10M1984.01 1157.8v10M1984.01 707.8v-10M1175.9 1157.8h-10M2013.4 1157.8h10M1175.9 1067.8h-10M2013.4 1067.8h10M1175.9 977.8h-10M2013.4 977.8h10M1175.9 887.8h-10M2013.4 887.8h10M1175.9 797.8h-10M2013.4 797.8h10M1175.9 707.8h-10M2013.4 707.8h10" stroke="#000" stroke-width="2"/>
<text transform="translate(1249.36 1204.3) scale(1.040 1)" text-anchor="middle" class="tk">-20</text>
<text transform="translate(1396.29 1204.3) scale(1.040 1)" text-anchor="middle" class="tk">-10</text>
<text transform="translate(1543.22 1204.3) scale(1.040 1)" text-anchor="middle" class="tk">0</text>
<text transform="translate(1690.15 1204.3) scale(1.040 1)" text-anchor="middle" class="tk">10</text>
<text transform="translate(1837.08 1204.3) scale(1.040 1)" text-anchor="middle" class="tk">20</text>
<text transform="translate(1984.01 1204.3) scale(1.040 1)" text-anchor="middle" class="tk">30</text>
<text transform="translate(1157.9 1168.6) scale(1.040 1)" text-anchor="end" class="tk">-1</text>
<text transform="translate(1157.9 1078.6) scale(1.040 1)" text-anchor="end" class="tk">0</text>
<text transform="translate(1157.9 988.6) scale(1.040 1)" text-anchor="end" class="tk">1</text>
<text transform="translate(1157.9 898.6) scale(1.040 1)" text-anchor="end" class="tk">2</text>
<text transform="translate(1157.9 808.6) scale(1.040 1)" text-anchor="end" class="tk">3</text>
<text transform="translate(1157.9 718.6) scale(1.040 1)" text-anchor="end" class="tk">4</text>
<text transform="translate(1594.65 1243.8) scale(0.985 1)" text-anchor="middle" class="al">MAT(°C)</text>
<text transform="translate(1103.4 932.8) rotate(-90) scale(1.015 1)" text-anchor="middle" class="al">Turnover Time (log<tspan dy="15.5" class="als">10</tspan><tspan dy="-15.5"> (yr))</tspan></text>
<text transform="translate(1594.65 682.8) scale(1.060 1)" text-anchor="middle" class="ti"><tspan>C</tspan><tspan dy="16.5" class="ts">HWSD</tspan><tspan dy="-16.5"> + GPP</tspan><tspan dy="16.5" class="ts">FLUXCOM</tspan></text>
<rect x="1594.7" y="718.7" width="408.3" height="71.6" fill="#fff" stroke="#000" stroke-width="1.6"/>
<path d="M1600.9 738.1h41" stroke="#d95319" stroke-width="4.2"/>
<path d="M1600.9 770.9h41" stroke="#000" stroke-width="4.8"/>
<text transform="translate(1646.4 747.8) scale(1.058 1)" class="lg">Linear fit (AIC:-69662.50)</text>
<text transform="translate(1646.4 781) scale(1.058 1)" class="lg">Quadratic fit (AIC:-71383.45)</text>
<text transform="translate(1689.9 831.3) scale(1.063 1)" class="rm">RMSE (Quadratic): 0.26</text>
<text transform="translate(1689.9 849.8) scale(1.063 1)" class="rm">RMSE (Linear): 0.26</text>
<path d="M1231.8 1000V1112.7H1441.9" fill="none" stroke="#000" stroke-width="1.7"/>
<path d="M1250.23 1112.7v3M1323.95 1112.7v3M1397.67 1112.7v3M1231.8 1112.7h-3M1231.8 1032.2h-3" stroke="#000" stroke-width="1.3"/>
<text transform="translate(1250.23 1138.2) scale(1.100 1)" text-anchor="middle" class="itk">-20</text>
<text transform="translate(1323.95 1138.2) scale(1.100 1)" text-anchor="middle" class="itk">0</text>
<text transform="translate(1397.67 1138.2) scale(1.100 1)" text-anchor="middle" class="itk">20</text>
<text transform="translate(1222.8 1118.2) scale(1.100 1)" text-anchor="end" class="itk">0</text>
<text transform="translate(1222.8 1037.7) scale(1.100 1)" text-anchor="end" class="itk">5</text>
<text transform="translate(1336.85 1162.2)" text-anchor="middle" class="il">MAT(°C)</text>
<text transform="translate(1202.8 1056.85) rotate(-90) scale(1.065 1)" text-anchor="middle" class="il">Q10</text>
<polyline points="1231.8,1083.08 1432.69,1090.48" fill="none" stroke="#000" stroke-width="1.3"/>
<defs><linearGradient id="cb" x1="0" y1="1" x2="0" y2="0"><stop offset="0" stop-color="#3e26a8"/><stop offset="0.05" stop-color="#4332cb"/><stop offset="0.1" stop-color="#4741e5"/><stop offset="0.14" stop-color="#4852f4"/><stop offset="0.19" stop-color="#4563fd"/><stop offset="0.24" stop-color="#3875fe"/><stop offset="0.29" stop-color="#2e87f7"/><stop offset="0.33" stop-color="#2797eb"/><stop offset="0.38" stop-color="#20a5e3"/><stop offset="0.43" stop-color="#12b1d6"/><stop offset="0.48" stop-color="#02bac3"/><stop offset="0.52" stop-color="#24c1ae"/><stop offset="0.57" stop-color="#37c897"/><stop offset="0.62" stop-color="#57cc7a"/><stop offset="0.67" stop-color="#81cc59"/><stop offset="0.71" stop-color="#abc739"/><stop offset="0.76" stop-color="#d1bf27"/><stop offset="0.81" stop-color="#f0ba36"/><stop offset="0.86" stop-color="#fec338"/><stop offset="0.9" stop-color="#fad62d"/><stop offset="0.95" stop-color="#f5e924"/><stop offset="1" stop-color="#f9fb15"/><stop offset="1" stop-color="#f9fb15"/></linearGradient></defs>
<rect x="2061.1" y="115.6" width="48.3" height="278.2" fill="url(#cb)" stroke="#262626" stroke-width="1"/>
<path d="M2109.4 393.8h-3M2109.4 338.16h-3M2109.4 282.52h-3M2109.4 226.88h-3M2109.4 171.24h-3M2109.4 115.6h-3" stroke="#262626" stroke-width="1"/>
<text x="2115.5" y="399.6" class="cbt">0</text>
<text x="2115.5" y="343.96" class="cbt">0.2</text>
<text x="2115.5" y="288.32" class="cbt">0.4</text>
<text x="2115.5" y="232.68" class="cbt">0.6</text>
<text x="2115.5" y="177.04" class="cbt">0.8</text>
<text x="2115.5" y="121.4" class="cbt">1</text>
<text transform="translate(2159 254) rotate(-90)" text-anchor="middle" class="cbl">Probability</text>
</svg>
</body></html>
